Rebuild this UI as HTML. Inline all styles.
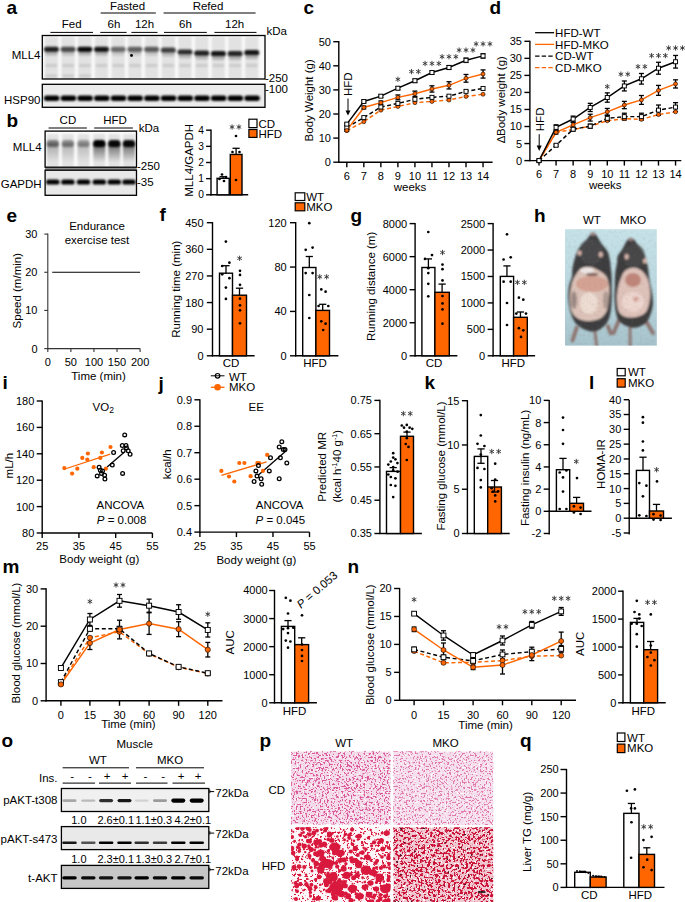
<!DOCTYPE html>
<html><head><meta charset="utf-8"><style>
html,body{margin:0;padding:0;background:#fff;}
svg{display:block;}
text{font-family:"Liberation Sans",sans-serif;}
</style></head><body>
<svg width="685" height="902" viewBox="0 0 685 902" font-family="Liberation Sans, sans-serif" font-size="11.5" stroke-linecap="butt">
<defs>
<filter id="tx1" x="0" y="0" width="100%" height="100%" color-interpolation-filters="sRGB"><feTurbulence type="fractalNoise" baseFrequency="0.55" numOctaves="2" seed="3"/><feColorMatrix type="matrix" values="0 0 0 0 0.86  0 0 0 0 0.35  0 0 0 0 0.6  14 0 0 0 -7.63"/></filter>
<filter id="tx1b" x="0" y="0" width="100%" height="100%" color-interpolation-filters="sRGB"><feTurbulence type="fractalNoise" baseFrequency="0.5" numOctaves="2" seed="9"/><feColorMatrix type="matrix" values="0 0 0 0 1  0 0 0 0 1  0 0 0 0 1  14 0 0 0 -8.96"/></filter>
<filter id="tx2" x="0" y="0" width="100%" height="100%" color-interpolation-filters="sRGB"><feTurbulence type="fractalNoise" baseFrequency="0.55" numOctaves="2" seed="5"/><feColorMatrix type="matrix" values="0 0 0 0 0.88  0 0 0 0 0.48  0 0 0 0 0.68  14 0 0 0 -7.84"/></filter>
<filter id="tx3" x="0" y="0" width="100%" height="100%" color-interpolation-filters="sRGB"><feTurbulence type="fractalNoise" baseFrequency="0.45" numOctaves="2" seed="7"/><feColorMatrix type="matrix" values="0 0 0 0 0.85  0 0 0 0 0.09  0 0 0 0 0.22  20 0 0 0 -12.2"/></filter>
<filter id="tx4" x="0" y="0" width="100%" height="100%" color-interpolation-filters="sRGB"><feTurbulence type="fractalNoise" baseFrequency="0.4" numOctaves="2" seed="11"/><feColorMatrix type="matrix" values="0 0 0 0 0.8  0 0 0 0 0.08  0 0 0 0 0.22  20 0 0 0 -10.3"/></filter>
<filter id="tx4c" x="0" y="0" width="100%" height="100%" color-interpolation-filters="sRGB"><feTurbulence type="fractalNoise" baseFrequency="0.3" numOctaves="2" seed="17"/><feColorMatrix type="matrix" values="0 0 0 0 0.3  0 0 0 0 0.1  0 0 0 0 0.15  20 0 0 0 -14.8"/></filter>
<filter id="tx4b" x="0" y="0" width="100%" height="100%" color-interpolation-filters="sRGB"><feTurbulence type="fractalNoise" baseFrequency="0.5" numOctaves="2" seed="13"/><feColorMatrix type="matrix" values="0 0 0 0 1  0 0 0 0 1  0 0 0 0 1  20 0 0 0 -13.0"/></filter>
<filter id="txm" x="0" y="0" width="100%" height="100%" color-interpolation-filters="sRGB"><feTurbulence type="fractalNoise" baseFrequency="0.35" numOctaves="2" seed="21"/><feColorMatrix type="matrix" values="0 0 0 0 0.55  0 0 0 0 0.5  0 0 0 0 0.5  2 0 0 0 -1.0"/></filter>
<filter id="bl1" x="-50%" y="-100%" width="200%" height="300%"><feGaussianBlur stdDeviation="1.1"/></filter>
<filter id="bl2" x="-50%" y="-20%" width="200%" height="140%"><feGaussianBlur stdDeviation="1.5"/></filter>
<linearGradient id="smg" x1="0" y1="0" x2="0" y2="1"><stop offset="0" stop-color="#000" stop-opacity="1"/><stop offset="1" stop-color="#000" stop-opacity="0"/></linearGradient>
<filter id="blm" x="-10%" y="-10%" width="120%" height="120%"><feGaussianBlur stdDeviation="0.9"/></filter>
<linearGradient id="hbg" x1="0" y1="0" x2="0" y2="1"><stop offset="0" stop-color="#c6e2e8"/><stop offset="0.6" stop-color="#b8d6de"/><stop offset="1" stop-color="#a6c2ca"/></linearGradient>
<filter id="bl06" x="-50%" y="-100%" width="200%" height="300%"><feGaussianBlur stdDeviation="0.65"/></filter>
<filter id="bl07"><feGaussianBlur stdDeviation="0.7"/></filter>
<clipPath id="hclip"><rect x="565" y="229.2" width="91.8" height="116.4"/></clipPath>
</defs>
<text x="6.5" y="14.3" font-size="19" font-weight="bold">a</text>
<text x="127.5" y="10.3" text-anchor="middle">Fasted</text>
<line x1="100.7" y1="13" x2="155.8" y2="13" stroke="#000"/>
<text x="208" y="10.3" text-anchor="middle">Refed</text>
<line x1="163.6" y1="13" x2="255.6" y2="13" stroke="#000"/>
<text x="71.7" y="28.2" text-anchor="middle">Fed</text>
<text x="113.9" y="28.2" text-anchor="middle">6h</text>
<text x="144.5" y="28.2" text-anchor="middle">12h</text>
<text x="185.5" y="28.2" text-anchor="middle">6h</text>
<text x="234.6" y="28.2" text-anchor="middle">12h</text>
<line x1="50.4" y1="32.4" x2="93" y2="32.4" stroke="#000"/>
<line x1="100.3" y1="32.4" x2="126.6" y2="32.4" stroke="#000"/>
<line x1="131.4" y1="32.4" x2="157.5" y2="32.4" stroke="#000"/>
<line x1="164" y1="32.4" x2="206.8" y2="32.4" stroke="#000"/>
<line x1="214.4" y1="32.4" x2="256.5" y2="32.4" stroke="#000"/>
<text x="266.5" y="35.2">kDa</text>
<rect x="42.3" y="35.5" width="222.7" height="43.5" fill="#fafafa"/>
<clipPath id="cb17"><rect x="42.3" y="35.5" width="222.7" height="43.5"/></clipPath><g clip-path="url(#cb17)">
<rect x="44.65" y="36.5" width="13.5" height="44.5" fill="#e2e2e2" filter="url(#bl1)"/>
<rect x="61.35" y="36.5" width="13.5" height="44.5" fill="#e2e2e2" filter="url(#bl1)"/>
<rect x="78.05" y="36.5" width="13.5" height="44.5" fill="#e2e2e2" filter="url(#bl1)"/>
<rect x="94.75" y="36.5" width="13.5" height="44.5" fill="#e2e2e2" filter="url(#bl1)"/>
<rect x="111.45" y="36.5" width="13.5" height="44.5" fill="#e2e2e2" filter="url(#bl1)"/>
<rect x="128.15" y="36.5" width="13.5" height="44.5" fill="#e2e2e2" filter="url(#bl1)"/>
<rect x="144.85" y="36.5" width="13.5" height="44.5" fill="#e2e2e2" filter="url(#bl1)"/>
<rect x="161.55" y="36.5" width="13.5" height="44.5" fill="#e2e2e2" filter="url(#bl1)"/>
<rect x="178.25" y="36.5" width="13.5" height="44.5" fill="#e2e2e2" filter="url(#bl1)"/>
<rect x="194.95" y="36.5" width="13.5" height="44.5" fill="#e2e2e2" filter="url(#bl1)"/>
<rect x="211.65" y="36.5" width="13.5" height="44.5" fill="#e2e2e2" filter="url(#bl1)"/>
<rect x="228.35" y="36.5" width="13.5" height="44.5" fill="#e2e2e2" filter="url(#bl1)"/>
<rect x="245.05" y="36.5" width="13.5" height="44.5" fill="#e2e2e2" filter="url(#bl1)"/>
<rect x="43.9" y="46.7" width="15" height="5.2" rx="2.6" fill="#000" opacity="0.855" filter="url(#bl1)"/>
<rect x="60.6" y="46.7" width="15" height="5.2" rx="2.6" fill="#000" opacity="0.6649999999999999" filter="url(#bl1)"/>
<rect x="77.3" y="46.7" width="15" height="5.2" rx="2.6" fill="#000" opacity="0.95" filter="url(#bl1)"/>
<rect x="94" y="46.7" width="15" height="5.2" rx="2.6" fill="#000" opacity="0.9025" filter="url(#bl1)"/>
<rect x="110.7" y="46.7" width="15" height="5.2" rx="2.6" fill="#000" opacity="0.5225" filter="url(#bl1)"/>
<rect x="127.4" y="46.7" width="15" height="5.2" rx="2.6" fill="#000" opacity="0.57" filter="url(#bl1)"/>
<rect x="144.1" y="46.7" width="15" height="5.2" rx="2.6" fill="#000" opacity="0.589" filter="url(#bl1)"/>
<rect x="160.8" y="47.6" width="15" height="5.2" rx="2.6" fill="#000" opacity="0.7124999999999999" filter="url(#bl1)"/>
<rect x="177.5" y="49.4" width="15" height="5.2" rx="2.6" fill="#000" opacity="0.8075" filter="url(#bl1)"/>
<rect x="194.2" y="50.6" width="15" height="5.2" rx="2.6" fill="#000" opacity="0.855" filter="url(#bl1)"/>
<rect x="210.9" y="51.1" width="15" height="5.2" rx="2.6" fill="#000" opacity="0.9025" filter="url(#bl1)"/>
<rect x="227.6" y="51.1" width="15" height="5.2" rx="2.6" fill="#000" opacity="0.836" filter="url(#bl1)"/>
<rect x="244.3" y="50.1" width="15" height="5.2" rx="2.6" fill="#000" opacity="0.9025" filter="url(#bl1)"/>
<rect x="44.9" y="51.6" width="13" height="4" rx="2" fill="#000" opacity="0.198" filter="url(#bl1)"/>
<rect x="61.6" y="51.6" width="13" height="4" rx="2" fill="#000" opacity="0.154" filter="url(#bl1)"/>
<rect x="78.3" y="51.6" width="13" height="4" rx="2" fill="#000" opacity="0.22" filter="url(#bl1)"/>
<rect x="95" y="51.6" width="13" height="4" rx="2" fill="#000" opacity="0.209" filter="url(#bl1)"/>
<rect x="111.7" y="51.6" width="13" height="4" rx="2" fill="#000" opacity="0.12100000000000001" filter="url(#bl1)"/>
<rect x="128.4" y="51.6" width="13" height="4" rx="2" fill="#000" opacity="0.132" filter="url(#bl1)"/>
<rect x="145.1" y="51.6" width="13" height="4" rx="2" fill="#000" opacity="0.1364" filter="url(#bl1)"/>
<rect x="161.8" y="52.5" width="13" height="4" rx="2" fill="#000" opacity="0.165" filter="url(#bl1)"/>
<rect x="178.5" y="54.3" width="13" height="4" rx="2" fill="#000" opacity="0.187" filter="url(#bl1)"/>
<rect x="195.2" y="55.5" width="13" height="4" rx="2" fill="#000" opacity="0.198" filter="url(#bl1)"/>
<rect x="211.9" y="56" width="13" height="4" rx="2" fill="#000" opacity="0.209" filter="url(#bl1)"/>
<rect x="228.6" y="56" width="13" height="4" rx="2" fill="#000" opacity="0.1936" filter="url(#bl1)"/>
<rect x="245.3" y="55" width="13" height="4" rx="2" fill="#000" opacity="0.209" filter="url(#bl1)"/>
<rect x="45.4" y="64" width="12" height="3" rx="1.5" fill="#000" opacity="0.1" filter="url(#bl1)"/>
<rect x="62.1" y="64" width="12" height="3" rx="1.5" fill="#000" opacity="0.1" filter="url(#bl1)"/>
<rect x="78.8" y="64" width="12" height="3" rx="1.5" fill="#000" opacity="0.1" filter="url(#bl1)"/>
<rect x="95.5" y="64" width="12" height="3" rx="1.5" fill="#000" opacity="0.1" filter="url(#bl1)"/>
<rect x="112.2" y="64" width="12" height="3" rx="1.5" fill="#000" opacity="0.1" filter="url(#bl1)"/>
<rect x="128.9" y="64" width="12" height="3" rx="1.5" fill="#000" opacity="0.1" filter="url(#bl1)"/>
<rect x="145.6" y="64" width="12" height="3" rx="1.5" fill="#000" opacity="0.1" filter="url(#bl1)"/>
<rect x="162.3" y="64" width="12" height="3" rx="1.5" fill="#000" opacity="0.1" filter="url(#bl1)"/>
<rect x="179" y="64" width="12" height="3" rx="1.5" fill="#000" opacity="0.1" filter="url(#bl1)"/>
<rect x="195.7" y="64" width="12" height="3" rx="1.5" fill="#000" opacity="0.1" filter="url(#bl1)"/>
<rect x="212.4" y="64" width="12" height="3" rx="1.5" fill="#000" opacity="0.1" filter="url(#bl1)"/>
<rect x="229.1" y="64" width="12" height="3" rx="1.5" fill="#000" opacity="0.1" filter="url(#bl1)"/>
<rect x="245.8" y="64" width="12" height="3" rx="1.5" fill="#000" opacity="0.1" filter="url(#bl1)"/>
<rect x="45.4" y="74.5" width="12" height="3" rx="1.5" fill="#000" opacity="0.1" filter="url(#bl1)"/>
<rect x="62.1" y="74.5" width="12" height="3" rx="1.5" fill="#000" opacity="0.1" filter="url(#bl1)"/>
<rect x="78.8" y="74.5" width="12" height="3" rx="1.5" fill="#000" opacity="0.1" filter="url(#bl1)"/>
</g>
<rect x="42.3" y="35.5" width="222.7" height="43.5" fill="none" stroke="#000" stroke-width="1.3"/>
<circle cx="131.5" cy="55.5" r="1.4" fill="#000"/>
<rect x="42.3" y="84.3" width="222.7" height="23" fill="#ececec"/>
<clipPath id="cb77"><rect x="42.3" y="84.3" width="222.7" height="23"/></clipPath><g clip-path="url(#cb77)">
<rect x="43.95" y="95.5" width="15.5" height="5.4" rx="2.7" fill="#000" opacity="1.0" filter="url(#bl1)"/>
<rect x="60.65" y="95.5" width="15.5" height="5.4" rx="2.7" fill="#000" opacity="1.0" filter="url(#bl1)"/>
<rect x="77.35" y="95.5" width="15.5" height="5.4" rx="2.7" fill="#000" opacity="1.0" filter="url(#bl1)"/>
<rect x="94.05" y="95.5" width="15.5" height="5.4" rx="2.7" fill="#000" opacity="1.0" filter="url(#bl1)"/>
<rect x="110.75" y="95.5" width="15.5" height="5.4" rx="2.7" fill="#000" opacity="1.0" filter="url(#bl1)"/>
<rect x="127.45" y="95.5" width="15.5" height="5.4" rx="2.7" fill="#000" opacity="1.0" filter="url(#bl1)"/>
<rect x="144.15" y="95.5" width="15.5" height="5.4" rx="2.7" fill="#000" opacity="1.0" filter="url(#bl1)"/>
<rect x="160.85" y="95.5" width="15.5" height="5.4" rx="2.7" fill="#000" opacity="1.0" filter="url(#bl1)"/>
<rect x="177.55" y="95.5" width="15.5" height="5.4" rx="2.7" fill="#000" opacity="1.0" filter="url(#bl1)"/>
<rect x="194.25" y="95.5" width="15.5" height="5.4" rx="2.7" fill="#000" opacity="1.0" filter="url(#bl1)"/>
<rect x="210.95" y="95.5" width="15.5" height="5.4" rx="2.7" fill="#000" opacity="1.0" filter="url(#bl1)"/>
<rect x="227.65" y="95.5" width="15.5" height="5.4" rx="2.7" fill="#000" opacity="1.0" filter="url(#bl1)"/>
<rect x="244.35" y="95.5" width="15.5" height="5.4" rx="2.7" fill="#000" opacity="1.0" filter="url(#bl1)"/>
</g>
<rect x="42.3" y="84.3" width="222.7" height="23" fill="none" stroke="#000" stroke-width="1.3"/>
<text x="40.5" y="58.84" text-anchor="end">MLL4</text>
<text x="40.5" y="103.74" text-anchor="end">HSP90</text>
<text x="265" y="81.84">-250</text>
<text x="265" y="93.44">-100</text>
<text x="6.5" y="127" font-size="19" font-weight="bold">b</text>
<text x="67.9" y="123.6" text-anchor="middle">CD</text>
<line x1="48.6" y1="128" x2="86.9" y2="128" stroke="#000"/>
<text x="115" y="123.6" text-anchor="middle">HFD</text>
<line x1="94.2" y1="128" x2="132.9" y2="128" stroke="#000"/>
<text x="138.8" y="131.74">kDa</text>
<rect x="45.1" y="166.5" width="91.6" height="4.5" fill="#888"/>
<rect x="45.1" y="131.1" width="91.4" height="36.1" fill="#fbfbfb"/>
<clipPath id="cb105"><rect x="45.1" y="131.1" width="91.4" height="36.1"/></clipPath><g clip-path="url(#cb105)">
<rect x="46.8" y="134" width="12" height="35.2" fill="#e2e2e2" filter="url(#bl1)"/>
<rect x="61.9" y="134" width="12" height="35.2" fill="#e2e2e2" filter="url(#bl1)"/>
<rect x="77.5" y="134" width="12" height="35.2" fill="#e2e2e2" filter="url(#bl1)"/>
<rect x="93.3" y="134" width="12" height="35.2" fill="#e2e2e2" filter="url(#bl1)"/>
<rect x="108.3" y="134" width="12" height="35.2" fill="#e2e2e2" filter="url(#bl1)"/>
<rect x="123" y="134" width="12" height="35.2" fill="#e2e2e2" filter="url(#bl1)"/>
<rect x="46.8" y="143" width="12" height="19" fill="url(#smg)" opacity="0.27" filter="url(#bl1)"/>
<rect x="61.9" y="143" width="12" height="19" fill="url(#smg)" opacity="0.22799999999999998" filter="url(#bl1)"/>
<rect x="77.5" y="143" width="12" height="19" fill="url(#smg)" opacity="0.198" filter="url(#bl1)"/>
<rect x="93.3" y="143" width="12" height="19" fill="url(#smg)" opacity="0.6" filter="url(#bl1)"/>
<rect x="108.3" y="143" width="12" height="19" fill="url(#smg)" opacity="0.57" filter="url(#bl1)"/>
<rect x="123" y="143" width="12" height="19" fill="url(#smg)" opacity="0.57" filter="url(#bl1)"/>
<rect x="46.8" y="140" width="12" height="7" rx="3" fill="#000" opacity="0.45" filter="url(#bl1)"/>
<rect x="61.9" y="140" width="12" height="7" rx="3" fill="#000" opacity="0.38" filter="url(#bl1)"/>
<rect x="77.5" y="140" width="12" height="7" rx="3" fill="#000" opacity="0.33" filter="url(#bl1)"/>
<rect x="93.3" y="140" width="12" height="7" rx="3" fill="#000" opacity="1.0" filter="url(#bl1)"/>
<rect x="108.3" y="140" width="12" height="7" rx="3" fill="#000" opacity="0.95" filter="url(#bl1)"/>
<rect x="123" y="140" width="12" height="7" rx="3" fill="#000" opacity="0.95" filter="url(#bl1)"/>
</g>
<rect x="45.1" y="131.1" width="91.4" height="36.1" fill="none" stroke="#000" stroke-width="1.3"/>
<rect x="45.1" y="170.2" width="91.4" height="25.1" fill="#e8e8e8"/>
<clipPath id="cb127"><rect x="45.1" y="170.2" width="91.4" height="25.1"/></clipPath><g clip-path="url(#cb127)">
<rect x="46.05" y="179.4" width="13.5" height="5.2" rx="2.6" fill="#000" opacity="1.0" filter="url(#bl1)"/>
<rect x="61.15" y="179.4" width="13.5" height="5.2" rx="2.6" fill="#000" opacity="1.0" filter="url(#bl1)"/>
<rect x="76.75" y="179.4" width="13.5" height="5.2" rx="2.6" fill="#000" opacity="1.0" filter="url(#bl1)"/>
<rect x="92.55" y="179.4" width="13.5" height="5.2" rx="2.6" fill="#000" opacity="1.0" filter="url(#bl1)"/>
<rect x="107.55" y="179.4" width="13.5" height="5.2" rx="2.6" fill="#000" opacity="1.0" filter="url(#bl1)"/>
<rect x="122.25" y="179.4" width="13.5" height="5.2" rx="2.6" fill="#000" opacity="1.0" filter="url(#bl1)"/>
</g>
<rect x="45.1" y="170.2" width="91.4" height="25.1" fill="none" stroke="#000" stroke-width="1.3"/>
<text x="41.6" y="150.74" text-anchor="end">MLL4</text>
<text x="41.6" y="188.44" text-anchor="end">GAPDH</text>
<text x="137" y="170.04">-250</text>
<text x="137" y="185.74">-35</text>
<line x1="211" y1="129.5" x2="211" y2="195.4" stroke-width="1.4" stroke="#000"/>
<line x1="206.1" y1="194.8" x2="211" y2="194.8" stroke-width="1.4" stroke="#000"/>
<text x="204" y="198.47" font-size="10.2" text-anchor="end">0</text>
<line x1="206.1" y1="178.65" x2="211" y2="178.65" stroke-width="1.4" stroke="#000"/>
<text x="204" y="182.32" font-size="10.2" text-anchor="end">1</text>
<line x1="206.1" y1="162.5" x2="211" y2="162.5" stroke-width="1.4" stroke="#000"/>
<text x="204" y="166.17" font-size="10.2" text-anchor="end">2</text>
<line x1="206.1" y1="146.35" x2="211" y2="146.35" stroke-width="1.4" stroke="#000"/>
<text x="204" y="150.02" font-size="10.2" text-anchor="end">3</text>
<line x1="206.1" y1="130.2" x2="211" y2="130.2" stroke-width="1.4" stroke="#000"/>
<text x="204" y="133.87" font-size="10.2" text-anchor="end">4</text>
<line x1="210.4" y1="194.8" x2="248.2" y2="194.8" stroke-width="1.4" stroke="#000"/>
<rect x="217.1" y="178.33" width="12.1" height="16.47" fill="#fff" stroke="#000" stroke-width="1.4"/>
<line x1="223.1" y1="178.33" x2="223.1" y2="176.71" stroke-width="1.3" stroke="#000"/>
<line x1="219.5" y1="176.71" x2="226.7" y2="176.71" stroke-width="1.3" stroke="#000"/>
<rect x="230.3" y="154.43" width="11.7" height="40.38" fill="#ff6600" stroke="#000" stroke-width="1.4"/>
<line x1="236.1" y1="154.43" x2="236.1" y2="148.29" stroke-width="1.3" stroke="#000"/>
<line x1="232.5" y1="148.29" x2="239.7" y2="148.29" stroke-width="1.3" stroke="#000"/>
<circle cx="222" cy="174.5" r="1.35" fill="#000"/>
<circle cx="226" cy="177" r="1.35" fill="#000"/>
<circle cx="219.5" cy="179" r="1.35" fill="#000"/>
<circle cx="224" cy="181" r="1.35" fill="#000"/>
<circle cx="236" cy="136" r="1.35" fill="#000"/>
<circle cx="232.5" cy="152" r="1.35" fill="#000"/>
<circle cx="239.5" cy="152" r="1.35" fill="#000"/>
<circle cx="236" cy="180" r="1.35" fill="#000"/>
<path d="M232.05,124.75L232.05,129.25M230.10,125.88L234.00,128.12M230.10,128.12L234.00,125.88M238.95,124.75L238.95,129.25M237.00,125.88L240.90,128.12M237.00,128.12L240.90,125.88" stroke="#333" stroke-width="0.9" stroke-linecap="round" fill="none"/>
<rect x="248.9" y="119.2" width="8.1" height="8.4" fill="#fff" stroke="#000" stroke-width="1.2"/>
<rect x="248.9" y="129.5" width="8.1" height="7.9" fill="#ff6600" stroke="#000" stroke-width="1.2"/>
<text x="258.5" y="127.54">CD</text>
<text x="258.5" y="137.64">HFD</text>
<text x="0" y="0" font-size="11.5" text-anchor="middle" fill="#000" transform="translate(193.24 160.3) rotate(-90)">MLL4/GAPDH</text>
<text x="303.5" y="14.3" font-size="19" font-weight="bold">c</text>
<line x1="338.8" y1="41.1" x2="338.8" y2="162.8" stroke-width="1.4" stroke="#000"/>
<line x1="333.3" y1="162.2" x2="338.8" y2="162.2" stroke-width="1.4" stroke="#000"/>
<text x="330.9" y="166.16" font-size="11" text-anchor="end">0</text>
<line x1="333.3" y1="138.1" x2="338.8" y2="138.1" stroke-width="1.4" stroke="#000"/>
<text x="330.9" y="142.06" font-size="11" text-anchor="end">10</text>
<line x1="333.3" y1="114" x2="338.8" y2="114" stroke-width="1.4" stroke="#000"/>
<text x="330.9" y="117.96" font-size="11" text-anchor="end">20</text>
<line x1="333.3" y1="89.9" x2="338.8" y2="89.9" stroke-width="1.4" stroke="#000"/>
<text x="330.9" y="93.86" font-size="11" text-anchor="end">30</text>
<line x1="333.3" y1="65.8" x2="338.8" y2="65.8" stroke-width="1.4" stroke="#000"/>
<text x="330.9" y="69.76" font-size="11" text-anchor="end">40</text>
<line x1="333.3" y1="41.7" x2="338.8" y2="41.7" stroke-width="1.4" stroke="#000"/>
<text x="330.9" y="45.66" font-size="11" text-anchor="end">50</text>
<line x1="338.2" y1="162.2" x2="492.6" y2="162.2" stroke-width="1.4" stroke="#000"/>
<line x1="346.8" y1="162.2" x2="346.8" y2="167.2" stroke-width="1.4" stroke="#000"/>
<text x="346.8" y="180.16" font-size="11" text-anchor="middle">6</text>
<line x1="363.83" y1="162.2" x2="363.83" y2="167.2" stroke-width="1.4" stroke="#000"/>
<text x="363.83" y="180.16" font-size="11" text-anchor="middle">7</text>
<line x1="380.86" y1="162.2" x2="380.86" y2="167.2" stroke-width="1.4" stroke="#000"/>
<text x="380.86" y="180.16" font-size="11" text-anchor="middle">8</text>
<line x1="397.89" y1="162.2" x2="397.89" y2="167.2" stroke-width="1.4" stroke="#000"/>
<text x="397.89" y="180.16" font-size="11" text-anchor="middle">9</text>
<line x1="414.92" y1="162.2" x2="414.92" y2="167.2" stroke-width="1.4" stroke="#000"/>
<text x="414.92" y="180.16" font-size="11" text-anchor="middle">10</text>
<line x1="431.95" y1="162.2" x2="431.95" y2="167.2" stroke-width="1.4" stroke="#000"/>
<text x="431.95" y="180.16" font-size="11" text-anchor="middle">11</text>
<line x1="448.98" y1="162.2" x2="448.98" y2="167.2" stroke-width="1.4" stroke="#000"/>
<text x="448.98" y="180.16" font-size="11" text-anchor="middle">12</text>
<line x1="466.01" y1="162.2" x2="466.01" y2="167.2" stroke-width="1.4" stroke="#000"/>
<text x="466.01" y="180.16" font-size="11" text-anchor="middle">13</text>
<line x1="483.04" y1="162.2" x2="483.04" y2="167.2" stroke-width="1.4" stroke="#000"/>
<text x="483.04" y="180.16" font-size="11" text-anchor="middle">14</text>
<text x="410" y="191" text-anchor="middle">weeks</text>
<text x="0" y="0" font-size="11.5" text-anchor="middle" fill="#000" transform="translate(312.64 100.3) rotate(-90)">Body Weight (g)</text>
<text font-size="11.5" transform="translate(352.1 96.1) rotate(-90)">HFD</text>
<line x1="348" y1="98.5" x2="348" y2="111" stroke="#000"/>
<path d="M345.5,110.6 L350.5,110.6 L348,115.6 Z" fill="#000"/>
<polyline points="346.8,130.63 363.83,121.71 380.86,110.14 397.89,106.53 414.92,102.67 431.95,101.47 448.98,100.02 466.01,96.41 483.04,94.24" fill="none" stroke="#ff6600" stroke-width="1.45" stroke-dasharray="4,2.6"/>
<polyline points="346.8,127.5 363.83,117.61 380.86,107.01 397.89,103.4 414.92,99.3 431.95,97.37 448.98,96.17 466.01,91.35 483.04,88.45" fill="none" stroke="#000" stroke-width="1.45" stroke-dasharray="4,2.6"/>
<polyline points="346.8,130.39 363.83,107.49 380.86,102.67 397.89,97.37 414.92,93.76 431.95,88.94 448.98,85.32 466.01,78.33 483.04,73.99" fill="none" stroke="#ff6600" stroke-width="1.45"/>
<polyline points="346.8,124.12 363.83,101.47 380.86,96.17 397.89,88.21 414.92,80.74 431.95,72.55 448.98,67.49 466.01,60.26 483.04,55.92" fill="none" stroke="#000" stroke-width="1.45"/>
<line x1="346.8" y1="130.39" x2="346.8" y2="129.42" stroke-width="1.3" stroke="#000"/>
<line x1="344.3" y1="129.42" x2="349.3" y2="129.42" stroke-width="1.3" stroke="#000"/>
<line x1="346.8" y1="130.39" x2="346.8" y2="131.35" stroke-width="1.3" stroke="#000"/>
<line x1="344.3" y1="131.35" x2="349.3" y2="131.35" stroke-width="1.3" stroke="#000"/>
<line x1="363.83" y1="107.49" x2="363.83" y2="106.05" stroke-width="1.3" stroke="#000"/>
<line x1="361.33" y1="106.05" x2="366.33" y2="106.05" stroke-width="1.3" stroke="#000"/>
<line x1="363.83" y1="107.49" x2="363.83" y2="108.94" stroke-width="1.3" stroke="#000"/>
<line x1="361.33" y1="108.94" x2="366.33" y2="108.94" stroke-width="1.3" stroke="#000"/>
<line x1="380.86" y1="102.67" x2="380.86" y2="100.99" stroke-width="1.3" stroke="#000"/>
<line x1="378.36" y1="100.99" x2="383.36" y2="100.99" stroke-width="1.3" stroke="#000"/>
<line x1="380.86" y1="102.67" x2="380.86" y2="104.36" stroke-width="1.3" stroke="#000"/>
<line x1="378.36" y1="104.36" x2="383.36" y2="104.36" stroke-width="1.3" stroke="#000"/>
<line x1="397.89" y1="97.37" x2="397.89" y2="94.96" stroke-width="1.3" stroke="#000"/>
<line x1="395.39" y1="94.96" x2="400.39" y2="94.96" stroke-width="1.3" stroke="#000"/>
<line x1="397.89" y1="97.37" x2="397.89" y2="99.78" stroke-width="1.3" stroke="#000"/>
<line x1="395.39" y1="99.78" x2="400.39" y2="99.78" stroke-width="1.3" stroke="#000"/>
<line x1="414.92" y1="93.76" x2="414.92" y2="91.11" stroke-width="1.3" stroke="#000"/>
<line x1="412.42" y1="91.11" x2="417.42" y2="91.11" stroke-width="1.3" stroke="#000"/>
<line x1="414.92" y1="93.76" x2="414.92" y2="96.41" stroke-width="1.3" stroke="#000"/>
<line x1="412.42" y1="96.41" x2="417.42" y2="96.41" stroke-width="1.3" stroke="#000"/>
<line x1="431.95" y1="88.94" x2="431.95" y2="85.8" stroke-width="1.3" stroke="#000"/>
<line x1="429.45" y1="85.8" x2="434.45" y2="85.8" stroke-width="1.3" stroke="#000"/>
<line x1="431.95" y1="88.94" x2="431.95" y2="92.07" stroke-width="1.3" stroke="#000"/>
<line x1="429.45" y1="92.07" x2="434.45" y2="92.07" stroke-width="1.3" stroke="#000"/>
<line x1="448.98" y1="85.32" x2="448.98" y2="81.71" stroke-width="1.3" stroke="#000"/>
<line x1="446.48" y1="81.71" x2="451.48" y2="81.71" stroke-width="1.3" stroke="#000"/>
<line x1="448.98" y1="85.32" x2="448.98" y2="88.94" stroke-width="1.3" stroke="#000"/>
<line x1="446.48" y1="88.94" x2="451.48" y2="88.94" stroke-width="1.3" stroke="#000"/>
<line x1="466.01" y1="78.33" x2="466.01" y2="74.48" stroke-width="1.3" stroke="#000"/>
<line x1="463.51" y1="74.48" x2="468.51" y2="74.48" stroke-width="1.3" stroke="#000"/>
<line x1="466.01" y1="78.33" x2="466.01" y2="82.19" stroke-width="1.3" stroke="#000"/>
<line x1="463.51" y1="82.19" x2="468.51" y2="82.19" stroke-width="1.3" stroke="#000"/>
<line x1="483.04" y1="73.99" x2="483.04" y2="69.9" stroke-width="1.3" stroke="#000"/>
<line x1="480.54" y1="69.9" x2="485.54" y2="69.9" stroke-width="1.3" stroke="#000"/>
<line x1="483.04" y1="73.99" x2="483.04" y2="78.09" stroke-width="1.3" stroke="#000"/>
<line x1="480.54" y1="78.09" x2="485.54" y2="78.09" stroke-width="1.3" stroke="#000"/>
<line x1="346.8" y1="124.12" x2="346.8" y2="123.16" stroke-width="1.3" stroke="#000"/>
<line x1="344.3" y1="123.16" x2="349.3" y2="123.16" stroke-width="1.3" stroke="#000"/>
<line x1="346.8" y1="124.12" x2="346.8" y2="125.09" stroke-width="1.3" stroke="#000"/>
<line x1="344.3" y1="125.09" x2="349.3" y2="125.09" stroke-width="1.3" stroke="#000"/>
<line x1="363.83" y1="101.47" x2="363.83" y2="100.26" stroke-width="1.3" stroke="#000"/>
<line x1="361.33" y1="100.26" x2="366.33" y2="100.26" stroke-width="1.3" stroke="#000"/>
<line x1="363.83" y1="101.47" x2="363.83" y2="102.67" stroke-width="1.3" stroke="#000"/>
<line x1="361.33" y1="102.67" x2="366.33" y2="102.67" stroke-width="1.3" stroke="#000"/>
<line x1="380.86" y1="96.17" x2="380.86" y2="94.96" stroke-width="1.3" stroke="#000"/>
<line x1="378.36" y1="94.96" x2="383.36" y2="94.96" stroke-width="1.3" stroke="#000"/>
<line x1="380.86" y1="96.17" x2="380.86" y2="97.37" stroke-width="1.3" stroke="#000"/>
<line x1="378.36" y1="97.37" x2="383.36" y2="97.37" stroke-width="1.3" stroke="#000"/>
<line x1="397.89" y1="88.21" x2="397.89" y2="86.77" stroke-width="1.3" stroke="#000"/>
<line x1="395.39" y1="86.77" x2="400.39" y2="86.77" stroke-width="1.3" stroke="#000"/>
<line x1="397.89" y1="88.21" x2="397.89" y2="89.66" stroke-width="1.3" stroke="#000"/>
<line x1="395.39" y1="89.66" x2="400.39" y2="89.66" stroke-width="1.3" stroke="#000"/>
<line x1="414.92" y1="80.74" x2="414.92" y2="79.06" stroke-width="1.3" stroke="#000"/>
<line x1="412.42" y1="79.06" x2="417.42" y2="79.06" stroke-width="1.3" stroke="#000"/>
<line x1="414.92" y1="80.74" x2="414.92" y2="82.43" stroke-width="1.3" stroke="#000"/>
<line x1="412.42" y1="82.43" x2="417.42" y2="82.43" stroke-width="1.3" stroke="#000"/>
<line x1="431.95" y1="72.55" x2="431.95" y2="70.86" stroke-width="1.3" stroke="#000"/>
<line x1="429.45" y1="70.86" x2="434.45" y2="70.86" stroke-width="1.3" stroke="#000"/>
<line x1="431.95" y1="72.55" x2="431.95" y2="74.23" stroke-width="1.3" stroke="#000"/>
<line x1="429.45" y1="74.23" x2="434.45" y2="74.23" stroke-width="1.3" stroke="#000"/>
<line x1="448.98" y1="67.49" x2="448.98" y2="65.56" stroke-width="1.3" stroke="#000"/>
<line x1="446.48" y1="65.56" x2="451.48" y2="65.56" stroke-width="1.3" stroke="#000"/>
<line x1="448.98" y1="67.49" x2="448.98" y2="69.42" stroke-width="1.3" stroke="#000"/>
<line x1="446.48" y1="69.42" x2="451.48" y2="69.42" stroke-width="1.3" stroke="#000"/>
<line x1="466.01" y1="60.26" x2="466.01" y2="58.09" stroke-width="1.3" stroke="#000"/>
<line x1="463.51" y1="58.09" x2="468.51" y2="58.09" stroke-width="1.3" stroke="#000"/>
<line x1="466.01" y1="60.26" x2="466.01" y2="62.43" stroke-width="1.3" stroke="#000"/>
<line x1="463.51" y1="62.43" x2="468.51" y2="62.43" stroke-width="1.3" stroke="#000"/>
<line x1="483.04" y1="55.92" x2="483.04" y2="53.75" stroke-width="1.3" stroke="#000"/>
<line x1="480.54" y1="53.75" x2="485.54" y2="53.75" stroke-width="1.3" stroke="#000"/>
<line x1="483.04" y1="55.92" x2="483.04" y2="58.09" stroke-width="1.3" stroke="#000"/>
<line x1="480.54" y1="58.09" x2="485.54" y2="58.09" stroke-width="1.3" stroke="#000"/>
<circle cx="346.8" cy="130.63" r="2" fill="#ff6600" stroke="#000" stroke-width="0.6"/>
<circle cx="363.83" cy="121.71" r="2" fill="#ff6600" stroke="#000" stroke-width="0.6"/>
<circle cx="380.86" cy="110.14" r="2" fill="#ff6600" stroke="#000" stroke-width="0.6"/>
<circle cx="397.89" cy="106.53" r="2" fill="#ff6600" stroke="#000" stroke-width="0.6"/>
<circle cx="414.92" cy="102.67" r="2" fill="#ff6600" stroke="#000" stroke-width="0.6"/>
<circle cx="431.95" cy="101.47" r="2" fill="#ff6600" stroke="#000" stroke-width="0.6"/>
<circle cx="448.98" cy="100.02" r="2" fill="#ff6600" stroke="#000" stroke-width="0.6"/>
<circle cx="466.01" cy="96.41" r="2" fill="#ff6600" stroke="#000" stroke-width="0.6"/>
<circle cx="483.04" cy="94.24" r="2" fill="#ff6600" stroke="#000" stroke-width="0.6"/>
<rect x="344.8" y="125.5" width="4" height="4" fill="#fff" stroke="#000" stroke-width="0.95"/>
<rect x="361.83" y="115.61" width="4" height="4" fill="#fff" stroke="#000" stroke-width="0.95"/>
<rect x="378.86" y="105.01" width="4" height="4" fill="#fff" stroke="#000" stroke-width="0.95"/>
<rect x="395.89" y="101.4" width="4" height="4" fill="#fff" stroke="#000" stroke-width="0.95"/>
<rect x="412.92" y="97.3" width="4" height="4" fill="#fff" stroke="#000" stroke-width="0.95"/>
<rect x="429.95" y="95.37" width="4" height="4" fill="#fff" stroke="#000" stroke-width="0.95"/>
<rect x="446.98" y="94.17" width="4" height="4" fill="#fff" stroke="#000" stroke-width="0.95"/>
<rect x="464.01" y="89.35" width="4" height="4" fill="#fff" stroke="#000" stroke-width="0.95"/>
<rect x="481.04" y="86.45" width="4" height="4" fill="#fff" stroke="#000" stroke-width="0.95"/>
<circle cx="346.8" cy="130.39" r="2" fill="#ff6600" stroke="#000" stroke-width="0.6"/>
<circle cx="363.83" cy="107.49" r="2" fill="#ff6600" stroke="#000" stroke-width="0.6"/>
<circle cx="380.86" cy="102.67" r="2" fill="#ff6600" stroke="#000" stroke-width="0.6"/>
<circle cx="397.89" cy="97.37" r="2" fill="#ff6600" stroke="#000" stroke-width="0.6"/>
<circle cx="414.92" cy="93.76" r="2" fill="#ff6600" stroke="#000" stroke-width="0.6"/>
<circle cx="431.95" cy="88.94" r="2" fill="#ff6600" stroke="#000" stroke-width="0.6"/>
<circle cx="448.98" cy="85.32" r="2" fill="#ff6600" stroke="#000" stroke-width="0.6"/>
<circle cx="466.01" cy="78.33" r="2" fill="#ff6600" stroke="#000" stroke-width="0.6"/>
<circle cx="483.04" cy="73.99" r="2" fill="#ff6600" stroke="#000" stroke-width="0.6"/>
<rect x="344.8" y="122.12" width="4" height="4" fill="#fff" stroke="#000" stroke-width="0.95"/>
<rect x="361.83" y="99.47" width="4" height="4" fill="#fff" stroke="#000" stroke-width="0.95"/>
<rect x="378.86" y="94.17" width="4" height="4" fill="#fff" stroke="#000" stroke-width="0.95"/>
<rect x="395.89" y="86.21" width="4" height="4" fill="#fff" stroke="#000" stroke-width="0.95"/>
<rect x="412.92" y="78.74" width="4" height="4" fill="#fff" stroke="#000" stroke-width="0.95"/>
<rect x="429.95" y="70.55" width="4" height="4" fill="#fff" stroke="#000" stroke-width="0.95"/>
<rect x="446.98" y="65.49" width="4" height="4" fill="#fff" stroke="#000" stroke-width="0.95"/>
<rect x="464.01" y="58.26" width="4" height="4" fill="#fff" stroke="#000" stroke-width="0.95"/>
<rect x="481.04" y="53.92" width="4" height="4" fill="#fff" stroke="#000" stroke-width="0.95"/>
<path d="M397.89,77.05L397.89,81.55M395.94,78.17L399.84,80.42M395.94,80.42L399.84,78.17" stroke="#333" stroke-width="0.9" stroke-linecap="round" fill="none"/>
<path d="M411.47,69.35L411.47,73.85M409.52,70.47L413.42,72.72M409.52,72.72L413.42,70.47M418.37,69.35L418.37,73.85M416.42,70.47L420.32,72.72M416.42,72.72L420.32,70.47" stroke="#333" stroke-width="0.9" stroke-linecap="round" fill="none"/>
<path d="M425.05,61.25L425.05,65.75M423.10,62.38L427.00,64.62M423.10,64.62L427.00,62.38M431.95,61.25L431.95,65.75M430.00,62.38L433.90,64.62M430.00,64.62L433.90,62.38M438.85,61.25L438.85,65.75M436.90,62.38L440.80,64.62M436.90,64.62L440.80,62.38" stroke="#333" stroke-width="0.9" stroke-linecap="round" fill="none"/>
<path d="M442.08,54.45L442.08,58.95M440.13,55.58L444.03,57.83M440.13,57.83L444.03,55.58M448.98,54.45L448.98,58.95M447.03,55.58L450.93,57.83M447.03,57.83L450.93,55.58M455.88,54.45L455.88,58.95M453.93,55.58L457.83,57.83M453.93,57.83L457.83,55.58" stroke="#333" stroke-width="0.9" stroke-linecap="round" fill="none"/>
<path d="M459.11,47.85L459.11,52.35M457.16,48.98L461.06,51.23M457.16,51.23L461.06,48.98M466.01,47.85L466.01,52.35M464.06,48.98L467.96,51.23M464.06,51.23L467.96,48.98M472.91,47.85L472.91,52.35M470.96,48.98L474.86,51.23M470.96,51.23L474.86,48.98" stroke="#333" stroke-width="0.9" stroke-linecap="round" fill="none"/>
<path d="M476.14,41.65L476.14,46.15M474.19,42.77L478.09,45.02M474.19,45.02L478.09,42.77M483.04,41.65L483.04,46.15M481.09,42.77L484.99,45.02M481.09,45.02L484.99,42.77M489.94,41.65L489.94,46.15M487.99,42.77L491.89,45.02M487.99,45.02L491.89,42.77" stroke="#333" stroke-width="0.9" stroke-linecap="round" fill="none"/>
<text x="489.5" y="14.3" font-size="19" font-weight="bold">d</text>
<line x1="529.9" y1="40.7" x2="529.9" y2="161.2" stroke-width="1.4" stroke="#000"/>
<line x1="524.4" y1="160.6" x2="529.9" y2="160.6" stroke-width="1.4" stroke="#000"/>
<text x="522" y="164.56" font-size="11" text-anchor="end">0</text>
<line x1="524.4" y1="143.56" x2="529.9" y2="143.56" stroke-width="1.4" stroke="#000"/>
<text x="522" y="147.52" font-size="11" text-anchor="end">5</text>
<line x1="524.4" y1="126.51" x2="529.9" y2="126.51" stroke-width="1.4" stroke="#000"/>
<text x="522" y="130.47" font-size="11" text-anchor="end">10</text>
<line x1="524.4" y1="109.47" x2="529.9" y2="109.47" stroke-width="1.4" stroke="#000"/>
<text x="522" y="113.43" font-size="11" text-anchor="end">15</text>
<line x1="524.4" y1="92.43" x2="529.9" y2="92.43" stroke-width="1.4" stroke="#000"/>
<text x="522" y="96.39" font-size="11" text-anchor="end">20</text>
<line x1="524.4" y1="75.39" x2="529.9" y2="75.39" stroke-width="1.4" stroke="#000"/>
<text x="522" y="79.35" font-size="11" text-anchor="end">25</text>
<line x1="524.4" y1="58.34" x2="529.9" y2="58.34" stroke-width="1.4" stroke="#000"/>
<text x="522" y="62.3" font-size="11" text-anchor="end">30</text>
<line x1="524.4" y1="41.3" x2="529.9" y2="41.3" stroke-width="1.4" stroke="#000"/>
<text x="522" y="45.26" font-size="11" text-anchor="end">35</text>
<line x1="529.3" y1="160.6" x2="681.3" y2="160.6" stroke-width="1.4" stroke="#000"/>
<line x1="539" y1="160.6" x2="539" y2="165.6" stroke-width="1.4" stroke="#000"/>
<text x="539" y="177.96" font-size="11" text-anchor="middle">6</text>
<line x1="556.07" y1="160.6" x2="556.07" y2="165.6" stroke-width="1.4" stroke="#000"/>
<text x="556.07" y="177.96" font-size="11" text-anchor="middle">7</text>
<line x1="573.14" y1="160.6" x2="573.14" y2="165.6" stroke-width="1.4" stroke="#000"/>
<text x="573.14" y="177.96" font-size="11" text-anchor="middle">8</text>
<line x1="590.21" y1="160.6" x2="590.21" y2="165.6" stroke-width="1.4" stroke="#000"/>
<text x="590.21" y="177.96" font-size="11" text-anchor="middle">9</text>
<line x1="607.28" y1="160.6" x2="607.28" y2="165.6" stroke-width="1.4" stroke="#000"/>
<text x="607.28" y="177.96" font-size="11" text-anchor="middle">10</text>
<line x1="624.35" y1="160.6" x2="624.35" y2="165.6" stroke-width="1.4" stroke="#000"/>
<text x="624.35" y="177.96" font-size="11" text-anchor="middle">11</text>
<line x1="641.42" y1="160.6" x2="641.42" y2="165.6" stroke-width="1.4" stroke="#000"/>
<text x="641.42" y="177.96" font-size="11" text-anchor="middle">12</text>
<line x1="658.49" y1="160.6" x2="658.49" y2="165.6" stroke-width="1.4" stroke="#000"/>
<text x="658.49" y="177.96" font-size="11" text-anchor="middle">13</text>
<line x1="675.56" y1="160.6" x2="675.56" y2="165.6" stroke-width="1.4" stroke="#000"/>
<text x="675.56" y="177.96" font-size="11" text-anchor="middle">14</text>
<text x="605.3" y="189.3" text-anchor="middle">weeks</text>
<text x="0" y="0" font-size="11.5" text-anchor="middle" fill="#000" transform="translate(504.64 99.6) rotate(-90)">∆Body weight (g)</text>
<text font-size="11.5" transform="translate(543.6 131.2) rotate(-90)">HFD</text>
<line x1="539.2" y1="134.2" x2="539.2" y2="146" stroke="#000"/>
<path d="M536.7,145.5 L541.7,145.5 L539.2,151 Z" fill="#000"/>
<polyline points="539,160.6 556.07,132.31 573.14,129.58 590.21,126.17 607.28,120.72 624.35,118.67 641.42,119.36 658.49,114.58 675.56,111.86" fill="none" stroke="#ff6600" stroke-width="1.45" stroke-dasharray="4,2.6"/>
<polyline points="539,160.6 556.07,145.26 573.14,129.24 590.21,126.17 607.28,118.33 624.35,116.63 641.42,116.63 658.49,110.15 675.56,107.09" fill="none" stroke="#000" stroke-width="1.45" stroke-dasharray="4,2.6"/>
<polyline points="539,160.6 556.07,132.31 573.14,124.81 590.21,117.65 607.28,111.86 624.35,105.04 641.42,99.93 658.49,90.38 675.56,83.91" fill="none" stroke="#ff6600" stroke-width="1.45"/>
<polyline points="539,160.6 556.07,127.37 573.14,119.02 590.21,107.43 607.28,97.54 624.35,85.95 641.42,78.79 658.49,68.23 675.56,61.75" fill="none" stroke="#000" stroke-width="1.45"/>
<line x1="539" y1="160.6" x2="539" y2="160.6" stroke-width="1.3" stroke="#000"/>
<line x1="536.5" y1="160.6" x2="541.5" y2="160.6" stroke-width="1.3" stroke="#000"/>
<line x1="539" y1="160.6" x2="539" y2="160.6" stroke-width="1.3" stroke="#000"/>
<line x1="536.5" y1="160.6" x2="541.5" y2="160.6" stroke-width="1.3" stroke="#000"/>
<line x1="556.07" y1="145.26" x2="556.07" y2="144.24" stroke-width="1.3" stroke="#000"/>
<line x1="553.57" y1="144.24" x2="558.57" y2="144.24" stroke-width="1.3" stroke="#000"/>
<line x1="556.07" y1="145.26" x2="556.07" y2="146.28" stroke-width="1.3" stroke="#000"/>
<line x1="553.57" y1="146.28" x2="558.57" y2="146.28" stroke-width="1.3" stroke="#000"/>
<line x1="573.14" y1="129.24" x2="573.14" y2="127.54" stroke-width="1.3" stroke="#000"/>
<line x1="570.64" y1="127.54" x2="575.64" y2="127.54" stroke-width="1.3" stroke="#000"/>
<line x1="573.14" y1="129.24" x2="573.14" y2="130.95" stroke-width="1.3" stroke="#000"/>
<line x1="570.64" y1="130.95" x2="575.64" y2="130.95" stroke-width="1.3" stroke="#000"/>
<line x1="590.21" y1="126.17" x2="590.21" y2="124.13" stroke-width="1.3" stroke="#000"/>
<line x1="587.71" y1="124.13" x2="592.71" y2="124.13" stroke-width="1.3" stroke="#000"/>
<line x1="590.21" y1="126.17" x2="590.21" y2="128.22" stroke-width="1.3" stroke="#000"/>
<line x1="587.71" y1="128.22" x2="592.71" y2="128.22" stroke-width="1.3" stroke="#000"/>
<line x1="607.28" y1="118.33" x2="607.28" y2="115.27" stroke-width="1.3" stroke="#000"/>
<line x1="604.78" y1="115.27" x2="609.78" y2="115.27" stroke-width="1.3" stroke="#000"/>
<line x1="607.28" y1="118.33" x2="607.28" y2="121.4" stroke-width="1.3" stroke="#000"/>
<line x1="604.78" y1="121.4" x2="609.78" y2="121.4" stroke-width="1.3" stroke="#000"/>
<line x1="624.35" y1="116.63" x2="624.35" y2="113.22" stroke-width="1.3" stroke="#000"/>
<line x1="621.85" y1="113.22" x2="626.85" y2="113.22" stroke-width="1.3" stroke="#000"/>
<line x1="624.35" y1="116.63" x2="624.35" y2="120.04" stroke-width="1.3" stroke="#000"/>
<line x1="621.85" y1="120.04" x2="626.85" y2="120.04" stroke-width="1.3" stroke="#000"/>
<line x1="641.42" y1="116.63" x2="641.42" y2="113.22" stroke-width="1.3" stroke="#000"/>
<line x1="638.92" y1="113.22" x2="643.92" y2="113.22" stroke-width="1.3" stroke="#000"/>
<line x1="641.42" y1="116.63" x2="641.42" y2="120.04" stroke-width="1.3" stroke="#000"/>
<line x1="638.92" y1="120.04" x2="643.92" y2="120.04" stroke-width="1.3" stroke="#000"/>
<line x1="658.49" y1="110.15" x2="658.49" y2="105.04" stroke-width="1.3" stroke="#000"/>
<line x1="655.99" y1="105.04" x2="660.99" y2="105.04" stroke-width="1.3" stroke="#000"/>
<line x1="658.49" y1="110.15" x2="658.49" y2="115.27" stroke-width="1.3" stroke="#000"/>
<line x1="655.99" y1="115.27" x2="660.99" y2="115.27" stroke-width="1.3" stroke="#000"/>
<line x1="675.56" y1="107.09" x2="675.56" y2="102.65" stroke-width="1.3" stroke="#000"/>
<line x1="673.06" y1="102.65" x2="678.06" y2="102.65" stroke-width="1.3" stroke="#000"/>
<line x1="675.56" y1="107.09" x2="675.56" y2="111.52" stroke-width="1.3" stroke="#000"/>
<line x1="673.06" y1="111.52" x2="678.06" y2="111.52" stroke-width="1.3" stroke="#000"/>
<line x1="539" y1="160.6" x2="539" y2="160.6" stroke-width="1.3" stroke="#000"/>
<line x1="536.5" y1="160.6" x2="541.5" y2="160.6" stroke-width="1.3" stroke="#000"/>
<line x1="539" y1="160.6" x2="539" y2="160.6" stroke-width="1.3" stroke="#000"/>
<line x1="536.5" y1="160.6" x2="541.5" y2="160.6" stroke-width="1.3" stroke="#000"/>
<line x1="556.07" y1="132.31" x2="556.07" y2="130.6" stroke-width="1.3" stroke="#000"/>
<line x1="553.57" y1="130.6" x2="558.57" y2="130.6" stroke-width="1.3" stroke="#000"/>
<line x1="556.07" y1="132.31" x2="556.07" y2="134.01" stroke-width="1.3" stroke="#000"/>
<line x1="553.57" y1="134.01" x2="558.57" y2="134.01" stroke-width="1.3" stroke="#000"/>
<line x1="573.14" y1="124.81" x2="573.14" y2="122.42" stroke-width="1.3" stroke="#000"/>
<line x1="570.64" y1="122.42" x2="575.64" y2="122.42" stroke-width="1.3" stroke="#000"/>
<line x1="573.14" y1="124.81" x2="573.14" y2="127.2" stroke-width="1.3" stroke="#000"/>
<line x1="570.64" y1="127.2" x2="575.64" y2="127.2" stroke-width="1.3" stroke="#000"/>
<line x1="590.21" y1="117.65" x2="590.21" y2="114.24" stroke-width="1.3" stroke="#000"/>
<line x1="587.71" y1="114.24" x2="592.71" y2="114.24" stroke-width="1.3" stroke="#000"/>
<line x1="590.21" y1="117.65" x2="590.21" y2="121.06" stroke-width="1.3" stroke="#000"/>
<line x1="587.71" y1="121.06" x2="592.71" y2="121.06" stroke-width="1.3" stroke="#000"/>
<line x1="607.28" y1="111.86" x2="607.28" y2="108.45" stroke-width="1.3" stroke="#000"/>
<line x1="604.78" y1="108.45" x2="609.78" y2="108.45" stroke-width="1.3" stroke="#000"/>
<line x1="607.28" y1="111.86" x2="607.28" y2="115.27" stroke-width="1.3" stroke="#000"/>
<line x1="604.78" y1="115.27" x2="609.78" y2="115.27" stroke-width="1.3" stroke="#000"/>
<line x1="624.35" y1="105.04" x2="624.35" y2="101.39" stroke-width="1.3" stroke="#000"/>
<line x1="621.85" y1="101.39" x2="626.85" y2="101.39" stroke-width="1.3" stroke="#000"/>
<line x1="624.35" y1="105.04" x2="624.35" y2="108.69" stroke-width="1.3" stroke="#000"/>
<line x1="621.85" y1="108.69" x2="626.85" y2="108.69" stroke-width="1.3" stroke="#000"/>
<line x1="641.42" y1="99.93" x2="641.42" y2="95.5" stroke-width="1.3" stroke="#000"/>
<line x1="638.92" y1="95.5" x2="643.92" y2="95.5" stroke-width="1.3" stroke="#000"/>
<line x1="641.42" y1="99.93" x2="641.42" y2="104.36" stroke-width="1.3" stroke="#000"/>
<line x1="638.92" y1="104.36" x2="643.92" y2="104.36" stroke-width="1.3" stroke="#000"/>
<line x1="658.49" y1="90.38" x2="658.49" y2="85.41" stroke-width="1.3" stroke="#000"/>
<line x1="655.99" y1="85.41" x2="660.99" y2="85.41" stroke-width="1.3" stroke="#000"/>
<line x1="658.49" y1="90.38" x2="658.49" y2="95.36" stroke-width="1.3" stroke="#000"/>
<line x1="655.99" y1="95.36" x2="660.99" y2="95.36" stroke-width="1.3" stroke="#000"/>
<line x1="675.56" y1="83.91" x2="675.56" y2="79.82" stroke-width="1.3" stroke="#000"/>
<line x1="673.06" y1="79.82" x2="678.06" y2="79.82" stroke-width="1.3" stroke="#000"/>
<line x1="675.56" y1="83.91" x2="675.56" y2="88" stroke-width="1.3" stroke="#000"/>
<line x1="673.06" y1="88" x2="678.06" y2="88" stroke-width="1.3" stroke="#000"/>
<line x1="539" y1="160.6" x2="539" y2="160.6" stroke-width="1.3" stroke="#000"/>
<line x1="536.5" y1="160.6" x2="541.5" y2="160.6" stroke-width="1.3" stroke="#000"/>
<line x1="539" y1="160.6" x2="539" y2="160.6" stroke-width="1.3" stroke="#000"/>
<line x1="536.5" y1="160.6" x2="541.5" y2="160.6" stroke-width="1.3" stroke="#000"/>
<line x1="556.07" y1="127.37" x2="556.07" y2="124.81" stroke-width="1.3" stroke="#000"/>
<line x1="553.57" y1="124.81" x2="558.57" y2="124.81" stroke-width="1.3" stroke="#000"/>
<line x1="556.07" y1="127.37" x2="556.07" y2="129.92" stroke-width="1.3" stroke="#000"/>
<line x1="553.57" y1="129.92" x2="558.57" y2="129.92" stroke-width="1.3" stroke="#000"/>
<line x1="573.14" y1="119.02" x2="573.14" y2="116.12" stroke-width="1.3" stroke="#000"/>
<line x1="570.64" y1="116.12" x2="575.64" y2="116.12" stroke-width="1.3" stroke="#000"/>
<line x1="573.14" y1="119.02" x2="573.14" y2="121.91" stroke-width="1.3" stroke="#000"/>
<line x1="570.64" y1="121.91" x2="575.64" y2="121.91" stroke-width="1.3" stroke="#000"/>
<line x1="590.21" y1="107.43" x2="590.21" y2="103.34" stroke-width="1.3" stroke="#000"/>
<line x1="587.71" y1="103.34" x2="592.71" y2="103.34" stroke-width="1.3" stroke="#000"/>
<line x1="590.21" y1="107.43" x2="590.21" y2="111.52" stroke-width="1.3" stroke="#000"/>
<line x1="587.71" y1="111.52" x2="592.71" y2="111.52" stroke-width="1.3" stroke="#000"/>
<line x1="607.28" y1="97.54" x2="607.28" y2="92.87" stroke-width="1.3" stroke="#000"/>
<line x1="604.78" y1="92.87" x2="609.78" y2="92.87" stroke-width="1.3" stroke="#000"/>
<line x1="607.28" y1="97.54" x2="607.28" y2="102.21" stroke-width="1.3" stroke="#000"/>
<line x1="604.78" y1="102.21" x2="609.78" y2="102.21" stroke-width="1.3" stroke="#000"/>
<line x1="624.35" y1="85.95" x2="624.35" y2="80.98" stroke-width="1.3" stroke="#000"/>
<line x1="621.85" y1="80.98" x2="626.85" y2="80.98" stroke-width="1.3" stroke="#000"/>
<line x1="624.35" y1="85.95" x2="624.35" y2="90.93" stroke-width="1.3" stroke="#000"/>
<line x1="621.85" y1="90.93" x2="626.85" y2="90.93" stroke-width="1.3" stroke="#000"/>
<line x1="641.42" y1="78.79" x2="641.42" y2="73.48" stroke-width="1.3" stroke="#000"/>
<line x1="638.92" y1="73.48" x2="643.92" y2="73.48" stroke-width="1.3" stroke="#000"/>
<line x1="641.42" y1="78.79" x2="641.42" y2="84.11" stroke-width="1.3" stroke="#000"/>
<line x1="638.92" y1="84.11" x2="643.92" y2="84.11" stroke-width="1.3" stroke="#000"/>
<line x1="658.49" y1="68.23" x2="658.49" y2="62.26" stroke-width="1.3" stroke="#000"/>
<line x1="655.99" y1="62.26" x2="660.99" y2="62.26" stroke-width="1.3" stroke="#000"/>
<line x1="658.49" y1="68.23" x2="658.49" y2="74.19" stroke-width="1.3" stroke="#000"/>
<line x1="655.99" y1="74.19" x2="660.99" y2="74.19" stroke-width="1.3" stroke="#000"/>
<line x1="675.56" y1="61.75" x2="675.56" y2="55.45" stroke-width="1.3" stroke="#000"/>
<line x1="673.06" y1="55.45" x2="678.06" y2="55.45" stroke-width="1.3" stroke="#000"/>
<line x1="675.56" y1="61.75" x2="675.56" y2="68.06" stroke-width="1.3" stroke="#000"/>
<line x1="673.06" y1="68.06" x2="678.06" y2="68.06" stroke-width="1.3" stroke="#000"/>
<circle cx="539" cy="160.6" r="2" fill="#ff6600" stroke="#000" stroke-width="0.6"/>
<circle cx="556.07" cy="132.31" r="2" fill="#ff6600" stroke="#000" stroke-width="0.6"/>
<circle cx="573.14" cy="129.58" r="2" fill="#ff6600" stroke="#000" stroke-width="0.6"/>
<circle cx="590.21" cy="126.17" r="2" fill="#ff6600" stroke="#000" stroke-width="0.6"/>
<circle cx="607.28" cy="120.72" r="2" fill="#ff6600" stroke="#000" stroke-width="0.6"/>
<circle cx="624.35" cy="118.67" r="2" fill="#ff6600" stroke="#000" stroke-width="0.6"/>
<circle cx="641.42" cy="119.36" r="2" fill="#ff6600" stroke="#000" stroke-width="0.6"/>
<circle cx="658.49" cy="114.58" r="2" fill="#ff6600" stroke="#000" stroke-width="0.6"/>
<circle cx="675.56" cy="111.86" r="2" fill="#ff6600" stroke="#000" stroke-width="0.6"/>
<rect x="537" y="158.6" width="4" height="4" fill="#fff" stroke="#000" stroke-width="0.95"/>
<rect x="554.07" y="143.26" width="4" height="4" fill="#fff" stroke="#000" stroke-width="0.95"/>
<rect x="571.14" y="127.24" width="4" height="4" fill="#fff" stroke="#000" stroke-width="0.95"/>
<rect x="588.21" y="124.17" width="4" height="4" fill="#fff" stroke="#000" stroke-width="0.95"/>
<rect x="605.28" y="116.33" width="4" height="4" fill="#fff" stroke="#000" stroke-width="0.95"/>
<rect x="622.35" y="114.63" width="4" height="4" fill="#fff" stroke="#000" stroke-width="0.95"/>
<rect x="639.42" y="114.63" width="4" height="4" fill="#fff" stroke="#000" stroke-width="0.95"/>
<rect x="656.49" y="108.15" width="4" height="4" fill="#fff" stroke="#000" stroke-width="0.95"/>
<rect x="673.56" y="105.09" width="4" height="4" fill="#fff" stroke="#000" stroke-width="0.95"/>
<circle cx="539" cy="160.6" r="2" fill="#ff6600" stroke="#000" stroke-width="0.6"/>
<circle cx="556.07" cy="132.31" r="2" fill="#ff6600" stroke="#000" stroke-width="0.6"/>
<circle cx="573.14" cy="124.81" r="2" fill="#ff6600" stroke="#000" stroke-width="0.6"/>
<circle cx="590.21" cy="117.65" r="2" fill="#ff6600" stroke="#000" stroke-width="0.6"/>
<circle cx="607.28" cy="111.86" r="2" fill="#ff6600" stroke="#000" stroke-width="0.6"/>
<circle cx="624.35" cy="105.04" r="2" fill="#ff6600" stroke="#000" stroke-width="0.6"/>
<circle cx="641.42" cy="99.93" r="2" fill="#ff6600" stroke="#000" stroke-width="0.6"/>
<circle cx="658.49" cy="90.38" r="2" fill="#ff6600" stroke="#000" stroke-width="0.6"/>
<circle cx="675.56" cy="83.91" r="2" fill="#ff6600" stroke="#000" stroke-width="0.6"/>
<rect x="537" y="158.6" width="4" height="4" fill="#fff" stroke="#000" stroke-width="0.95"/>
<rect x="554.07" y="125.37" width="4" height="4" fill="#fff" stroke="#000" stroke-width="0.95"/>
<rect x="571.14" y="117.02" width="4" height="4" fill="#fff" stroke="#000" stroke-width="0.95"/>
<rect x="588.21" y="105.43" width="4" height="4" fill="#fff" stroke="#000" stroke-width="0.95"/>
<rect x="605.28" y="95.54" width="4" height="4" fill="#fff" stroke="#000" stroke-width="0.95"/>
<rect x="622.35" y="83.95" width="4" height="4" fill="#fff" stroke="#000" stroke-width="0.95"/>
<rect x="639.42" y="76.79" width="4" height="4" fill="#fff" stroke="#000" stroke-width="0.95"/>
<rect x="656.49" y="66.23" width="4" height="4" fill="#fff" stroke="#000" stroke-width="0.95"/>
<rect x="673.56" y="59.75" width="4" height="4" fill="#fff" stroke="#000" stroke-width="0.95"/>
<path d="M607.28,84.35L607.28,88.85M605.33,85.47L609.23,87.72M605.33,87.72L609.23,85.47" stroke="#333" stroke-width="0.9" stroke-linecap="round" fill="none"/>
<path d="M620.90,71.95L620.90,76.45M618.95,73.08L622.85,75.33M618.95,75.33L622.85,73.08M627.80,71.95L627.80,76.45M625.85,73.08L629.75,75.33M625.85,75.33L629.75,73.08" stroke="#333" stroke-width="0.9" stroke-linecap="round" fill="none"/>
<path d="M637.97,64.35L637.97,68.85M636.02,65.47L639.92,67.72M636.02,67.72L639.92,65.47M644.87,64.35L644.87,68.85M642.92,65.47L646.82,67.72M642.92,67.72L646.82,65.47" stroke="#333" stroke-width="0.9" stroke-linecap="round" fill="none"/>
<path d="M651.59,53.35L651.59,57.85M649.64,54.48L653.54,56.73M649.64,56.73L653.54,54.48M658.49,53.35L658.49,57.85M656.54,54.48L660.44,56.73M656.54,56.73L660.44,54.48M665.39,53.35L665.39,57.85M663.44,54.48L667.34,56.73M663.44,56.73L667.34,54.48" stroke="#333" stroke-width="0.9" stroke-linecap="round" fill="none"/>
<path d="M668.66,45.75L668.66,50.25M666.71,46.88L670.61,49.12M666.71,49.12L670.61,46.88M675.56,45.75L675.56,50.25M673.61,46.88L677.51,49.12M673.61,49.12L677.51,46.88M682.46,45.75L682.46,50.25M680.51,46.88L684.41,49.12M680.51,49.12L684.41,46.88" stroke="#333" stroke-width="0.9" stroke-linecap="round" fill="none"/>
<line x1="535.1" y1="32.7" x2="554.1" y2="32.7" stroke-width="1.3" stroke="#000"/>
<text x="555.1" y="36.84">HFD-WT</text>
<line x1="535.1" y1="44.4" x2="554.1" y2="44.4" stroke-width="1.3" stroke="#ff6600"/>
<text x="555.1" y="48.54">HFD-MKO</text>
<line x1="535.1" y1="56.1" x2="554.1" y2="56.1" stroke-width="1.3" stroke="#000" stroke-dasharray="4.4,2.2"/>
<text x="555.1" y="60.24">CD-WT</text>
<line x1="535.1" y1="67.7" x2="554.1" y2="67.7" stroke-width="1.3" stroke="#ff6600" stroke-dasharray="4.4,2.2"/>
<text x="555.1" y="71.84">CD-MKO</text>
<text x="6.5" y="222.2" font-size="19" font-weight="bold">e</text>
<line x1="47.8" y1="233.5" x2="47.8" y2="349.2" stroke-width="1.1" stroke="#333"/>
<line x1="44.3" y1="348.6" x2="47.8" y2="348.6" stroke-width="1.1" stroke="#333"/>
<text x="37.5" y="352.56" font-size="11" text-anchor="end">0</text>
<line x1="44.3" y1="310.43" x2="47.8" y2="310.43" stroke-width="1.1" stroke="#333"/>
<text x="37.5" y="314.39" font-size="11" text-anchor="end">10</text>
<line x1="44.3" y1="272.27" x2="47.8" y2="272.27" stroke-width="1.1" stroke="#333"/>
<text x="37.5" y="276.23" font-size="11" text-anchor="end">20</text>
<line x1="44.3" y1="234.1" x2="47.8" y2="234.1" stroke-width="1.1" stroke="#333"/>
<text x="37.5" y="238.06" font-size="11" text-anchor="end">30</text>
<line x1="47.2" y1="348.6" x2="140.1" y2="348.6" stroke-width="1.1" stroke="#333"/>
<line x1="47.8" y1="348.6" x2="47.8" y2="352.1" stroke-width="1.1" stroke="#333"/>
<text x="47.8" y="366.16" font-size="11" text-anchor="middle">0</text>
<line x1="70.88" y1="348.6" x2="70.88" y2="352.1" stroke-width="1.1" stroke="#333"/>
<text x="70.88" y="366.16" font-size="11" text-anchor="middle">50</text>
<line x1="93.95" y1="348.6" x2="93.95" y2="352.1" stroke-width="1.1" stroke="#333"/>
<text x="93.95" y="366.16" font-size="11" text-anchor="middle">100</text>
<line x1="117.02" y1="348.6" x2="117.02" y2="352.1" stroke-width="1.1" stroke="#333"/>
<text x="117.02" y="366.16" font-size="11" text-anchor="middle">150</text>
<line x1="140.1" y1="348.6" x2="140.1" y2="352.1" stroke-width="1.1" stroke="#333"/>
<text x="140.1" y="366.16" font-size="11" text-anchor="middle">200</text>
<text x="98.5" y="380.04" text-anchor="middle">Time (min)</text>
<line x1="52.2" y1="272.27" x2="140.1" y2="272.27" stroke-width="1.1" stroke="#000"/>
<text x="97" y="229.74" text-anchor="middle">Endurance</text>
<text x="97" y="243.74" text-anchor="middle">exercise test</text>
<text x="0" y="0" font-size="11.5" text-anchor="middle" fill="#000" transform="translate(20.64 290.7) rotate(-90)">Speed (m/min)</text>
<text x="159.5" y="221" font-size="19" font-weight="bold">f</text>
<line x1="212.5" y1="222.1" x2="212.5" y2="356.4" stroke-width="1.4" stroke="#000"/>
<line x1="206.8" y1="355.8" x2="212.5" y2="355.8" stroke-width="1.4" stroke="#000"/>
<text x="203.5" y="359.76" font-size="11" text-anchor="end">0</text>
<line x1="206.8" y1="329.18" x2="212.5" y2="329.18" stroke-width="1.4" stroke="#000"/>
<text x="203.5" y="333.14" font-size="11" text-anchor="end">90</text>
<line x1="206.8" y1="302.56" x2="212.5" y2="302.56" stroke-width="1.4" stroke="#000"/>
<text x="203.5" y="306.52" font-size="11" text-anchor="end">180</text>
<line x1="206.8" y1="275.94" x2="212.5" y2="275.94" stroke-width="1.4" stroke="#000"/>
<text x="203.5" y="279.9" font-size="11" text-anchor="end">270</text>
<line x1="206.8" y1="249.32" x2="212.5" y2="249.32" stroke-width="1.4" stroke="#000"/>
<text x="203.5" y="253.28" font-size="11" text-anchor="end">360</text>
<line x1="206.8" y1="222.7" x2="212.5" y2="222.7" stroke-width="1.4" stroke="#000"/>
<text x="203.5" y="226.66" font-size="11" text-anchor="end">450</text>
<line x1="211.9" y1="355.8" x2="254.6" y2="355.8" stroke-width="1.4" stroke="#000"/>
<rect x="219.5" y="273.2" width="13" height="82.6" fill="#fff" stroke="#000" stroke-width="1.4"/>
<line x1="226" y1="273.2" x2="226" y2="265.7" stroke-width="1.3" stroke="#000"/>
<line x1="222.4" y1="265.7" x2="229.6" y2="265.7" stroke-width="1.3" stroke="#000"/>
<rect x="232.5" y="295.2" width="14" height="60.6" fill="#ff6600" stroke="#000" stroke-width="1.4"/>
<line x1="239.5" y1="295.2" x2="239.5" y2="288.2" stroke-width="1.3" stroke="#000"/>
<line x1="235.9" y1="288.2" x2="243.1" y2="288.2" stroke-width="1.3" stroke="#000"/>
<circle cx="225.9" cy="241.6" r="1.35" fill="#000"/>
<circle cx="229.4" cy="262.7" r="1.35" fill="#000"/>
<circle cx="222.2" cy="266" r="1.35" fill="#000"/>
<circle cx="222.2" cy="274.3" r="1.35" fill="#000"/>
<circle cx="229.4" cy="278.2" r="1.35" fill="#000"/>
<circle cx="225.9" cy="287.6" r="1.35" fill="#000"/>
<circle cx="225.9" cy="298.9" r="1.35" fill="#000"/>
<circle cx="240" cy="270.8" r="1.35" fill="#000"/>
<circle cx="240" cy="274.9" r="1.35" fill="#000"/>
<circle cx="240" cy="284.8" r="1.35" fill="#000"/>
<circle cx="240" cy="298.7" r="1.35" fill="#000"/>
<circle cx="240" cy="305.3" r="1.35" fill="#000"/>
<circle cx="240" cy="310.3" r="1.35" fill="#000"/>
<circle cx="240" cy="323.3" r="1.35" fill="#000"/>
<path d="M239.60,256.05L239.60,260.55M237.65,257.18L241.55,259.43M237.65,259.43L241.55,257.18" stroke="#333" stroke-width="0.9" stroke-linecap="round" fill="none"/>
<text x="231.1" y="366.94" text-anchor="middle">CD</text>
<line x1="295.7" y1="222.1" x2="295.7" y2="356.4" stroke-width="1.4" stroke="#000"/>
<line x1="290" y1="355.8" x2="295.7" y2="355.8" stroke-width="1.4" stroke="#000"/>
<text x="286.7" y="359.76" font-size="11" text-anchor="end">0</text>
<line x1="290" y1="311.43" x2="295.7" y2="311.43" stroke-width="1.4" stroke="#000"/>
<text x="286.7" y="315.39" font-size="11" text-anchor="end">40</text>
<line x1="290" y1="267.07" x2="295.7" y2="267.07" stroke-width="1.4" stroke="#000"/>
<text x="286.7" y="271.03" font-size="11" text-anchor="end">80</text>
<line x1="290" y1="222.7" x2="295.7" y2="222.7" stroke-width="1.4" stroke="#000"/>
<text x="286.7" y="226.66" font-size="11" text-anchor="end">120</text>
<line x1="295.1" y1="355.8" x2="338.4" y2="355.8" stroke-width="1.4" stroke="#000"/>
<rect x="302.7" y="267.5" width="13.2" height="88.3" fill="#fff" stroke="#000" stroke-width="1.4"/>
<line x1="309.3" y1="267.5" x2="309.3" y2="256.5" stroke-width="1.3" stroke="#000"/>
<line x1="305.7" y1="256.5" x2="312.9" y2="256.5" stroke-width="1.3" stroke="#000"/>
<rect x="315.9" y="310.4" width="13.6" height="45.4" fill="#ff6600" stroke="#000" stroke-width="1.4"/>
<line x1="322.7" y1="310.4" x2="322.7" y2="304.3" stroke-width="1.3" stroke="#000"/>
<line x1="319.1" y1="304.3" x2="326.3" y2="304.3" stroke-width="1.3" stroke="#000"/>
<circle cx="309.3" cy="223.2" r="1.35" fill="#000"/>
<circle cx="305.7" cy="249.8" r="1.35" fill="#000"/>
<circle cx="312.6" cy="247.6" r="1.35" fill="#000"/>
<circle cx="305.7" cy="273.1" r="1.35" fill="#000"/>
<circle cx="312.6" cy="273.1" r="1.35" fill="#000"/>
<circle cx="309.3" cy="295" r="1.35" fill="#000"/>
<circle cx="309.3" cy="318" r="1.35" fill="#000"/>
<circle cx="321.3" cy="289.4" r="1.35" fill="#000"/>
<circle cx="325.6" cy="291.7" r="1.35" fill="#000"/>
<circle cx="318.6" cy="306" r="1.35" fill="#000"/>
<circle cx="328.3" cy="306" r="1.35" fill="#000"/>
<circle cx="321.3" cy="321.3" r="1.35" fill="#000"/>
<circle cx="325.6" cy="323.7" r="1.35" fill="#000"/>
<circle cx="323.2" cy="330" r="1.35" fill="#000"/>
<path d="M319.75,274.55L319.75,279.05M317.80,275.68L321.70,277.93M317.80,277.93L321.70,275.68M326.65,274.55L326.65,279.05M324.70,275.68L328.60,277.93M324.70,277.93L328.60,275.68" stroke="#333" stroke-width="0.9" stroke-linecap="round" fill="none"/>
<text x="315" y="366.94" text-anchor="middle">HFD</text>
<text x="0" y="0" font-size="11.5" text-anchor="middle" fill="#000" transform="translate(179.64 289.2) rotate(-90)">Running time (min)</text>
<rect x="295.2" y="192.8" width="9.6" height="7.7" fill="#fff" stroke="#000" stroke-width="1.2"/>
<rect x="295.2" y="202.8" width="9.6" height="8" fill="#ff6600" stroke="#000" stroke-width="1.2"/>
<text x="306.2" y="200.74">WT</text>
<text x="306.2" y="210.94">MKO</text>
<text x="350.5" y="222.2" font-size="19" font-weight="bold">g</text>
<line x1="415.1" y1="223" x2="415.1" y2="356.4" stroke-width="1.4" stroke="#000"/>
<line x1="409.6" y1="355.8" x2="415.1" y2="355.8" stroke-width="1.4" stroke="#000"/>
<text x="407.2" y="359.76" font-size="11" text-anchor="end">0</text>
<line x1="409.6" y1="322.75" x2="415.1" y2="322.75" stroke-width="1.4" stroke="#000"/>
<text x="407.2" y="326.71" font-size="11" text-anchor="end">2000</text>
<line x1="409.6" y1="289.7" x2="415.1" y2="289.7" stroke-width="1.4" stroke="#000"/>
<text x="407.2" y="293.66" font-size="11" text-anchor="end">4000</text>
<line x1="409.6" y1="256.65" x2="415.1" y2="256.65" stroke-width="1.4" stroke="#000"/>
<text x="407.2" y="260.61" font-size="11" text-anchor="end">6000</text>
<line x1="409.6" y1="223.6" x2="415.1" y2="223.6" stroke-width="1.4" stroke="#000"/>
<text x="407.2" y="227.56" font-size="11" text-anchor="end">8000</text>
<line x1="414.5" y1="355.8" x2="457.4" y2="355.8" stroke-width="1.4" stroke="#000"/>
<rect x="421.9" y="267.5" width="13" height="88.3" fill="#fff" stroke="#000" stroke-width="1.4"/>
<line x1="428.4" y1="267.5" x2="428.4" y2="258.9" stroke-width="1.3" stroke="#000"/>
<line x1="424.8" y1="258.9" x2="432" y2="258.9" stroke-width="1.3" stroke="#000"/>
<rect x="434.9" y="292.3" width="14.4" height="63.5" fill="#ff6600" stroke="#000" stroke-width="1.4"/>
<line x1="442.1" y1="292.3" x2="442.1" y2="284.1" stroke-width="1.3" stroke="#000"/>
<line x1="438.5" y1="284.1" x2="445.7" y2="284.1" stroke-width="1.3" stroke="#000"/>
<circle cx="428.3" cy="232" r="1.35" fill="#000"/>
<circle cx="432" cy="255.1" r="1.35" fill="#000"/>
<circle cx="425" cy="258.9" r="1.35" fill="#000"/>
<circle cx="428.3" cy="268.2" r="1.35" fill="#000"/>
<circle cx="428.3" cy="273.1" r="1.35" fill="#000"/>
<circle cx="428.3" cy="283.8" r="1.35" fill="#000"/>
<circle cx="428.3" cy="296.3" r="1.35" fill="#000"/>
<circle cx="442.5" cy="264.6" r="1.35" fill="#000"/>
<circle cx="442.5" cy="269.2" r="1.35" fill="#000"/>
<circle cx="442.5" cy="280.4" r="1.35" fill="#000"/>
<circle cx="442.5" cy="296.1" r="1.35" fill="#000"/>
<circle cx="442.5" cy="303.4" r="1.35" fill="#000"/>
<circle cx="442.5" cy="309.4" r="1.35" fill="#000"/>
<circle cx="442.5" cy="323.7" r="1.35" fill="#000"/>
<path d="M442.50,250.25L442.50,254.75M440.55,251.38L444.45,253.62M440.55,253.62L444.45,251.38" stroke="#333" stroke-width="0.9" stroke-linecap="round" fill="none"/>
<text x="434" y="366.94" text-anchor="middle">CD</text>
<line x1="493.1" y1="223" x2="493.1" y2="356.4" stroke-width="1.4" stroke="#000"/>
<line x1="487.6" y1="355.8" x2="493.1" y2="355.8" stroke-width="1.4" stroke="#000"/>
<text x="485.2" y="359.76" font-size="11" text-anchor="end">0</text>
<line x1="487.6" y1="329.36" x2="493.1" y2="329.36" stroke-width="1.4" stroke="#000"/>
<text x="485.2" y="333.32" font-size="11" text-anchor="end">500</text>
<line x1="487.6" y1="302.92" x2="493.1" y2="302.92" stroke-width="1.4" stroke="#000"/>
<text x="485.2" y="306.88" font-size="11" text-anchor="end">1000</text>
<line x1="487.6" y1="276.48" x2="493.1" y2="276.48" stroke-width="1.4" stroke="#000"/>
<text x="485.2" y="280.44" font-size="11" text-anchor="end">1500</text>
<line x1="487.6" y1="250.04" x2="493.1" y2="250.04" stroke-width="1.4" stroke="#000"/>
<text x="485.2" y="254" font-size="11" text-anchor="end">2000</text>
<line x1="487.6" y1="223.6" x2="493.1" y2="223.6" stroke-width="1.4" stroke="#000"/>
<text x="485.2" y="227.56" font-size="11" text-anchor="end">2500</text>
<line x1="492.5" y1="355.8" x2="535.1" y2="355.8" stroke-width="1.4" stroke="#000"/>
<rect x="500.3" y="276.4" width="13.3" height="79.4" fill="#fff" stroke="#000" stroke-width="1.4"/>
<line x1="506.95" y1="276.4" x2="506.95" y2="265.9" stroke-width="1.3" stroke="#000"/>
<line x1="503.35" y1="265.9" x2="510.55" y2="265.9" stroke-width="1.3" stroke="#000"/>
<rect x="513.6" y="317.3" width="13.7" height="38.5" fill="#ff6600" stroke="#000" stroke-width="1.4"/>
<line x1="520.45" y1="317.3" x2="520.45" y2="312" stroke-width="1.3" stroke="#000"/>
<line x1="516.85" y1="312" x2="524.05" y2="312" stroke-width="1.3" stroke="#000"/>
<circle cx="507" cy="234.3" r="1.35" fill="#000"/>
<circle cx="503.6" cy="259.5" r="1.35" fill="#000"/>
<circle cx="510.7" cy="257.3" r="1.35" fill="#000"/>
<circle cx="503.6" cy="281.7" r="1.35" fill="#000"/>
<circle cx="510.7" cy="281.7" r="1.35" fill="#000"/>
<circle cx="507" cy="303" r="1.35" fill="#000"/>
<circle cx="507" cy="325" r="1.35" fill="#000"/>
<circle cx="518.9" cy="297.7" r="1.35" fill="#000"/>
<circle cx="523.3" cy="299.7" r="1.35" fill="#000"/>
<circle cx="516.3" cy="313.6" r="1.35" fill="#000"/>
<circle cx="526" cy="313.6" r="1.35" fill="#000"/>
<circle cx="518.9" cy="328.2" r="1.35" fill="#000"/>
<circle cx="523.3" cy="330.3" r="1.35" fill="#000"/>
<circle cx="521" cy="336.9" r="1.35" fill="#000"/>
<path d="M517.45,280.15L517.45,284.65M515.50,281.27L519.40,283.52M515.50,283.52L519.40,281.27M524.35,280.15L524.35,284.65M522.40,281.27L526.30,283.52M522.40,283.52L526.30,281.27" stroke="#333" stroke-width="0.9" stroke-linecap="round" fill="none"/>
<text x="513.2" y="366.94" text-anchor="middle">HFD</text>
<text x="0" y="0" font-size="11.5" text-anchor="middle" fill="#000" transform="translate(374.64 286.4) rotate(-90)">Running distance (m)</text>
<text x="534" y="222.2" font-size="19" font-weight="bold">h</text>
<text x="591.9" y="224.44" text-anchor="middle">WT</text>
<text x="633.1" y="224.44" text-anchor="middle">MKO</text>
<rect x="565" y="229.2" width="91.8" height="116.4" fill="url(#hbg)"/>
<g clip-path="url(#hclip)">
<g filter="url(#blm)">
<line x1="576.7" y1="327.6" x2="572.5" y2="340.5" stroke="#8e7470" stroke-width="3.8000000000000003" stroke-linecap="round"/>
<line x1="607.9" y1="326.3" x2="610.8" y2="333.5" stroke="#8e7470" stroke-width="3.8000000000000003" stroke-linecap="round"/>
<line x1="594.9" y1="331.5" x2="596.8" y2="347" stroke="#8e7470" stroke-width="2.8000000000000003" stroke-linecap="round"/>
<line x1="619.1" y1="319.8" x2="613.6" y2="333" stroke="#8e7470" stroke-width="3.8000000000000003" stroke-linecap="round"/>
<line x1="645.1" y1="319.8" x2="653" y2="333" stroke="#8e7470" stroke-width="3.8000000000000003" stroke-linecap="round"/>
<line x1="630.1" y1="327.6" x2="630.1" y2="347" stroke="#8e7470" stroke-width="2.8000000000000003" stroke-linecap="round"/>
<path d="M593.1,232.3 C594.4,232.3 596.1,235.0 597.1,236.3 C598.1,237.6 598.6,238.8 599.3,240.0 C600.0,241.2 600.6,242.4 601.5,243.6 C602.4,244.8 603.4,246.0 604.4,247.2 C605.4,248.4 606.6,249.7 607.3,250.9 C608.0,252.1 608.4,253.3 608.8,254.5 C609.2,255.7 609.2,257.0 609.5,258.2 C609.8,259.4 610.1,260.6 610.3,261.8 C610.5,263.0 610.5,264.3 610.6,265.5 C610.7,266.7 610.8,267.3 611.0,269.1 C611.2,270.9 611.6,273.6 611.7,276.4 C611.8,279.2 611.7,282.7 611.7,286.0 C611.7,289.3 611.9,292.5 611.8,296.4 C611.7,300.3 611.5,305.5 611.0,309.4 C610.5,313.3 609.7,317.0 608.5,319.8 C607.3,322.6 606.3,324.4 604.0,326.3 C601.7,328.2 598.1,331.0 594.9,331.5 C591.6,332.0 587.8,330.9 584.5,329.5 C581.2,328.1 577.7,325.9 575.4,323.0 C573.1,320.1 571.7,316.0 570.5,312.0 C569.3,308.0 568.5,303.3 568.2,299.0 C568.0,294.7 568.4,289.9 569.0,286.1 C569.6,282.3 571.4,279.2 571.9,276.4 C572.4,273.6 572.1,270.9 572.3,269.1 C572.5,267.3 572.8,266.7 573.0,265.5 C573.2,264.3 573.5,263.0 573.8,261.8 C574.1,260.6 574.5,259.4 574.9,258.2 C575.3,257.0 575.6,255.7 576.0,254.5 C576.4,253.3 576.8,252.1 577.4,250.9 C578.0,249.7 578.6,248.4 579.6,247.2 C580.6,246.0 582.1,244.8 583.2,243.6 C584.3,242.4 585.2,241.2 586.2,240.0 C587.2,238.8 588.0,237.6 589.1,236.3 C590.2,235.0 591.8,232.3 593.1,232.3 Z" fill="#3e3e40"/>
<path d="M630.7,237.8 C631.9,237.8 633.4,239.0 634.4,240.0 C635.4,241.0 636.0,242.4 636.9,243.6 C637.8,244.8 638.9,246.0 639.8,247.2 C640.6,248.4 641.3,249.7 642.0,250.9 C642.7,252.1 643.6,253.3 644.2,254.5 C644.8,255.7 645.3,257.0 645.7,258.2 C646.1,259.4 646.5,260.6 646.8,261.8 C647.1,263.0 647.3,264.3 647.5,265.5 C647.7,266.7 648.0,267.3 648.2,269.1 C648.5,270.9 648.6,273.8 649.0,276.4 C649.4,279.0 650.0,282.1 650.5,285.0 C651.0,287.9 651.8,290.7 652.2,293.9 C652.6,297.1 653.1,301.0 652.9,304.2 C652.7,307.4 652.0,310.3 650.9,313.3 C649.8,316.3 648.9,320.0 646.4,322.4 C643.9,324.8 639.2,327.0 636.0,327.6 C632.8,328.2 629.7,327.4 626.9,326.3 C624.1,325.2 621.0,323.5 619.1,321.1 C617.2,318.7 616.6,315.7 615.8,312.0 C615.0,308.3 614.7,303.3 614.5,299.0 C614.3,294.7 614.7,289.9 614.8,286.1 C614.9,282.3 614.8,279.2 615.0,276.4 C615.2,273.6 615.5,270.9 615.8,269.1 C616.0,267.3 616.3,266.7 616.5,265.5 C616.7,264.3 617.1,263.0 617.2,261.8 C617.3,260.6 617.0,259.4 617.2,258.2 C617.4,257.0 617.8,255.7 618.5,254.5 C619.2,253.3 620.4,252.1 621.2,250.9 C622.0,249.7 622.7,248.4 623.4,247.2 C624.1,246.0 624.5,244.8 625.2,243.6 C625.9,242.4 626.5,241.0 627.4,240.0 C628.3,239.0 629.5,237.8 630.7,237.8 Z" fill="#3c3c3e"/>
<ellipse cx="591" cy="252" rx="12" ry="13" fill="#4a4a4c" opacity="0.7"/>
<ellipse cx="634" cy="256" rx="11" ry="12" fill="#4a4a4c" opacity="0.7"/>
<path d="M581.0,268.5 C583.7,266.7 587.2,266.8 590.0,267.0 C592.8,267.2 595.3,268.5 598.0,270.0 C600.7,271.5 604.2,273.3 606.0,276.0 C607.8,278.7 608.5,282.3 609.0,286.0 C609.5,289.7 609.3,294.0 609.0,298.0 C608.7,302.0 608.3,306.7 607.0,310.0 C605.7,313.3 603.8,316.2 601.0,318.0 C598.2,319.8 593.7,320.8 590.0,321.0 C586.3,321.2 582.0,320.5 579.0,319.0 C576.0,317.5 573.5,315.2 572.0,312.0 C570.5,308.8 570.2,304.0 570.0,300.0 C569.8,296.0 570.3,291.7 571.0,288.0 C571.7,284.3 572.3,281.2 574.0,278.0 C575.7,274.8 578.3,270.3 581.0,268.5 Z" fill="#dcc2b8"/>
<ellipse cx="592" cy="284" rx="16" ry="8" fill="#d29c8c" opacity="0.85"/>
<ellipse cx="589" cy="303" rx="9" ry="11" fill="#ecdcd2"/>
<ellipse cx="574" cy="300" rx="3" ry="9" fill="#5a5050" opacity="0.5"/>
<ellipse cx="606" cy="300" rx="3" ry="9" fill="#6a5c5a" opacity="0.4"/>
<ellipse cx="587" cy="270.5" rx="7" ry="3" fill="#eee8e6"/>
<ellipse cx="592" cy="274.5" rx="6" ry="1.6" fill="#4a3030" opacity="0.7"/>
<path d="M628.0,269.0 C630.0,268.3 633.5,267.5 636.0,268.0 C638.5,268.5 641.0,270.0 643.0,272.0 C645.0,274.0 646.8,276.7 648.0,280.0 C649.2,283.3 649.8,288.0 650.0,292.0 C650.2,296.0 649.8,300.5 649.0,304.0 C648.2,307.5 647.2,310.8 645.0,313.0 C642.8,315.2 639.2,316.3 636.0,317.0 C632.8,317.7 628.8,317.8 626.0,317.0 C623.2,316.2 620.5,314.8 619.0,312.0 C617.5,309.2 617.2,304.0 617.0,300.0 C616.8,296.0 617.3,291.7 618.0,288.0 C618.7,284.3 620.0,280.7 621.0,278.0 C622.0,275.3 622.8,273.5 624.0,272.0 C625.2,270.5 626.0,269.7 628.0,269.0 Z" fill="#dec2ba"/>
<ellipse cx="633" cy="280" rx="8" ry="7" fill="#bc7e72" opacity="0.9"/>
<ellipse cx="633" cy="302" rx="11" ry="10" fill="#ecd6ce"/>
<ellipse cx="636" cy="299" rx="3" ry="2.5" fill="#d09088" opacity="0.7"/>
<ellipse cx="579.6" cy="253.1" rx="2.1" ry="2.7" fill="#d6b4aa"/>
<ellipse cx="600.8" cy="254.5" rx="2.1" ry="2.7" fill="#d6b4aa"/>
<ellipse cx="626.7" cy="256.7" rx="2.1" ry="2.7" fill="#d6b4aa"/>
<ellipse cx="645" cy="261.1" rx="2.1" ry="2.7" fill="#d6b4aa"/>
<ellipse cx="592.9" cy="234" rx="2.6" ry="1.8" fill="#a08484"/>
<ellipse cx="630.8" cy="239.6" rx="2.4" ry="1.6" fill="#9c8080"/>
</g>
<rect x="565" y="229.2" width="91.8" height="116.4" filter="url(#txm)" opacity="0.18"/>
</g>
<text x="2.5" y="388.6" font-size="19" font-weight="bold">i</text>
<line x1="42.2" y1="400.4" x2="42.2" y2="533.6" stroke-width="1.4" stroke="#000"/>
<line x1="36.7" y1="533" x2="42.2" y2="533" stroke-width="1.4" stroke="#000"/>
<text x="34.3" y="536.96" font-size="11" text-anchor="end">80</text>
<line x1="36.7" y1="506.6" x2="42.2" y2="506.6" stroke-width="1.4" stroke="#000"/>
<text x="34.3" y="510.56" font-size="11" text-anchor="end">100</text>
<line x1="36.7" y1="480.2" x2="42.2" y2="480.2" stroke-width="1.4" stroke="#000"/>
<text x="34.3" y="484.16" font-size="11" text-anchor="end">120</text>
<line x1="36.7" y1="453.8" x2="42.2" y2="453.8" stroke-width="1.4" stroke="#000"/>
<text x="34.3" y="457.76" font-size="11" text-anchor="end">140</text>
<line x1="36.7" y1="427.4" x2="42.2" y2="427.4" stroke-width="1.4" stroke="#000"/>
<text x="34.3" y="431.36" font-size="11" text-anchor="end">160</text>
<line x1="36.7" y1="401" x2="42.2" y2="401" stroke-width="1.4" stroke="#000"/>
<text x="34.3" y="404.96" font-size="11" text-anchor="end">180</text>
<line x1="41.6" y1="533" x2="152.4" y2="533" stroke-width="1.4" stroke="#000"/>
<line x1="42.2" y1="533" x2="42.2" y2="538" stroke-width="1.4" stroke="#000"/>
<text x="42.2" y="549.56" font-size="11" text-anchor="middle">25</text>
<line x1="78.93" y1="533" x2="78.93" y2="538" stroke-width="1.4" stroke="#000"/>
<text x="78.93" y="549.56" font-size="11" text-anchor="middle">35</text>
<line x1="115.67" y1="533" x2="115.67" y2="538" stroke-width="1.4" stroke="#000"/>
<text x="115.67" y="549.56" font-size="11" text-anchor="middle">45</text>
<line x1="152.4" y1="533" x2="152.4" y2="538" stroke-width="1.4" stroke="#000"/>
<text x="152.4" y="549.56" font-size="11" text-anchor="middle">55</text>
<text x="99.3" y="563.34" text-anchor="middle">Body weight (g)</text>
<text x="0" y="0" font-size="11.5" text-anchor="middle" fill="#000" transform="translate(12.64 465.6) rotate(-90)">mL/h</text>
<text x="103.2" y="410.9" text-anchor="middle">VO<tspan font-size="8.5" dy="1.8">2</tspan></text>
<text x="120.4" y="509.44" text-anchor="middle">ANCOVA</text>
<text x="121.6" y="523.8" text-anchor="middle"><tspan font-style="italic">P</tspan> = 0.008</text>
<line x1="64.9" y1="469" x2="110.2" y2="454.2" stroke-width="1.3" stroke="#ff6600"/>
<line x1="107.1" y1="467" x2="124.5" y2="452" stroke-width="1.3" stroke="#000"/>
<circle cx="64.3" cy="468.1" r="2.1" fill="#ff6600"/>
<circle cx="72.1" cy="473.6" r="2.1" fill="#ff6600"/>
<circle cx="77.3" cy="468.7" r="2.1" fill="#ff6600"/>
<circle cx="82.3" cy="457.9" r="2.1" fill="#ff6600"/>
<circle cx="87.9" cy="453.5" r="2.1" fill="#ff6600"/>
<circle cx="87.3" cy="459.5" r="2.1" fill="#ff6600"/>
<circle cx="93.7" cy="467.2" r="2.1" fill="#ff6600"/>
<circle cx="100.3" cy="457.9" r="2.1" fill="#ff6600"/>
<circle cx="101.9" cy="452.5" r="2.1" fill="#ff6600"/>
<circle cx="105.9" cy="468.7" r="2.1" fill="#ff6600"/>
<circle cx="110.5" cy="447" r="2.1" fill="#ff6600"/>
<circle cx="113.6" cy="452.5" r="1.85" fill="none" stroke="#000" stroke-width="1.3"/>
<circle cx="112.3" cy="465.1" r="1.85" fill="none" stroke="#000" stroke-width="1.3"/>
<circle cx="122.6" cy="473.4" r="1.85" fill="none" stroke="#000" stroke-width="1.3"/>
<circle cx="124.7" cy="434.9" r="1.85" fill="none" stroke="#000" stroke-width="1.3"/>
<circle cx="122.3" cy="445.5" r="1.85" fill="none" stroke="#000" stroke-width="1.3"/>
<circle cx="126" cy="445.5" r="1.85" fill="none" stroke="#000" stroke-width="1.3"/>
<circle cx="123.2" cy="450.8" r="1.85" fill="none" stroke="#000" stroke-width="1.3"/>
<circle cx="128.2" cy="450.8" r="1.85" fill="none" stroke="#000" stroke-width="1.3"/>
<circle cx="130.1" cy="454.2" r="1.85" fill="none" stroke="#000" stroke-width="1.3"/>
<circle cx="126.5" cy="448" r="1.85" fill="none" stroke="#000" stroke-width="1.3"/>
<circle cx="99.1" cy="467.2" r="1.85" fill="none" stroke="#000" stroke-width="1.3"/>
<circle cx="100.3" cy="470.3" r="1.85" fill="none" stroke="#000" stroke-width="1.3"/>
<circle cx="101.5" cy="473.4" r="1.85" fill="none" stroke="#000" stroke-width="1.3"/>
<circle cx="97.2" cy="475.9" r="1.85" fill="none" stroke="#000" stroke-width="1.3"/>
<circle cx="104.6" cy="475.3" r="1.85" fill="none" stroke="#000" stroke-width="1.3"/>
<circle cx="104.9" cy="479" r="1.85" fill="none" stroke="#000" stroke-width="1.3"/>
<circle cx="102.5" cy="471" r="1.85" fill="none" stroke="#000" stroke-width="1.3"/>
<text x="158.5" y="390" font-size="19" font-weight="bold">j</text>
<line x1="199.9" y1="399.2" x2="199.9" y2="532.7" stroke-width="1.4" stroke="#000"/>
<line x1="194.4" y1="532.1" x2="199.9" y2="532.1" stroke-width="1.4" stroke="#000"/>
<text x="192" y="536.06" font-size="11" text-anchor="end">0.4</text>
<line x1="194.4" y1="505.64" x2="199.9" y2="505.64" stroke-width="1.4" stroke="#000"/>
<text x="192" y="509.6" font-size="11" text-anchor="end">0.5</text>
<line x1="194.4" y1="479.18" x2="199.9" y2="479.18" stroke-width="1.4" stroke="#000"/>
<text x="192" y="483.14" font-size="11" text-anchor="end">0.6</text>
<line x1="194.4" y1="452.72" x2="199.9" y2="452.72" stroke-width="1.4" stroke="#000"/>
<text x="192" y="456.68" font-size="11" text-anchor="end">0.7</text>
<line x1="194.4" y1="426.26" x2="199.9" y2="426.26" stroke-width="1.4" stroke="#000"/>
<text x="192" y="430.22" font-size="11" text-anchor="end">0.8</text>
<line x1="194.4" y1="399.8" x2="199.9" y2="399.8" stroke-width="1.4" stroke="#000"/>
<text x="192" y="403.76" font-size="11" text-anchor="end">0.9</text>
<line x1="199.3" y1="532.1" x2="309.5" y2="532.1" stroke-width="1.4" stroke="#000"/>
<line x1="199.9" y1="532.1" x2="199.9" y2="537.1" stroke-width="1.4" stroke="#000"/>
<text x="199.9" y="549.96" font-size="11" text-anchor="middle">25</text>
<line x1="236.43" y1="532.1" x2="236.43" y2="537.1" stroke-width="1.4" stroke="#000"/>
<text x="236.43" y="549.96" font-size="11" text-anchor="middle">35</text>
<line x1="272.97" y1="532.1" x2="272.97" y2="537.1" stroke-width="1.4" stroke="#000"/>
<text x="272.97" y="549.96" font-size="11" text-anchor="middle">45</text>
<line x1="309.5" y1="532.1" x2="309.5" y2="537.1" stroke-width="1.4" stroke="#000"/>
<text x="309.5" y="549.96" font-size="11" text-anchor="middle">55</text>
<text x="256.4" y="564.04" text-anchor="middle">Body weight (g)</text>
<text x="0" y="0" font-size="11.5" text-anchor="middle" fill="#000" transform="translate(170.54 464.3) rotate(-90)">kcal/h</text>
<text x="256.2" y="411.34" text-anchor="middle">EE</text>
<text x="279.6" y="509.44" text-anchor="middle">ANCOVA</text>
<text x="280.3" y="523.8" text-anchor="middle"><tspan font-style="italic">P</tspan> = 0.045</text>
<line x1="221.4" y1="475.3" x2="266.6" y2="461.9" stroke-width="1.3" stroke="#ff6600"/>
<line x1="258.2" y1="475.3" x2="286.2" y2="450.8" stroke-width="1.3" stroke="#000"/>
<circle cx="221.4" cy="470.9" r="2.1" fill="#ff6600"/>
<circle cx="229" cy="476.5" r="2.1" fill="#ff6600"/>
<circle cx="234.3" cy="481.5" r="2.1" fill="#ff6600"/>
<circle cx="239.3" cy="463" r="2.1" fill="#ff6600"/>
<circle cx="244.4" cy="463" r="2.1" fill="#ff6600"/>
<circle cx="250.6" cy="476.2" r="2.1" fill="#ff6600"/>
<circle cx="257.3" cy="463" r="2.1" fill="#ff6600"/>
<circle cx="259.1" cy="463" r="2.1" fill="#ff6600"/>
<circle cx="262.9" cy="470.9" r="2.1" fill="#ff6600"/>
<circle cx="267.2" cy="454.9" r="2.1" fill="#ff6600"/>
<circle cx="281.8" cy="441.7" r="1.85" fill="none" stroke="#000" stroke-width="1.3"/>
<circle cx="279.2" cy="447" r="1.85" fill="none" stroke="#000" stroke-width="1.3"/>
<circle cx="283.3" cy="449.6" r="1.85" fill="none" stroke="#000" stroke-width="1.3"/>
<circle cx="285" cy="449.6" r="1.85" fill="none" stroke="#000" stroke-width="1.3"/>
<circle cx="270.5" cy="457.8" r="1.85" fill="none" stroke="#000" stroke-width="1.3"/>
<circle cx="280.4" cy="457.8" r="1.85" fill="none" stroke="#000" stroke-width="1.3"/>
<circle cx="286.8" cy="463" r="1.85" fill="none" stroke="#000" stroke-width="1.3"/>
<circle cx="258.4" cy="465.6" r="1.85" fill="none" stroke="#000" stroke-width="1.3"/>
<circle cx="255.9" cy="470.9" r="1.85" fill="none" stroke="#000" stroke-width="1.3"/>
<circle cx="269.3" cy="470.9" r="1.85" fill="none" stroke="#000" stroke-width="1.3"/>
<circle cx="257" cy="476.1" r="1.85" fill="none" stroke="#000" stroke-width="1.3"/>
<circle cx="261.1" cy="478.8" r="1.85" fill="none" stroke="#000" stroke-width="1.3"/>
<circle cx="254.1" cy="481.5" r="1.85" fill="none" stroke="#000" stroke-width="1.3"/>
<circle cx="261.7" cy="484.3" r="1.85" fill="none" stroke="#000" stroke-width="1.3"/>
<circle cx="279.2" cy="478.8" r="1.85" fill="none" stroke="#000" stroke-width="1.3"/>
<line x1="210.8" y1="375.8" x2="224.5" y2="375.8" stroke="#000"/>
<circle cx="217.6" cy="375.8" r="2.3" fill="none" stroke="#000" stroke-width="1.2"/>
<text x="228.9" y="380.64">WT</text>
<line x1="210.8" y1="387.3" x2="224.5" y2="387.3" stroke-width="1.3" stroke="#ff6600"/>
<circle cx="217.6" cy="387.3" r="3.3" fill="#ff6600"/>
<text x="228.9" y="391.44">MKO</text>
<line x1="379.9" y1="399.8" x2="379.9" y2="534.1" stroke-width="1.4" stroke="#000"/>
<line x1="374.4" y1="533.5" x2="379.9" y2="533.5" stroke-width="1.4" stroke="#000"/>
<text x="372" y="537.46" font-size="11" text-anchor="end">0.35</text>
<line x1="374.4" y1="500.22" x2="379.9" y2="500.22" stroke-width="1.4" stroke="#000"/>
<text x="372" y="504.18" font-size="11" text-anchor="end">0.45</text>
<line x1="374.4" y1="466.95" x2="379.9" y2="466.95" stroke-width="1.4" stroke="#000"/>
<text x="372" y="470.91" font-size="11" text-anchor="end">0.55</text>
<line x1="374.4" y1="433.67" x2="379.9" y2="433.67" stroke-width="1.4" stroke="#000"/>
<text x="372" y="437.63" font-size="11" text-anchor="end">0.65</text>
<line x1="374.4" y1="400.4" x2="379.9" y2="400.4" stroke-width="1.4" stroke="#000"/>
<text x="372" y="404.36" font-size="11" text-anchor="end">0.75</text>
<line x1="379.3" y1="533.5" x2="421.9" y2="533.5" stroke-width="1.4" stroke="#000"/>
<rect x="386.5" y="471.4" width="14" height="62.1" fill="#fff" stroke="#000" stroke-width="1.4"/>
<line x1="393.2" y1="471.4" x2="393.2" y2="467.6" stroke-width="1.3" stroke="#000"/>
<line x1="389.6" y1="467.6" x2="396.8" y2="467.6" stroke-width="1.3" stroke="#000"/>
<rect x="400.5" y="436.3" width="13" height="97.2" fill="#ff6600" stroke="#000" stroke-width="1.4"/>
<line x1="407" y1="436.3" x2="407" y2="432.1" stroke-width="1.3" stroke="#000"/>
<line x1="403.4" y1="432.1" x2="410.6" y2="432.1" stroke-width="1.3" stroke="#000"/>
<circle cx="393.2" cy="453.2" r="1.35" fill="#000"/>
<circle cx="393.2" cy="457.6" r="1.35" fill="#000"/>
<circle cx="395.4" cy="459.3" r="1.35" fill="#000"/>
<circle cx="390.8" cy="461.5" r="1.35" fill="#000"/>
<circle cx="388.3" cy="464.6" r="1.35" fill="#000"/>
<circle cx="397.4" cy="463.1" r="1.35" fill="#000"/>
<circle cx="393.2" cy="467" r="1.35" fill="#000"/>
<circle cx="393.2" cy="470.3" r="1.35" fill="#000"/>
<circle cx="397.6" cy="471.7" r="1.35" fill="#000"/>
<circle cx="388.3" cy="474.5" r="1.35" fill="#000"/>
<circle cx="390.8" cy="477" r="1.35" fill="#000"/>
<circle cx="395.4" cy="478.3" r="1.35" fill="#000"/>
<circle cx="390.8" cy="485" r="1.35" fill="#000"/>
<circle cx="395.4" cy="485.8" r="1.35" fill="#000"/>
<circle cx="393.2" cy="497.1" r="1.35" fill="#000"/>
<circle cx="401.8" cy="425.5" r="1.35" fill="#000"/>
<circle cx="404" cy="427.7" r="1.35" fill="#000"/>
<circle cx="406.8" cy="424.9" r="1.35" fill="#000"/>
<circle cx="409.6" cy="427.7" r="1.35" fill="#000"/>
<circle cx="412.3" cy="428.8" r="1.35" fill="#000"/>
<circle cx="406.8" cy="431.6" r="1.35" fill="#000"/>
<circle cx="406.8" cy="438.2" r="1.35" fill="#000"/>
<circle cx="405.7" cy="444" r="1.35" fill="#000"/>
<circle cx="408.5" cy="446.9" r="1.35" fill="#000"/>
<circle cx="406.8" cy="460" r="1.35" fill="#000"/>
<path d="M403.35,411.35L403.35,415.85M401.40,412.48L405.30,414.73M401.40,414.73L405.30,412.48M410.25,411.35L410.25,415.85M408.30,412.48L412.20,414.73M408.30,414.73L412.20,412.48" stroke="#333" stroke-width="0.9" stroke-linecap="round" fill="none"/>
<text x="0" y="0" font-size="11.5" text-anchor="middle" fill="#000" transform="translate(325.94 466.8) rotate(-90)">Predicted MR</text>
<text font-size="11.5" text-anchor="middle" transform="translate(340.7 466.3) rotate(-90)">(kcal h<tspan font-size="7" dy="-4">-1</tspan><tspan dy="4">40 g</tspan><tspan font-size="7" dy="-4">-1</tspan><tspan dy="4">)</tspan></text>
<text x="424.5" y="389" font-size="19" font-weight="bold">k</text>
<line x1="467.4" y1="400.1" x2="467.4" y2="534.1" stroke-width="1.4" stroke="#000"/>
<line x1="461.9" y1="533.5" x2="467.4" y2="533.5" stroke-width="1.4" stroke="#000"/>
<text x="459.5" y="537.46" font-size="11" text-anchor="end">0</text>
<line x1="461.9" y1="489.23" x2="467.4" y2="489.23" stroke-width="1.4" stroke="#000"/>
<text x="459.5" y="493.19" font-size="11" text-anchor="end">5</text>
<line x1="461.9" y1="444.97" x2="467.4" y2="444.97" stroke-width="1.4" stroke="#000"/>
<text x="459.5" y="448.93" font-size="11" text-anchor="end">10</text>
<line x1="461.9" y1="400.7" x2="467.4" y2="400.7" stroke-width="1.4" stroke="#000"/>
<text x="459.5" y="404.66" font-size="11" text-anchor="end">15</text>
<line x1="466.8" y1="533.5" x2="509.7" y2="533.5" stroke-width="1.4" stroke="#000"/>
<rect x="474.3" y="456.4" width="13.4" height="77.1" fill="#fff" stroke="#000" stroke-width="1.4"/>
<line x1="481" y1="456.4" x2="481" y2="448.9" stroke-width="1.3" stroke="#000"/>
<line x1="477.4" y1="448.9" x2="484.6" y2="448.9" stroke-width="1.3" stroke="#000"/>
<line x1="481" y1="456.4" x2="481" y2="463.3" stroke-width="1.3" stroke="#000"/>
<line x1="477.4" y1="463.3" x2="484.6" y2="463.3" stroke-width="1.3" stroke="#000"/>
<rect x="487.7" y="487" width="13.7" height="46.5" fill="#ff6600" stroke="#000" stroke-width="1.4"/>
<line x1="494.5" y1="487" x2="494.5" y2="480.5" stroke-width="1.3" stroke="#000"/>
<line x1="490.9" y1="480.5" x2="498.1" y2="480.5" stroke-width="1.3" stroke="#000"/>
<line x1="494.5" y1="487" x2="494.5" y2="492" stroke-width="1.3" stroke="#000"/>
<line x1="490.9" y1="492" x2="498.1" y2="492" stroke-width="1.3" stroke="#000"/>
<circle cx="480.8" cy="415.1" r="1.35" fill="#000"/>
<circle cx="480.8" cy="435.5" r="1.35" fill="#000"/>
<circle cx="477.5" cy="443.8" r="1.35" fill="#000"/>
<circle cx="484.4" cy="446" r="1.35" fill="#000"/>
<circle cx="480.8" cy="454.6" r="1.35" fill="#000"/>
<circle cx="477.5" cy="467.9" r="1.35" fill="#000"/>
<circle cx="484.4" cy="469" r="1.35" fill="#000"/>
<circle cx="480.8" cy="480.1" r="1.35" fill="#000"/>
<circle cx="480.8" cy="487.4" r="1.35" fill="#000"/>
<circle cx="495.2" cy="463.7" r="1.35" fill="#000"/>
<circle cx="495.2" cy="479.5" r="1.35" fill="#000"/>
<circle cx="491.6" cy="488.2" r="1.35" fill="#000"/>
<circle cx="498.1" cy="491.3" r="1.35" fill="#000"/>
<circle cx="493" cy="491.6" r="1.35" fill="#000"/>
<circle cx="495.2" cy="495.4" r="1.35" fill="#000"/>
<circle cx="495.2" cy="501.4" r="1.35" fill="#000"/>
<path d="M491.75,449.25L491.75,453.75M489.80,450.38L493.70,452.62M489.80,452.62L493.70,450.38M498.65,449.25L498.65,453.75M496.70,450.38L500.60,452.62M496.70,452.62L500.60,450.38" stroke="#333" stroke-width="0.9" stroke-linecap="round" fill="none"/>
<text x="0" y="0" font-size="11.5" text-anchor="middle" fill="#000" transform="translate(444.64 466) rotate(-90)">Fasting glucose (mmol/L)</text>
<line x1="549.2" y1="400.1" x2="549.2" y2="534.4" stroke-width="1.4" stroke="#000"/>
<line x1="543.7" y1="533.48" x2="549.2" y2="533.48" stroke-width="1.4" stroke="#000"/>
<text x="541.3" y="537.44" font-size="11" text-anchor="end">-2</text>
<line x1="543.7" y1="511.3" x2="549.2" y2="511.3" stroke-width="1.4" stroke="#000"/>
<text x="541.3" y="515.26" font-size="11" text-anchor="end">0</text>
<line x1="543.7" y1="489.12" x2="549.2" y2="489.12" stroke-width="1.4" stroke="#000"/>
<text x="541.3" y="493.08" font-size="11" text-anchor="end">2</text>
<line x1="543.7" y1="466.93" x2="549.2" y2="466.93" stroke-width="1.4" stroke="#000"/>
<text x="541.3" y="470.89" font-size="11" text-anchor="end">4</text>
<line x1="543.7" y1="444.75" x2="549.2" y2="444.75" stroke-width="1.4" stroke="#000"/>
<text x="541.3" y="448.71" font-size="11" text-anchor="end">6</text>
<line x1="543.7" y1="422.57" x2="549.2" y2="422.57" stroke-width="1.4" stroke="#000"/>
<text x="541.3" y="426.53" font-size="11" text-anchor="end">8</text>
<line x1="543.7" y1="400.38" x2="549.2" y2="400.38" stroke-width="1.4" stroke="#000"/>
<text x="541.3" y="404.34" font-size="11" text-anchor="end">10</text>
<line x1="548.6" y1="511.3" x2="591.5" y2="511.3" stroke-width="1.4" stroke="#000"/>
<rect x="556.4" y="469.7" width="13.3" height="41.6" fill="#fff" stroke="#000" stroke-width="1.4"/>
<line x1="563" y1="469.7" x2="563" y2="458.4" stroke-width="1.3" stroke="#000"/>
<line x1="559.4" y1="458.4" x2="566.6" y2="458.4" stroke-width="1.3" stroke="#000"/>
<rect x="569.7" y="503.3" width="13.8" height="8" fill="#ff6600" stroke="#000" stroke-width="1.4"/>
<line x1="576.6" y1="503.3" x2="576.6" y2="497.4" stroke-width="1.3" stroke="#000"/>
<line x1="573" y1="497.4" x2="580.2" y2="497.4" stroke-width="1.3" stroke="#000"/>
<circle cx="563" cy="417.6" r="1.35" fill="#000"/>
<circle cx="563" cy="430" r="1.35" fill="#000"/>
<circle cx="563" cy="443.8" r="1.35" fill="#000"/>
<circle cx="559.7" cy="472.5" r="1.35" fill="#000"/>
<circle cx="566.4" cy="470.4" r="1.35" fill="#000"/>
<circle cx="563" cy="477.4" r="1.35" fill="#000"/>
<circle cx="563" cy="491.6" r="1.35" fill="#000"/>
<circle cx="559.7" cy="509" r="1.35" fill="#000"/>
<circle cx="566.4" cy="509" r="1.35" fill="#000"/>
<circle cx="577" cy="478.1" r="1.35" fill="#000"/>
<circle cx="573.9" cy="506.3" r="1.35" fill="#000"/>
<circle cx="580.6" cy="507.6" r="1.35" fill="#000"/>
<circle cx="573.9" cy="512.4" r="1.35" fill="#000"/>
<circle cx="580.6" cy="514" r="1.35" fill="#000"/>
<path d="M576.30,459.25L576.30,463.75M574.35,460.38L578.25,462.62M574.35,462.62L578.25,460.38" stroke="#333" stroke-width="0.9" stroke-linecap="round" fill="none"/>
<text x="0" y="0" font-size="11.5" text-anchor="middle" fill="#000" transform="translate(528.74 467.9) rotate(-90)">Fasting insulin (ng/mL)</text>
<text x="589" y="389" font-size="19" font-weight="bold">l</text>
<line x1="629.2" y1="399.9" x2="629.2" y2="534.4" stroke-width="1.4" stroke="#000"/>
<line x1="623.7" y1="533.01" x2="629.2" y2="533.01" stroke-width="1.4" stroke="#000"/>
<text x="621.3" y="536.97" font-size="11" text-anchor="end">-5</text>
<line x1="623.7" y1="518.2" x2="629.2" y2="518.2" stroke-width="1.4" stroke="#000"/>
<text x="621.3" y="522.16" font-size="11" text-anchor="end">0</text>
<line x1="623.7" y1="503.39" x2="629.2" y2="503.39" stroke-width="1.4" stroke="#000"/>
<text x="621.3" y="507.35" font-size="11" text-anchor="end">5</text>
<line x1="623.7" y1="488.58" x2="629.2" y2="488.58" stroke-width="1.4" stroke="#000"/>
<text x="621.3" y="492.54" font-size="11" text-anchor="end">10</text>
<line x1="623.7" y1="473.77" x2="629.2" y2="473.77" stroke-width="1.4" stroke="#000"/>
<text x="621.3" y="477.73" font-size="11" text-anchor="end">15</text>
<line x1="623.7" y1="458.96" x2="629.2" y2="458.96" stroke-width="1.4" stroke="#000"/>
<text x="621.3" y="462.92" font-size="11" text-anchor="end">20</text>
<line x1="623.7" y1="444.14" x2="629.2" y2="444.14" stroke-width="1.4" stroke="#000"/>
<text x="621.3" y="448.1" font-size="11" text-anchor="end">25</text>
<line x1="623.7" y1="429.33" x2="629.2" y2="429.33" stroke-width="1.4" stroke="#000"/>
<text x="621.3" y="433.29" font-size="11" text-anchor="end">30</text>
<line x1="623.7" y1="414.52" x2="629.2" y2="414.52" stroke-width="1.4" stroke="#000"/>
<text x="621.3" y="418.48" font-size="11" text-anchor="end">35</text>
<line x1="623.7" y1="399.71" x2="629.2" y2="399.71" stroke-width="1.4" stroke="#000"/>
<text x="621.3" y="403.67" font-size="11" text-anchor="end">40</text>
<line x1="628.6" y1="518.2" x2="671.9" y2="518.2" stroke-width="1.4" stroke="#000"/>
<rect x="636.4" y="470.4" width="13.1" height="47.8" fill="#fff" stroke="#000" stroke-width="1.4"/>
<line x1="643" y1="470.4" x2="643" y2="457.2" stroke-width="1.3" stroke="#000"/>
<line x1="639.4" y1="457.2" x2="646.6" y2="457.2" stroke-width="1.3" stroke="#000"/>
<rect x="649.5" y="511" width="14" height="7.2" fill="#ff6600" stroke="#000" stroke-width="1.4"/>
<line x1="656.5" y1="511" x2="656.5" y2="504.4" stroke-width="1.3" stroke="#000"/>
<line x1="652.9" y1="504.4" x2="660.1" y2="504.4" stroke-width="1.3" stroke="#000"/>
<circle cx="642.9" cy="417.2" r="1.35" fill="#000"/>
<circle cx="642.9" cy="422.7" r="1.35" fill="#000"/>
<circle cx="642.9" cy="441.5" r="1.35" fill="#000"/>
<circle cx="642.9" cy="450.4" r="1.35" fill="#000"/>
<circle cx="639.3" cy="483.1" r="1.35" fill="#000"/>
<circle cx="646.4" cy="485.7" r="1.35" fill="#000"/>
<circle cx="642.9" cy="496.3" r="1.35" fill="#000"/>
<circle cx="639.3" cy="515.3" r="1.35" fill="#000"/>
<circle cx="646.4" cy="516" r="1.35" fill="#000"/>
<circle cx="657" cy="481.4" r="1.35" fill="#000"/>
<circle cx="653.5" cy="514.2" r="1.35" fill="#000"/>
<circle cx="660.6" cy="515.6" r="1.35" fill="#000"/>
<circle cx="653.5" cy="519.6" r="1.35" fill="#000"/>
<circle cx="660.6" cy="520" r="1.35" fill="#000"/>
<path d="M656.60,467.45L656.60,471.95M654.65,468.57L658.55,470.82M654.65,470.82L658.55,468.57" stroke="#333" stroke-width="0.9" stroke-linecap="round" fill="none"/>
<text x="0" y="0" font-size="11.5" text-anchor="middle" fill="#000" transform="translate(605.14 464) rotate(-90)">HOMA-IR</text>
<rect x="617.2" y="368.5" width="8" height="7.3" fill="#fff" stroke="#000" stroke-width="1.2"/>
<rect x="617.2" y="378.7" width="8" height="8.4" fill="#ff6600" stroke="#000" stroke-width="1.2"/>
<text x="628" y="376.14">WT</text>
<text x="628" y="387.04">MKO</text>
<text x="2.5" y="573.2" font-size="19" font-weight="bold">m</text>
<line x1="46.1" y1="588.3" x2="46.1" y2="701.4" stroke-width="1.4" stroke="#000"/>
<line x1="40.6" y1="700.8" x2="46.1" y2="700.8" stroke-width="1.4" stroke="#000"/>
<text x="38.2" y="704.76" font-size="11" text-anchor="end">0</text>
<line x1="40.6" y1="663.5" x2="46.1" y2="663.5" stroke-width="1.4" stroke="#000"/>
<text x="38.2" y="667.46" font-size="11" text-anchor="end">10</text>
<line x1="40.6" y1="626.2" x2="46.1" y2="626.2" stroke-width="1.4" stroke="#000"/>
<text x="38.2" y="630.16" font-size="11" text-anchor="end">20</text>
<line x1="40.6" y1="588.9" x2="46.1" y2="588.9" stroke-width="1.4" stroke="#000"/>
<text x="38.2" y="592.86" font-size="11" text-anchor="end">30</text>
<line x1="45.5" y1="700.8" x2="222.5" y2="700.8" stroke-width="1.4" stroke="#000"/>
<line x1="60.9" y1="700.8" x2="60.9" y2="705.8" stroke-width="1.4" stroke="#000"/>
<text x="60.9" y="719.16" font-size="11" text-anchor="middle">0</text>
<line x1="89.9" y1="700.8" x2="89.9" y2="705.8" stroke-width="1.4" stroke="#000"/>
<text x="89.9" y="719.16" font-size="11" text-anchor="middle">15</text>
<line x1="119.5" y1="700.8" x2="119.5" y2="705.8" stroke-width="1.4" stroke="#000"/>
<text x="119.5" y="719.16" font-size="11" text-anchor="middle">30</text>
<line x1="149.1" y1="700.8" x2="149.1" y2="705.8" stroke-width="1.4" stroke="#000"/>
<text x="149.1" y="719.16" font-size="11" text-anchor="middle">60</text>
<line x1="178.6" y1="700.8" x2="178.6" y2="705.8" stroke-width="1.4" stroke="#000"/>
<text x="178.6" y="719.16" font-size="11" text-anchor="middle">90</text>
<line x1="207.8" y1="700.8" x2="207.8" y2="705.8" stroke-width="1.4" stroke="#000"/>
<text x="207.8" y="719.16" font-size="11" text-anchor="middle">120</text>
<polyline points="60.9,683.64 89.9,637.76 119.5,631.79 149.1,653.8 178.6,667.23 207.8,673.57" fill="none" stroke="#ff6600" stroke-width="1.45" stroke-dasharray="4,2.6"/>
<polyline points="60.9,682.15 89.9,628.81 119.5,628.81 149.1,653.43 178.6,666.86 207.8,673.2" fill="none" stroke="#000" stroke-width="1.45" stroke-dasharray="4,2.6"/>
<polyline points="60.9,684.39 89.9,642.99 119.5,629.56 149.1,623.59 178.6,629.18 207.8,649.7" fill="none" stroke="#ff6600" stroke-width="1.45"/>
<polyline points="60.9,667.98 89.9,619.49 119.5,600.84 149.1,605.68 178.6,612.03 207.8,629.93" fill="none" stroke="#000" stroke-width="1.45"/>
<line x1="60.9" y1="682.15" x2="60.9" y2="681.03" stroke-width="1.3" stroke="#000"/>
<line x1="58.4" y1="681.03" x2="63.4" y2="681.03" stroke-width="1.3" stroke="#000"/>
<line x1="60.9" y1="682.15" x2="60.9" y2="683.27" stroke-width="1.3" stroke="#000"/>
<line x1="58.4" y1="683.27" x2="63.4" y2="683.27" stroke-width="1.3" stroke="#000"/>
<line x1="89.9" y1="628.81" x2="89.9" y2="626.57" stroke-width="1.3" stroke="#000"/>
<line x1="87.4" y1="626.57" x2="92.4" y2="626.57" stroke-width="1.3" stroke="#000"/>
<line x1="89.9" y1="628.81" x2="89.9" y2="631.05" stroke-width="1.3" stroke="#000"/>
<line x1="87.4" y1="631.05" x2="92.4" y2="631.05" stroke-width="1.3" stroke="#000"/>
<line x1="119.5" y1="628.81" x2="119.5" y2="626.57" stroke-width="1.3" stroke="#000"/>
<line x1="117" y1="626.57" x2="122" y2="626.57" stroke-width="1.3" stroke="#000"/>
<line x1="119.5" y1="628.81" x2="119.5" y2="631.05" stroke-width="1.3" stroke="#000"/>
<line x1="117" y1="631.05" x2="122" y2="631.05" stroke-width="1.3" stroke="#000"/>
<line x1="149.1" y1="653.43" x2="149.1" y2="651.94" stroke-width="1.3" stroke="#000"/>
<line x1="146.6" y1="651.94" x2="151.6" y2="651.94" stroke-width="1.3" stroke="#000"/>
<line x1="149.1" y1="653.43" x2="149.1" y2="654.92" stroke-width="1.3" stroke="#000"/>
<line x1="146.6" y1="654.92" x2="151.6" y2="654.92" stroke-width="1.3" stroke="#000"/>
<line x1="178.6" y1="666.86" x2="178.6" y2="665.74" stroke-width="1.3" stroke="#000"/>
<line x1="176.1" y1="665.74" x2="181.1" y2="665.74" stroke-width="1.3" stroke="#000"/>
<line x1="178.6" y1="666.86" x2="178.6" y2="667.98" stroke-width="1.3" stroke="#000"/>
<line x1="176.1" y1="667.98" x2="181.1" y2="667.98" stroke-width="1.3" stroke="#000"/>
<line x1="207.8" y1="673.2" x2="207.8" y2="672.08" stroke-width="1.3" stroke="#000"/>
<line x1="205.3" y1="672.08" x2="210.3" y2="672.08" stroke-width="1.3" stroke="#000"/>
<line x1="207.8" y1="673.2" x2="207.8" y2="674.32" stroke-width="1.3" stroke="#000"/>
<line x1="205.3" y1="674.32" x2="210.3" y2="674.32" stroke-width="1.3" stroke="#000"/>
<line x1="60.9" y1="684.39" x2="60.9" y2="683.27" stroke-width="1.3" stroke="#000"/>
<line x1="58.4" y1="683.27" x2="63.4" y2="683.27" stroke-width="1.3" stroke="#000"/>
<line x1="60.9" y1="684.39" x2="60.9" y2="685.51" stroke-width="1.3" stroke="#000"/>
<line x1="58.4" y1="685.51" x2="63.4" y2="685.51" stroke-width="1.3" stroke="#000"/>
<line x1="89.9" y1="642.99" x2="89.9" y2="636.46" stroke-width="1.3" stroke="#000"/>
<line x1="87.4" y1="636.46" x2="92.4" y2="636.46" stroke-width="1.3" stroke="#000"/>
<line x1="89.9" y1="642.99" x2="89.9" y2="649.51" stroke-width="1.3" stroke="#000"/>
<line x1="87.4" y1="649.51" x2="92.4" y2="649.51" stroke-width="1.3" stroke="#000"/>
<line x1="119.5" y1="629.56" x2="119.5" y2="620.23" stroke-width="1.3" stroke="#000"/>
<line x1="117" y1="620.23" x2="122" y2="620.23" stroke-width="1.3" stroke="#000"/>
<line x1="119.5" y1="629.56" x2="119.5" y2="638.88" stroke-width="1.3" stroke="#000"/>
<line x1="117" y1="638.88" x2="122" y2="638.88" stroke-width="1.3" stroke="#000"/>
<line x1="149.1" y1="623.59" x2="149.1" y2="612.77" stroke-width="1.3" stroke="#000"/>
<line x1="146.6" y1="612.77" x2="151.6" y2="612.77" stroke-width="1.3" stroke="#000"/>
<line x1="149.1" y1="623.59" x2="149.1" y2="634.41" stroke-width="1.3" stroke="#000"/>
<line x1="146.6" y1="634.41" x2="151.6" y2="634.41" stroke-width="1.3" stroke="#000"/>
<line x1="178.6" y1="629.18" x2="178.6" y2="621.72" stroke-width="1.3" stroke="#000"/>
<line x1="176.1" y1="621.72" x2="181.1" y2="621.72" stroke-width="1.3" stroke="#000"/>
<line x1="178.6" y1="629.18" x2="178.6" y2="636.64" stroke-width="1.3" stroke="#000"/>
<line x1="176.1" y1="636.64" x2="181.1" y2="636.64" stroke-width="1.3" stroke="#000"/>
<line x1="207.8" y1="649.7" x2="207.8" y2="642.43" stroke-width="1.3" stroke="#000"/>
<line x1="205.3" y1="642.43" x2="210.3" y2="642.43" stroke-width="1.3" stroke="#000"/>
<line x1="207.8" y1="649.7" x2="207.8" y2="656.97" stroke-width="1.3" stroke="#000"/>
<line x1="205.3" y1="656.97" x2="210.3" y2="656.97" stroke-width="1.3" stroke="#000"/>
<line x1="60.9" y1="667.98" x2="60.9" y2="666.48" stroke-width="1.3" stroke="#000"/>
<line x1="58.4" y1="666.48" x2="63.4" y2="666.48" stroke-width="1.3" stroke="#000"/>
<line x1="60.9" y1="667.98" x2="60.9" y2="669.47" stroke-width="1.3" stroke="#000"/>
<line x1="58.4" y1="669.47" x2="63.4" y2="669.47" stroke-width="1.3" stroke="#000"/>
<line x1="89.9" y1="619.49" x2="89.9" y2="613.52" stroke-width="1.3" stroke="#000"/>
<line x1="87.4" y1="613.52" x2="92.4" y2="613.52" stroke-width="1.3" stroke="#000"/>
<line x1="89.9" y1="619.49" x2="89.9" y2="625.45" stroke-width="1.3" stroke="#000"/>
<line x1="87.4" y1="625.45" x2="92.4" y2="625.45" stroke-width="1.3" stroke="#000"/>
<line x1="119.5" y1="600.84" x2="119.5" y2="594.5" stroke-width="1.3" stroke="#000"/>
<line x1="117" y1="594.5" x2="122" y2="594.5" stroke-width="1.3" stroke="#000"/>
<line x1="119.5" y1="600.84" x2="119.5" y2="607.18" stroke-width="1.3" stroke="#000"/>
<line x1="117" y1="607.18" x2="122" y2="607.18" stroke-width="1.3" stroke="#000"/>
<line x1="149.1" y1="605.68" x2="149.1" y2="599.16" stroke-width="1.3" stroke="#000"/>
<line x1="146.6" y1="599.16" x2="151.6" y2="599.16" stroke-width="1.3" stroke="#000"/>
<line x1="149.1" y1="605.68" x2="149.1" y2="612.21" stroke-width="1.3" stroke="#000"/>
<line x1="146.6" y1="612.21" x2="151.6" y2="612.21" stroke-width="1.3" stroke="#000"/>
<line x1="178.6" y1="612.03" x2="178.6" y2="604.75" stroke-width="1.3" stroke="#000"/>
<line x1="176.1" y1="604.75" x2="181.1" y2="604.75" stroke-width="1.3" stroke="#000"/>
<line x1="178.6" y1="612.03" x2="178.6" y2="619.3" stroke-width="1.3" stroke="#000"/>
<line x1="176.1" y1="619.3" x2="181.1" y2="619.3" stroke-width="1.3" stroke="#000"/>
<line x1="207.8" y1="629.93" x2="207.8" y2="622.84" stroke-width="1.3" stroke="#000"/>
<line x1="205.3" y1="622.84" x2="210.3" y2="622.84" stroke-width="1.3" stroke="#000"/>
<line x1="207.8" y1="629.93" x2="207.8" y2="637.02" stroke-width="1.3" stroke="#000"/>
<line x1="205.3" y1="637.02" x2="210.3" y2="637.02" stroke-width="1.3" stroke="#000"/>
<circle cx="60.9" cy="683.64" r="2.6" fill="#ff6600" stroke="#000" stroke-width="0.6"/>
<circle cx="89.9" cy="637.76" r="2.6" fill="#ff6600" stroke="#000" stroke-width="0.6"/>
<circle cx="119.5" cy="631.79" r="2.6" fill="#ff6600" stroke="#000" stroke-width="0.6"/>
<circle cx="149.1" cy="653.8" r="2.6" fill="#ff6600" stroke="#000" stroke-width="0.6"/>
<circle cx="178.6" cy="667.23" r="2.6" fill="#ff6600" stroke="#000" stroke-width="0.6"/>
<circle cx="207.8" cy="673.57" r="2.6" fill="#ff6600" stroke="#000" stroke-width="0.6"/>
<rect x="58.4" y="679.65" width="5" height="5" fill="#fff" stroke="#000" stroke-width="0.95"/>
<rect x="87.4" y="626.31" width="5" height="5" fill="#fff" stroke="#000" stroke-width="0.95"/>
<rect x="117" y="626.31" width="5" height="5" fill="#fff" stroke="#000" stroke-width="0.95"/>
<rect x="146.6" y="650.93" width="5" height="5" fill="#fff" stroke="#000" stroke-width="0.95"/>
<rect x="176.1" y="664.36" width="5" height="5" fill="#fff" stroke="#000" stroke-width="0.95"/>
<rect x="205.3" y="670.7" width="5" height="5" fill="#fff" stroke="#000" stroke-width="0.95"/>
<circle cx="60.9" cy="684.39" r="2.6" fill="#ff6600" stroke="#000" stroke-width="0.6"/>
<circle cx="89.9" cy="642.99" r="2.6" fill="#ff6600" stroke="#000" stroke-width="0.6"/>
<circle cx="119.5" cy="629.56" r="2.6" fill="#ff6600" stroke="#000" stroke-width="0.6"/>
<circle cx="149.1" cy="623.59" r="2.6" fill="#ff6600" stroke="#000" stroke-width="0.6"/>
<circle cx="178.6" cy="629.18" r="2.6" fill="#ff6600" stroke="#000" stroke-width="0.6"/>
<circle cx="207.8" cy="649.7" r="2.6" fill="#ff6600" stroke="#000" stroke-width="0.6"/>
<rect x="58.4" y="665.48" width="5" height="5" fill="#fff" stroke="#000" stroke-width="0.95"/>
<rect x="87.4" y="616.99" width="5" height="5" fill="#fff" stroke="#000" stroke-width="0.95"/>
<rect x="117" y="598.34" width="5" height="5" fill="#fff" stroke="#000" stroke-width="0.95"/>
<rect x="146.6" y="603.18" width="5" height="5" fill="#fff" stroke="#000" stroke-width="0.95"/>
<rect x="176.1" y="609.53" width="5" height="5" fill="#fff" stroke="#000" stroke-width="0.95"/>
<rect x="205.3" y="627.43" width="5" height="5" fill="#fff" stroke="#000" stroke-width="0.95"/>
<path d="M89.90,599.25L89.90,603.75M87.95,600.38L91.85,602.62M87.95,602.62L91.85,600.38" stroke="#333" stroke-width="0.9" stroke-linecap="round" fill="none"/>
<path d="M116.05,582.75L116.05,587.25M114.10,583.88L118.00,586.12M114.10,586.12L118.00,583.88M122.95,582.75L122.95,587.25M121.00,583.88L124.90,586.12M121.00,586.12L124.90,583.88" stroke="#333" stroke-width="0.9" stroke-linecap="round" fill="none"/>
<path d="M207.80,611.95L207.80,616.45M205.85,613.08L209.75,615.33M205.85,615.33L209.75,613.08" stroke="#333" stroke-width="0.9" stroke-linecap="round" fill="none"/>
<text x="128.4" y="727.84" text-anchor="middle">Time (min)</text>
<text x="0" y="0" font-size="11.5" text-anchor="middle" fill="#000" transform="translate(19.64 643) rotate(-90)">Blood glucose (mmol/L)</text>
<line x1="274.5" y1="589.9" x2="274.5" y2="703.4" stroke-width="1.4" stroke="#000"/>
<line x1="269.2" y1="702.8" x2="274.5" y2="702.8" stroke-width="1.4" stroke="#000"/>
<text x="267.7" y="706.76" font-size="11" text-anchor="end">0</text>
<line x1="269.2" y1="674.72" x2="274.5" y2="674.72" stroke-width="1.4" stroke="#000"/>
<text x="267.7" y="678.68" font-size="11" text-anchor="end">1000</text>
<line x1="269.2" y1="646.65" x2="274.5" y2="646.65" stroke-width="1.4" stroke="#000"/>
<text x="267.7" y="650.61" font-size="11" text-anchor="end">2000</text>
<line x1="269.2" y1="618.58" x2="274.5" y2="618.58" stroke-width="1.4" stroke="#000"/>
<text x="267.7" y="622.54" font-size="11" text-anchor="end">3000</text>
<line x1="269.2" y1="590.5" x2="274.5" y2="590.5" stroke-width="1.4" stroke="#000"/>
<text x="267.7" y="594.46" font-size="11" text-anchor="end">4000</text>
<line x1="273.9" y1="702.8" x2="316.9" y2="702.8" stroke-width="1.4" stroke="#000"/>
<rect x="281.4" y="626.4" width="13.3" height="76.4" fill="#fff" stroke="#000" stroke-width="1.4"/>
<line x1="288" y1="626.4" x2="288" y2="620.6" stroke-width="1.3" stroke="#000"/>
<line x1="284.4" y1="620.6" x2="291.6" y2="620.6" stroke-width="1.3" stroke="#000"/>
<rect x="294.7" y="644.6" width="13.9" height="58.2" fill="#ff6600" stroke="#000" stroke-width="1.4"/>
<line x1="301.7" y1="644.6" x2="301.7" y2="637.8" stroke-width="1.3" stroke="#000"/>
<line x1="298.1" y1="637.8" x2="305.3" y2="637.8" stroke-width="1.3" stroke="#000"/>
<circle cx="285.8" cy="597.8" r="1.35" fill="#000"/>
<circle cx="290.4" cy="600.7" r="1.35" fill="#000"/>
<circle cx="288" cy="613.5" r="1.35" fill="#000"/>
<circle cx="283.2" cy="629.1" r="1.35" fill="#000"/>
<circle cx="288" cy="628.2" r="1.35" fill="#000"/>
<circle cx="293.3" cy="627.7" r="1.35" fill="#000"/>
<circle cx="288" cy="633.1" r="1.35" fill="#000"/>
<circle cx="285.8" cy="640.6" r="1.35" fill="#000"/>
<circle cx="290.4" cy="641.5" r="1.35" fill="#000"/>
<circle cx="288" cy="647.7" r="1.35" fill="#000"/>
<circle cx="302" cy="615.3" r="1.35" fill="#000"/>
<circle cx="302" cy="644.5" r="1.35" fill="#000"/>
<circle cx="302" cy="650" r="1.35" fill="#000"/>
<circle cx="302" cy="655.9" r="1.35" fill="#000"/>
<circle cx="302" cy="661" r="1.35" fill="#000"/>
<text x="294.6" y="714.84" text-anchor="middle">HFD</text>
<text x="0" y="0" font-size="11.5" text-anchor="middle" fill="#000" transform="translate(233.94 642.3) rotate(-90)">AUC</text>
<text transform="translate(301 609) rotate(-41)"><tspan font-style="italic">P</tspan> = 0.053</text>
<text x="347.5" y="572.7" font-size="19" font-weight="bold">n</text>
<line x1="399.6" y1="587.9" x2="399.6" y2="700.9" stroke-width="1.4" stroke="#000"/>
<line x1="394.1" y1="700.3" x2="399.6" y2="700.3" stroke-width="1.4" stroke="#000"/>
<text x="391.7" y="704.26" font-size="11" text-anchor="end">0</text>
<line x1="394.1" y1="672.35" x2="399.6" y2="672.35" stroke-width="1.4" stroke="#000"/>
<text x="391.7" y="676.31" font-size="11" text-anchor="end">5</text>
<line x1="394.1" y1="644.4" x2="399.6" y2="644.4" stroke-width="1.4" stroke="#000"/>
<text x="391.7" y="648.36" font-size="11" text-anchor="end">10</text>
<line x1="394.1" y1="616.45" x2="399.6" y2="616.45" stroke-width="1.4" stroke="#000"/>
<text x="391.7" y="620.41" font-size="11" text-anchor="end">15</text>
<line x1="394.1" y1="588.5" x2="399.6" y2="588.5" stroke-width="1.4" stroke="#000"/>
<text x="391.7" y="592.46" font-size="11" text-anchor="end">20</text>
<line x1="399" y1="700.3" x2="576" y2="700.3" stroke-width="1.4" stroke="#000"/>
<line x1="414.1" y1="700.3" x2="414.1" y2="705.3" stroke-width="1.4" stroke="#000"/>
<text x="414.1" y="718.66" font-size="11" text-anchor="middle">0</text>
<line x1="443.5" y1="700.3" x2="443.5" y2="705.3" stroke-width="1.4" stroke="#000"/>
<text x="443.5" y="718.66" font-size="11" text-anchor="middle">15</text>
<line x1="473.1" y1="700.3" x2="473.1" y2="705.3" stroke-width="1.4" stroke="#000"/>
<text x="473.1" y="718.66" font-size="11" text-anchor="middle">30</text>
<line x1="502.5" y1="700.3" x2="502.5" y2="705.3" stroke-width="1.4" stroke="#000"/>
<text x="502.5" y="718.66" font-size="11" text-anchor="middle">60</text>
<line x1="531.8" y1="700.3" x2="531.8" y2="705.3" stroke-width="1.4" stroke="#000"/>
<text x="531.8" y="718.66" font-size="11" text-anchor="middle">90</text>
<line x1="561.2" y1="700.3" x2="561.2" y2="705.3" stroke-width="1.4" stroke="#000"/>
<text x="561.2" y="718.66" font-size="11" text-anchor="middle">120</text>
<polyline points="414.1,651.11 443.5,662.85 473.1,662.29 502.5,660.61 531.8,656.14 561.2,655.58" fill="none" stroke="#ff6600" stroke-width="1.45" stroke-dasharray="4,2.6"/>
<polyline points="414.1,649.43 443.5,657.26 473.1,660.89 502.5,654.46 531.8,651.67 561.2,648.87" fill="none" stroke="#000" stroke-width="1.45" stroke-dasharray="4,2.6"/>
<polyline points="414.1,629.31 443.5,649.99 473.1,667.32 502.5,665.08 531.8,655.02 561.2,641.05" fill="none" stroke="#ff6600" stroke-width="1.45"/>
<polyline points="414.1,613.65 443.5,635.46 473.1,655.02 502.5,640.49 531.8,624.84 561.2,611.42" fill="none" stroke="#000" stroke-width="1.45"/>
<line x1="414.1" y1="649.43" x2="414.1" y2="647.19" stroke-width="1.3" stroke="#000"/>
<line x1="411.6" y1="647.19" x2="416.6" y2="647.19" stroke-width="1.3" stroke="#000"/>
<line x1="414.1" y1="649.43" x2="414.1" y2="651.67" stroke-width="1.3" stroke="#000"/>
<line x1="411.6" y1="651.67" x2="416.6" y2="651.67" stroke-width="1.3" stroke="#000"/>
<line x1="443.5" y1="657.26" x2="443.5" y2="655.02" stroke-width="1.3" stroke="#000"/>
<line x1="441" y1="655.02" x2="446" y2="655.02" stroke-width="1.3" stroke="#000"/>
<line x1="443.5" y1="657.26" x2="443.5" y2="659.49" stroke-width="1.3" stroke="#000"/>
<line x1="441" y1="659.49" x2="446" y2="659.49" stroke-width="1.3" stroke="#000"/>
<line x1="473.1" y1="660.89" x2="473.1" y2="658.65" stroke-width="1.3" stroke="#000"/>
<line x1="470.6" y1="658.65" x2="475.6" y2="658.65" stroke-width="1.3" stroke="#000"/>
<line x1="473.1" y1="660.89" x2="473.1" y2="663.13" stroke-width="1.3" stroke="#000"/>
<line x1="470.6" y1="663.13" x2="475.6" y2="663.13" stroke-width="1.3" stroke="#000"/>
<line x1="502.5" y1="654.46" x2="502.5" y2="649.99" stroke-width="1.3" stroke="#000"/>
<line x1="500" y1="649.99" x2="505" y2="649.99" stroke-width="1.3" stroke="#000"/>
<line x1="502.5" y1="654.46" x2="502.5" y2="658.93" stroke-width="1.3" stroke="#000"/>
<line x1="500" y1="658.93" x2="505" y2="658.93" stroke-width="1.3" stroke="#000"/>
<line x1="531.8" y1="651.67" x2="531.8" y2="647.19" stroke-width="1.3" stroke="#000"/>
<line x1="529.3" y1="647.19" x2="534.3" y2="647.19" stroke-width="1.3" stroke="#000"/>
<line x1="531.8" y1="651.67" x2="531.8" y2="656.14" stroke-width="1.3" stroke="#000"/>
<line x1="529.3" y1="656.14" x2="534.3" y2="656.14" stroke-width="1.3" stroke="#000"/>
<line x1="561.2" y1="648.87" x2="561.2" y2="645.52" stroke-width="1.3" stroke="#000"/>
<line x1="558.7" y1="645.52" x2="563.7" y2="645.52" stroke-width="1.3" stroke="#000"/>
<line x1="561.2" y1="648.87" x2="561.2" y2="652.23" stroke-width="1.3" stroke="#000"/>
<line x1="558.7" y1="652.23" x2="563.7" y2="652.23" stroke-width="1.3" stroke="#000"/>
<line x1="414.1" y1="629.31" x2="414.1" y2="627.07" stroke-width="1.3" stroke="#000"/>
<line x1="411.6" y1="627.07" x2="416.6" y2="627.07" stroke-width="1.3" stroke="#000"/>
<line x1="414.1" y1="629.31" x2="414.1" y2="631.54" stroke-width="1.3" stroke="#000"/>
<line x1="411.6" y1="631.54" x2="416.6" y2="631.54" stroke-width="1.3" stroke="#000"/>
<line x1="443.5" y1="649.99" x2="443.5" y2="643" stroke-width="1.3" stroke="#000"/>
<line x1="441" y1="643" x2="446" y2="643" stroke-width="1.3" stroke="#000"/>
<line x1="443.5" y1="649.99" x2="443.5" y2="656.98" stroke-width="1.3" stroke="#000"/>
<line x1="441" y1="656.98" x2="446" y2="656.98" stroke-width="1.3" stroke="#000"/>
<line x1="473.1" y1="667.32" x2="473.1" y2="665.08" stroke-width="1.3" stroke="#000"/>
<line x1="470.6" y1="665.08" x2="475.6" y2="665.08" stroke-width="1.3" stroke="#000"/>
<line x1="473.1" y1="667.32" x2="473.1" y2="669.55" stroke-width="1.3" stroke="#000"/>
<line x1="470.6" y1="669.55" x2="475.6" y2="669.55" stroke-width="1.3" stroke="#000"/>
<line x1="502.5" y1="665.08" x2="502.5" y2="656.14" stroke-width="1.3" stroke="#000"/>
<line x1="500" y1="656.14" x2="505" y2="656.14" stroke-width="1.3" stroke="#000"/>
<line x1="502.5" y1="665.08" x2="502.5" y2="674.03" stroke-width="1.3" stroke="#000"/>
<line x1="500" y1="674.03" x2="505" y2="674.03" stroke-width="1.3" stroke="#000"/>
<line x1="531.8" y1="655.02" x2="531.8" y2="649.43" stroke-width="1.3" stroke="#000"/>
<line x1="529.3" y1="649.43" x2="534.3" y2="649.43" stroke-width="1.3" stroke="#000"/>
<line x1="531.8" y1="655.02" x2="531.8" y2="660.61" stroke-width="1.3" stroke="#000"/>
<line x1="529.3" y1="660.61" x2="534.3" y2="660.61" stroke-width="1.3" stroke="#000"/>
<line x1="561.2" y1="641.05" x2="561.2" y2="632.1" stroke-width="1.3" stroke="#000"/>
<line x1="558.7" y1="632.1" x2="563.7" y2="632.1" stroke-width="1.3" stroke="#000"/>
<line x1="561.2" y1="641.05" x2="561.2" y2="649.99" stroke-width="1.3" stroke="#000"/>
<line x1="558.7" y1="649.99" x2="563.7" y2="649.99" stroke-width="1.3" stroke="#000"/>
<line x1="414.1" y1="613.65" x2="414.1" y2="611.98" stroke-width="1.3" stroke="#000"/>
<line x1="411.6" y1="611.98" x2="416.6" y2="611.98" stroke-width="1.3" stroke="#000"/>
<line x1="414.1" y1="613.65" x2="414.1" y2="615.33" stroke-width="1.3" stroke="#000"/>
<line x1="411.6" y1="615.33" x2="416.6" y2="615.33" stroke-width="1.3" stroke="#000"/>
<line x1="443.5" y1="635.46" x2="443.5" y2="630.76" stroke-width="1.3" stroke="#000"/>
<line x1="441" y1="630.76" x2="446" y2="630.76" stroke-width="1.3" stroke="#000"/>
<line x1="443.5" y1="635.46" x2="443.5" y2="640.15" stroke-width="1.3" stroke="#000"/>
<line x1="441" y1="640.15" x2="446" y2="640.15" stroke-width="1.3" stroke="#000"/>
<line x1="473.1" y1="655.02" x2="473.1" y2="652.78" stroke-width="1.3" stroke="#000"/>
<line x1="470.6" y1="652.78" x2="475.6" y2="652.78" stroke-width="1.3" stroke="#000"/>
<line x1="473.1" y1="655.02" x2="473.1" y2="657.26" stroke-width="1.3" stroke="#000"/>
<line x1="470.6" y1="657.26" x2="475.6" y2="657.26" stroke-width="1.3" stroke="#000"/>
<line x1="502.5" y1="640.49" x2="502.5" y2="636.01" stroke-width="1.3" stroke="#000"/>
<line x1="500" y1="636.01" x2="505" y2="636.01" stroke-width="1.3" stroke="#000"/>
<line x1="502.5" y1="640.49" x2="502.5" y2="644.96" stroke-width="1.3" stroke="#000"/>
<line x1="500" y1="644.96" x2="505" y2="644.96" stroke-width="1.3" stroke="#000"/>
<line x1="531.8" y1="624.84" x2="531.8" y2="621.48" stroke-width="1.3" stroke="#000"/>
<line x1="529.3" y1="621.48" x2="534.3" y2="621.48" stroke-width="1.3" stroke="#000"/>
<line x1="531.8" y1="624.84" x2="531.8" y2="628.19" stroke-width="1.3" stroke="#000"/>
<line x1="529.3" y1="628.19" x2="534.3" y2="628.19" stroke-width="1.3" stroke="#000"/>
<line x1="561.2" y1="611.42" x2="561.2" y2="607.51" stroke-width="1.3" stroke="#000"/>
<line x1="558.7" y1="607.51" x2="563.7" y2="607.51" stroke-width="1.3" stroke="#000"/>
<line x1="561.2" y1="611.42" x2="561.2" y2="615.33" stroke-width="1.3" stroke="#000"/>
<line x1="558.7" y1="615.33" x2="563.7" y2="615.33" stroke-width="1.3" stroke="#000"/>
<circle cx="414.1" cy="651.11" r="2.5" fill="#ff6600" stroke="#000" stroke-width="0.6"/>
<circle cx="443.5" cy="662.85" r="2.5" fill="#ff6600" stroke="#000" stroke-width="0.6"/>
<circle cx="473.1" cy="662.29" r="2.5" fill="#ff6600" stroke="#000" stroke-width="0.6"/>
<circle cx="502.5" cy="660.61" r="2.5" fill="#ff6600" stroke="#000" stroke-width="0.6"/>
<circle cx="531.8" cy="656.14" r="2.5" fill="#ff6600" stroke="#000" stroke-width="0.6"/>
<circle cx="561.2" cy="655.58" r="2.5" fill="#ff6600" stroke="#000" stroke-width="0.6"/>
<rect x="411.7" y="647.03" width="4.8" height="4.8" fill="#fff" stroke="#000" stroke-width="0.95"/>
<rect x="441.1" y="654.86" width="4.8" height="4.8" fill="#fff" stroke="#000" stroke-width="0.95"/>
<rect x="470.7" y="658.49" width="4.8" height="4.8" fill="#fff" stroke="#000" stroke-width="0.95"/>
<rect x="500.1" y="652.06" width="4.8" height="4.8" fill="#fff" stroke="#000" stroke-width="0.95"/>
<rect x="529.4" y="649.27" width="4.8" height="4.8" fill="#fff" stroke="#000" stroke-width="0.95"/>
<rect x="558.8" y="646.47" width="4.8" height="4.8" fill="#fff" stroke="#000" stroke-width="0.95"/>
<circle cx="414.1" cy="629.31" r="2.5" fill="#ff6600" stroke="#000" stroke-width="0.6"/>
<circle cx="443.5" cy="649.99" r="2.5" fill="#ff6600" stroke="#000" stroke-width="0.6"/>
<circle cx="473.1" cy="667.32" r="2.5" fill="#ff6600" stroke="#000" stroke-width="0.6"/>
<circle cx="502.5" cy="665.08" r="2.5" fill="#ff6600" stroke="#000" stroke-width="0.6"/>
<circle cx="531.8" cy="655.02" r="2.5" fill="#ff6600" stroke="#000" stroke-width="0.6"/>
<circle cx="561.2" cy="641.05" r="2.5" fill="#ff6600" stroke="#000" stroke-width="0.6"/>
<rect x="411.7" y="611.25" width="4.8" height="4.8" fill="#fff" stroke="#000" stroke-width="0.95"/>
<rect x="441.1" y="633.06" width="4.8" height="4.8" fill="#fff" stroke="#000" stroke-width="0.95"/>
<rect x="470.7" y="652.62" width="4.8" height="4.8" fill="#fff" stroke="#000" stroke-width="0.95"/>
<rect x="500.1" y="638.09" width="4.8" height="4.8" fill="#fff" stroke="#000" stroke-width="0.95"/>
<rect x="529.4" y="622.44" width="4.8" height="4.8" fill="#fff" stroke="#000" stroke-width="0.95"/>
<rect x="558.8" y="609.02" width="4.8" height="4.8" fill="#fff" stroke="#000" stroke-width="0.95"/>
<path d="M414.10,597.35L414.10,601.85M412.15,598.48L416.05,600.73M412.15,600.73L416.05,598.48" stroke="#333" stroke-width="0.9" stroke-linecap="round" fill="none"/>
<path d="M499.05,624.55L499.05,629.05M497.10,625.67L501.00,627.92M497.10,627.92L501.00,625.67M505.95,624.55L505.95,629.05M504.00,625.67L507.90,627.92M504.00,627.92L507.90,625.67" stroke="#333" stroke-width="0.9" stroke-linecap="round" fill="none"/>
<path d="M524.90,609.45L524.90,613.95M522.95,610.58L526.85,612.83M522.95,612.83L526.85,610.58M531.80,609.45L531.80,613.95M529.85,610.58L533.75,612.83M529.85,612.83L533.75,610.58M538.70,609.45L538.70,613.95M536.75,610.58L540.65,612.83M536.75,612.83L540.65,610.58" stroke="#333" stroke-width="0.9" stroke-linecap="round" fill="none"/>
<path d="M554.30,596.15L554.30,600.65M552.35,597.27L556.25,599.52M552.35,599.52L556.25,597.27M561.20,596.15L561.20,600.65M559.25,597.27L563.15,599.52M559.25,599.52L563.15,597.27M568.10,596.15L568.10,600.65M566.15,597.27L570.05,599.52M566.15,599.52L570.05,597.27" stroke="#333" stroke-width="0.9" stroke-linecap="round" fill="none"/>
<text x="485.6" y="728.64" text-anchor="middle">Time (min)</text>
<text x="0" y="0" font-size="11.5" text-anchor="middle" fill="#000" transform="translate(374.14 644.7) rotate(-90)">Blood glucose (mmol/L)</text>
<line x1="623" y1="590.6" x2="623" y2="703.4" stroke-width="1.4" stroke="#000"/>
<line x1="618.1" y1="702.8" x2="623" y2="702.8" stroke-width="1.4" stroke="#000"/>
<text x="616.3" y="706.76" font-size="11" text-anchor="end">0</text>
<line x1="618.1" y1="674.9" x2="623" y2="674.9" stroke-width="1.4" stroke="#000"/>
<text x="616.3" y="678.86" font-size="11" text-anchor="end">500</text>
<line x1="618.1" y1="647" x2="623" y2="647" stroke-width="1.4" stroke="#000"/>
<text x="616.3" y="650.96" font-size="11" text-anchor="end">1000</text>
<line x1="618.1" y1="619.1" x2="623" y2="619.1" stroke-width="1.4" stroke="#000"/>
<text x="616.3" y="623.06" font-size="11" text-anchor="end">1500</text>
<line x1="618.1" y1="591.2" x2="623" y2="591.2" stroke-width="1.4" stroke="#000"/>
<text x="616.3" y="595.16" font-size="11" text-anchor="end">2000</text>
<line x1="622.4" y1="702.8" x2="665.7" y2="702.8" stroke-width="1.4" stroke="#000"/>
<rect x="630.4" y="622.4" width="13.3" height="80.4" fill="#fff" stroke="#000" stroke-width="1.4"/>
<line x1="637" y1="622.4" x2="637" y2="618.4" stroke-width="1.3" stroke="#000"/>
<line x1="633.4" y1="618.4" x2="640.6" y2="618.4" stroke-width="1.3" stroke="#000"/>
<rect x="643.7" y="649.7" width="13.9" height="53.1" fill="#ff6600" stroke="#000" stroke-width="1.4"/>
<line x1="650.6" y1="649.7" x2="650.6" y2="641.5" stroke-width="1.3" stroke="#000"/>
<line x1="647" y1="641.5" x2="654.2" y2="641.5" stroke-width="1.3" stroke="#000"/>
<circle cx="636.8" cy="600.8" r="1.35" fill="#000"/>
<circle cx="634.5" cy="612" r="1.35" fill="#000"/>
<circle cx="639.3" cy="614.4" r="1.35" fill="#000"/>
<circle cx="639.3" cy="618.6" r="1.35" fill="#000"/>
<circle cx="636.8" cy="623.7" r="1.35" fill="#000"/>
<circle cx="631.6" cy="623.7" r="1.35" fill="#000"/>
<circle cx="641.7" cy="626" r="1.35" fill="#000"/>
<circle cx="636.8" cy="634.2" r="1.35" fill="#000"/>
<circle cx="636.8" cy="646.7" r="1.35" fill="#000"/>
<circle cx="650.8" cy="614.4" r="1.35" fill="#000"/>
<circle cx="650.8" cy="645.5" r="1.35" fill="#000"/>
<circle cx="650.8" cy="652.6" r="1.35" fill="#000"/>
<circle cx="647.4" cy="657" r="1.35" fill="#000"/>
<circle cx="654.4" cy="660.2" r="1.35" fill="#000"/>
<circle cx="650.8" cy="665.5" r="1.35" fill="#000"/>
<path d="M647.55,600.15L647.55,604.65M645.60,601.27L649.50,603.52M645.60,603.52L649.50,601.27M654.45,600.15L654.45,604.65M652.50,601.27L656.40,603.52M652.50,603.52L656.40,601.27" stroke="#333" stroke-width="0.9" stroke-linecap="round" fill="none"/>
<text x="643.2" y="714.84" text-anchor="middle">HFD</text>
<text x="0" y="0" font-size="11.5" text-anchor="middle" fill="#000" transform="translate(584.14 643.9) rotate(-90)">AUC</text>
<text x="1.5" y="747" font-size="19" font-weight="bold">o</text>
<text x="134.7" y="748.14" text-anchor="middle">Muscle</text>
<text x="97.9" y="764.44" text-anchor="middle">WT</text>
<text x="170" y="764.44" text-anchor="middle">MKO</text>
<line x1="62.6" y1="767.8" x2="129" y2="767.8" stroke="#000"/>
<line x1="136" y1="767.8" x2="204" y2="767.8" stroke="#000"/>
<text x="57.5" y="781.64" text-anchor="end">Ins.</text>
<text x="72.1" y="780.34" text-anchor="middle">-</text>
<text x="90" y="780.34" text-anchor="middle">-</text>
<text x="107" y="780.34" text-anchor="middle">+</text>
<text x="125.2" y="780.34" text-anchor="middle">+</text>
<text x="145.4" y="780.34" text-anchor="middle">-</text>
<text x="163.2" y="780.34" text-anchor="middle">-</text>
<text x="181" y="780.34" text-anchor="middle">+</text>
<text x="198.1" y="780.34" text-anchor="middle">+</text>
<line x1="62.6" y1="783.1" x2="95" y2="783.1" stroke="#000"/>
<line x1="99" y1="783.1" x2="131" y2="783.1" stroke="#000"/>
<line x1="136" y1="783.1" x2="167.5" y2="783.1" stroke="#000"/>
<line x1="172.5" y1="783.1" x2="205" y2="783.1" stroke="#000"/>
<rect x="61.4" y="788.5" width="147.4" height="23" fill="#f0f0f0"/>
<clipPath id="cb1381"><rect x="61.4" y="788.5" width="147.4" height="23"/></clipPath><g clip-path="url(#cb1381)">
<rect x="62.5" y="799.3" width="14" height="2.6" rx="1.3" fill="#000" opacity="0.3" filter="url(#bl06)"/>
<rect x="81.3" y="799.4" width="14" height="2.4" rx="1.2" fill="#000" opacity="0.22" filter="url(#bl06)"/>
<rect x="99.1" y="799" width="14" height="3.2" rx="1.6" fill="#000" opacity="0.8" filter="url(#bl06)"/>
<rect x="117.5" y="798.9" width="14" height="3.4" rx="1.7" fill="#000" opacity="0.9" filter="url(#bl06)"/>
<rect x="134.7" y="799.5" width="14" height="2.2" rx="1.1" fill="#000" opacity="0.12" filter="url(#bl06)"/>
<rect x="153" y="799.3" width="14" height="2.6" rx="1.3" fill="#000" opacity="0.35" filter="url(#bl06)"/>
<rect x="171.3" y="798.5" width="14" height="4.2" rx="2.1" fill="#000" opacity="1.0" filter="url(#bl06)"/>
<rect x="189.7" y="798.5" width="14" height="4.2" rx="2.1" fill="#000" opacity="1.0" filter="url(#bl06)"/>
</g>
<rect x="61.4" y="788.5" width="147.4" height="23" fill="none" stroke="#000" stroke-width="1.3"/>
<rect x="61.4" y="826.6" width="147.4" height="23" fill="#e9e9e9"/>
<clipPath id="cb1393"><rect x="61.4" y="826.6" width="147.4" height="23"/></clipPath><g clip-path="url(#cb1393)">
<rect x="62.25" y="841.6" width="14.5" height="2.4" rx="1.2" fill="#000" opacity="0.9" filter="url(#bl06)"/>
<rect x="81.05" y="841.6" width="14.5" height="2.4" rx="1.2" fill="#000" opacity="0.65" filter="url(#bl06)"/>
<rect x="98.85" y="841.6" width="14.5" height="2.4" rx="1.2" fill="#000" opacity="1.0" filter="url(#bl06)"/>
<rect x="117.25" y="841.6" width="14.5" height="2.4" rx="1.2" fill="#000" opacity="1.0" filter="url(#bl06)"/>
<rect x="134.45" y="841.6" width="14.5" height="2.4" rx="1.2" fill="#000" opacity="0.8" filter="url(#bl06)"/>
<rect x="152.75" y="841.6" width="14.5" height="2.4" rx="1.2" fill="#000" opacity="0.75" filter="url(#bl06)"/>
<rect x="171.05" y="841.6" width="14.5" height="2.4" rx="1.2" fill="#000" opacity="1.0" filter="url(#bl06)"/>
<rect x="189.45" y="841.6" width="14.5" height="2.4" rx="1.2" fill="#000" opacity="1.0" filter="url(#bl06)"/>
</g>
<rect x="61.4" y="826.6" width="147.4" height="23" fill="none" stroke="#000" stroke-width="1.3"/>
<rect x="61.4" y="865.4" width="147.4" height="23" fill="#c6c6c6"/>
<clipPath id="cb1405"><rect x="61.4" y="865.4" width="147.4" height="23"/></clipPath><g clip-path="url(#cb1405)">
<rect x="62.25" y="876.2" width="14.5" height="3.2" rx="1.6" fill="#000" opacity="1.0" filter="url(#bl06)"/>
<rect x="81.05" y="876.2" width="14.5" height="3.2" rx="1.6" fill="#000" opacity="0.95" filter="url(#bl06)"/>
<rect x="98.85" y="876.2" width="14.5" height="3.2" rx="1.6" fill="#000" opacity="0.9" filter="url(#bl06)"/>
<rect x="117.25" y="876.2" width="14.5" height="3.2" rx="1.6" fill="#000" opacity="0.9" filter="url(#bl06)"/>
<rect x="134.45" y="876.2" width="14.5" height="3.2" rx="1.6" fill="#000" opacity="1.0" filter="url(#bl06)"/>
<rect x="152.75" y="876.2" width="14.5" height="3.2" rx="1.6" fill="#000" opacity="0.95" filter="url(#bl06)"/>
<rect x="171.05" y="876.2" width="14.5" height="3.2" rx="1.6" fill="#000" opacity="1.0" filter="url(#bl06)"/>
<rect x="189.45" y="876.2" width="14.5" height="3.2" rx="1.6" fill="#000" opacity="0.95" filter="url(#bl06)"/>
</g>
<rect x="61.4" y="865.4" width="147.4" height="23" fill="none" stroke="#000" stroke-width="1.3"/>
<text x="57.5" y="804.44" text-anchor="end">pAKT-t308</text>
<text x="57.5" y="843.04" text-anchor="end">pAKT-s473</text>
<text x="57.5" y="881.74" text-anchor="end">t-AKT</text>
<text x="78.9" y="823.86" font-size="11" text-anchor="middle">1.0</text>
<text x="78.9" y="862.56" font-size="11" text-anchor="middle">1.0</text>
<text x="115.7" y="823.86" font-size="11" text-anchor="middle">2.6±0.1</text>
<text x="115.7" y="862.56" font-size="11" text-anchor="middle">2.3±0.1</text>
<text x="153.7" y="823.86" font-size="11" text-anchor="middle">1.1±0.3</text>
<text x="153.7" y="862.56" font-size="11" text-anchor="middle">1.3±0.3</text>
<text x="192.8" y="823.86" font-size="11" text-anchor="middle">4.2±0.1</text>
<text x="192.8" y="862.56" font-size="11" text-anchor="middle">2.7±0.1</text>
<line x1="209.8" y1="789.6" x2="209.8" y2="793.1" stroke-width="1" stroke="#000"/>
<line x1="209.8" y1="791.6" x2="214.2" y2="791.6" stroke-width="1" stroke="#000"/>
<text x="215.3" y="797.14">72kDa</text>
<line x1="209.8" y1="831.1" x2="209.8" y2="834.6" stroke-width="1" stroke="#000"/>
<line x1="209.8" y1="833.1" x2="214.2" y2="833.1" stroke-width="1" stroke="#000"/>
<text x="215.3" y="837.84">72kDa</text>
<line x1="209.8" y1="867.7" x2="209.8" y2="871.2" stroke-width="1" stroke="#000"/>
<line x1="209.8" y1="869.7" x2="214.2" y2="869.7" stroke-width="1" stroke="#000"/>
<text x="215.3" y="875.04">72kDa</text>
<text x="259.5" y="747" font-size="19" font-weight="bold">p</text>
<text x="344.1" y="746.84" text-anchor="middle">WT</text>
<text x="445.6" y="746.84" text-anchor="middle">MKO</text>
<text x="276.7" y="794.34" text-anchor="middle">CD</text>
<text x="273.5" y="869.84" text-anchor="middle">HFD</text>
<svg x="291.1" y="751.3" width="99.6" height="73.3" viewBox="0 0 99.6 73.3">
<rect width="99.6" height="73.3" fill="#f4dcea"/>
<rect width="99.6" height="73.3" filter="url(#tx1)"/>
<rect width="99.6" height="73.3" filter="url(#tx1b)"/>
</svg>
<svg x="393.3" y="751.3" width="99.9" height="73.6" viewBox="0 0 99.9 73.6">
<rect width="99.9" height="73.6" fill="#f6e0ee"/>
<rect width="99.9" height="73.6" filter="url(#tx2)"/>
<rect width="99.9" height="73.6" filter="url(#tx1b)"/>
</svg>
<svg x="291.1" y="827.3" width="99.6" height="74.7" viewBox="0 0 99.6 74.7">
<rect width="99.6" height="74.7" fill="#fdf6f8"/>
<rect width="99.6" height="74.7" filter="url(#tx3)"/>
<circle cx="23.7" cy="40.7" r="0.9" fill="#d8183c"/>
<circle cx="60.2" cy="46.7" r="0.7" fill="#d8183c"/>
<circle cx="1.3" cy="62.6" r="0.8" fill="#d8183c"/>
<circle cx="23.3" cy="74.4" r="1.0" fill="#d8183c"/>
<circle cx="83.3" cy="35.6" r="1.1" fill="#d8183c"/>
<circle cx="15.0" cy="47.4" r="1.3" fill="#d8183c"/>
<circle cx="52.1" cy="55.4" r="1.1" fill="#d8183c"/>
<circle cx="6.4" cy="56.6" r="1.1" fill="#d8183c"/>
<circle cx="30.0" cy="2.3" r="1.3" fill="#d8183c"/>
<circle cx="47.1" cy="53.7" r="1.3" fill="#d8183c"/>
<circle cx="71.1" cy="68.8" r="0.9" fill="#d8183c"/>
<circle cx="79.8" cy="33.2" r="1.3" fill="#d8183c"/>
<circle cx="87.5" cy="7.3" r="0.7" fill="#d8183c"/>
<circle cx="21.6" cy="72.1" r="0.9" fill="#d8183c"/>
<circle cx="62.4" cy="22.5" r="1.0" fill="#d8183c"/>
<circle cx="38.4" cy="26.2" r="1.1" fill="#d8183c"/>
<circle cx="58.2" cy="67.5" r="1.1" fill="#d8183c"/>
<circle cx="92.5" cy="64.0" r="1.4" fill="#d8183c"/>
<circle cx="66.9" cy="12.2" r="1.3" fill="#d8183c"/>
<circle cx="96.1" cy="67.6" r="1.1" fill="#d8183c"/>
<circle cx="71.1" cy="15.8" r="1.3" fill="#d8183c"/>
<circle cx="57.1" cy="21.3" r="0.7" fill="#d8183c"/>
<circle cx="85.1" cy="73.9" r="0.7" fill="#d8183c"/>
<circle cx="79.7" cy="30.7" r="0.7" fill="#d8183c"/>
<circle cx="29.3" cy="57.4" r="1.3" fill="#d8183c"/>
<circle cx="4.4" cy="45.9" r="0.6" fill="#d8183c"/>
<circle cx="71.6" cy="24.7" r="1.3" fill="#d8183c"/>
<circle cx="97.7" cy="37.8" r="1.4" fill="#d8183c"/>
<circle cx="30.8" cy="5.7" r="1.1" fill="#d8183c"/>
<circle cx="3.1" cy="14.7" r="0.9" fill="#d8183c"/>
<circle cx="60.8" cy="11.7" r="0.6" fill="#d8183c"/>
<circle cx="86.4" cy="23.4" r="1.4" fill="#d8183c"/>
<circle cx="89.3" cy="28.2" r="1.0" fill="#d8183c"/>
<circle cx="51.8" cy="48.1" r="1.1" fill="#d8183c"/>
<circle cx="55.7" cy="46.3" r="1.4" fill="#d8183c"/>
<circle cx="50.5" cy="32.2" r="1.2" fill="#d8183c"/>
<circle cx="23.7" cy="22.5" r="1.4" fill="#d8183c"/>
<circle cx="51.9" cy="41.0" r="0.6" fill="#d8183c"/>
<circle cx="41.4" cy="43.3" r="0.6" fill="#d8183c"/>
<circle cx="61.3" cy="47.2" r="0.6" fill="#d8183c"/>
<circle cx="62.5" cy="34.8" r="1.1" fill="#d8183c"/>
<circle cx="35.1" cy="52.8" r="1.2" fill="#d8183c"/>
<circle cx="2.2" cy="4.5" r="1.1" fill="#d8183c"/>
<circle cx="95.9" cy="18.8" r="1.0" fill="#d8183c"/>
<circle cx="59.0" cy="23.9" r="0.9" fill="#d8183c"/>
<circle cx="31.1" cy="27.6" r="1.1" fill="#d8183c"/>
<circle cx="29.9" cy="28.2" r="1.2" fill="#d8183c"/>
<circle cx="2.7" cy="42.5" r="1.2" fill="#d8183c"/>
<circle cx="30.9" cy="16.6" r="1.2" fill="#d8183c"/>
<circle cx="23.8" cy="14.0" r="0.9" fill="#d8183c"/>
<circle cx="69.5" cy="7.6" r="0.9" fill="#d8183c"/>
<circle cx="33.2" cy="62.3" r="1.0" fill="#d8183c"/>
<circle cx="85.2" cy="12.6" r="0.9" fill="#d8183c"/>
<circle cx="64.8" cy="66.1" r="1.0" fill="#d8183c"/>
<circle cx="22.4" cy="9.0" r="1.0" fill="#d8183c"/>
<circle cx="19.0" cy="60.3" r="1.3" fill="#d8183c"/>
<circle cx="18.3" cy="20.8" r="1.2" fill="#d8183c"/>
<circle cx="63.9" cy="60.2" r="0.9" fill="#d8183c"/>
<circle cx="12.9" cy="21.8" r="1.2" fill="#d8183c"/>
<circle cx="27.0" cy="25.9" r="0.9" fill="#d8183c"/>
<circle cx="41.8" cy="30.6" r="1.3" fill="#d8183c"/>
<circle cx="15.5" cy="0.3" r="1.4" fill="#d8183c"/>
<circle cx="87.6" cy="73.7" r="0.9" fill="#d8183c"/>
<circle cx="94.6" cy="69.3" r="0.8" fill="#d8183c"/>
<circle cx="74.3" cy="62.5" r="1.1" fill="#d8183c"/>
<circle cx="51.7" cy="21.6" r="0.9" fill="#d8183c"/>
<circle cx="22.7" cy="5.1" r="1.1" fill="#d8183c"/>
<circle cx="28.6" cy="60.5" r="0.6" fill="#d8183c"/>
<circle cx="90.0" cy="51.8" r="1.3" fill="#d8183c"/>
<circle cx="89.3" cy="67.2" r="1.1" fill="#d8183c"/>
<circle cx="1.3" cy="55.7" r="0.7" fill="#d8183c"/>
<circle cx="29.9" cy="49.5" r="1.0" fill="#d8183c"/>
<circle cx="41.2" cy="70.1" r="1.1" fill="#d8183c"/>
<circle cx="34.0" cy="18.9" r="1.3" fill="#d8183c"/>
<circle cx="47.5" cy="58.4" r="0.9" fill="#d8183c"/>
<circle cx="19.7" cy="39.9" r="1.3" fill="#d8183c"/>
<circle cx="17.1" cy="59.1" r="1.3" fill="#d8183c"/>
<circle cx="80.3" cy="61.5" r="0.6" fill="#d8183c"/>
<circle cx="62.6" cy="64.4" r="0.6" fill="#d8183c"/>
<circle cx="27.0" cy="20.1" r="1.0" fill="#d8183c"/>
<circle cx="42.1" cy="35.3" r="1.2" fill="#d8183c"/>
<circle cx="0.2" cy="4.1" r="0.7" fill="#d8183c"/>
<circle cx="12.4" cy="5.1" r="1.4" fill="#d8183c"/>
<circle cx="85.1" cy="6.4" r="1.0" fill="#d8183c"/>
<circle cx="31.5" cy="23.5" r="0.9" fill="#d8183c"/>
<circle cx="64.4" cy="43.8" r="0.9" fill="#d8183c"/>
<circle cx="19.0" cy="24.6" r="0.7" fill="#d8183c"/>
<circle cx="55.3" cy="53.5" r="0.9" fill="#d8183c"/>
<circle cx="8.0" cy="13.3" r="0.9" fill="#d8183c"/>
<circle cx="60.2" cy="58.5" r="0.9" fill="#d8183c"/>
<circle cx="79.8" cy="46.5" r="0.9" fill="#d8183c"/>
<circle cx="37.1" cy="37.1" r="1.2" fill="#d8183c"/>
<circle cx="41.9" cy="51.9" r="1.0" fill="#d8183c"/>
<circle cx="24.4" cy="40.0" r="1.2" fill="#d8183c"/>
<circle cx="7.1" cy="31.7" r="0.9" fill="#d8183c"/>
<circle cx="87.6" cy="70.0" r="0.9" fill="#d8183c"/>
<circle cx="89.4" cy="59.1" r="0.8" fill="#d8183c"/>
<circle cx="46.2" cy="9.2" r="1.3" fill="#d8183c"/>
<circle cx="66.0" cy="66.3" r="1.2" fill="#d8183c"/>
<circle cx="66.5" cy="54.8" r="1.1" fill="#d8183c"/>
<circle cx="10.3" cy="43.9" r="0.6" fill="#d8183c"/>
<circle cx="14.3" cy="57.8" r="0.6" fill="#d8183c"/>
<circle cx="9.1" cy="7.4" r="1.3" fill="#d8183c"/>
<circle cx="17.8" cy="1.8" r="1.3" fill="#d8183c"/>
<circle cx="12.1" cy="63.0" r="1.1" fill="#d8183c"/>
<circle cx="83.3" cy="71.1" r="1.1" fill="#d8183c"/>
<circle cx="79.6" cy="2.7" r="1.2" fill="#d8183c"/>
<circle cx="50.9" cy="53.4" r="0.7" fill="#d8183c"/>
<circle cx="74.6" cy="69.8" r="0.6" fill="#d8183c"/>
<circle cx="32.3" cy="42.1" r="1.3" fill="#d8183c"/>
<circle cx="24.1" cy="13.4" r="0.8" fill="#d8183c"/>
<circle cx="61.4" cy="56.3" r="0.9" fill="#d8183c"/>
<circle cx="36.6" cy="29.6" r="0.9" fill="#d8183c"/>
<circle cx="41.7" cy="6.2" r="1.0" fill="#d8183c"/>
<circle cx="96.9" cy="30.8" r="1.2" fill="#d8183c"/>
<circle cx="16.0" cy="51.6" r="1.2" fill="#d8183c"/>
<circle cx="67.1" cy="38.6" r="1.0" fill="#d8183c"/>
<circle cx="64.0" cy="67.0" r="0.7" fill="#d8183c"/>
<circle cx="9.5" cy="55.9" r="1.3" fill="#d8183c"/>
<circle cx="51.5" cy="33.1" r="1.2" fill="#d8183c"/>
<circle cx="18.5" cy="20.0" r="0.8" fill="#d8183c"/>
<circle cx="58.3" cy="23.5" r="0.8" fill="#d8183c"/>
<circle cx="68.8" cy="71.2" r="0.8" fill="#d8183c"/>
<circle cx="70.3" cy="30.9" r="1.3" fill="#d8183c"/>
<circle cx="58.2" cy="20.0" r="0.8" fill="#d8183c"/>
<circle cx="2.3" cy="35.8" r="0.9" fill="#d8183c"/>
<circle cx="17.2" cy="26.9" r="0.9" fill="#d8183c"/>
<circle cx="77.1" cy="10.7" r="1.4" fill="#d8183c"/>
<circle cx="47.8" cy="44.7" r="1.0" fill="#d8183c"/>
<circle cx="83.1" cy="61.4" r="1.0" fill="#d8183c"/>
<circle cx="47.9" cy="53.8" r="1.3" fill="#d8183c"/>
<circle cx="39.9" cy="54.8" r="1.4" fill="#d8183c"/>
<circle cx="46.6" cy="17.2" r="0.8" fill="#d8183c"/>
<circle cx="71.5" cy="50.4" r="1.4" fill="#d8183c"/>
<circle cx="85.0" cy="18.1" r="0.8" fill="#d8183c"/>
<circle cx="25.8" cy="14.0" r="1.2" fill="#d8183c"/>
<circle cx="85.5" cy="67.2" r="0.8" fill="#d8183c"/>
<circle cx="86.2" cy="23.4" r="0.9" fill="#d8183c"/>
<circle cx="72.6" cy="6.4" r="0.7" fill="#d8183c"/>
<circle cx="83.1" cy="21.8" r="0.9" fill="#d8183c"/>
<circle cx="57.8" cy="50.5" r="0.6" fill="#d8183c"/>
<circle cx="33.3" cy="32.6" r="1.0" fill="#d8183c"/>
<circle cx="20.9" cy="43.7" r="1.4" fill="#d8183c"/>
<circle cx="38.9" cy="40.7" r="0.7" fill="#d8183c"/>
<circle cx="27.4" cy="49.7" r="0.7" fill="#d8183c"/>
<circle cx="88.4" cy="67.9" r="0.7" fill="#d8183c"/>
<circle cx="93.8" cy="28.0" r="1.2" fill="#d8183c"/>
<circle cx="75.4" cy="22.1" r="1.1" fill="#d8183c"/>
<circle cx="65.1" cy="60.2" r="0.8" fill="#d8183c"/>
<circle cx="75.1" cy="71.8" r="1.1" fill="#d8183c"/>
<circle cx="53.4" cy="8.5" r="1.0" fill="#d8183c"/>
<circle cx="35.1" cy="53.6" r="1.1" fill="#d8183c"/>
<circle cx="56.4" cy="13.6" r="1.1" fill="#d8183c"/>
<circle cx="62.8" cy="13.4" r="1.3" fill="#d8183c"/>
<circle cx="65.3" cy="9.2" r="1.3" fill="#d8183c"/>
<circle cx="14.1" cy="24.8" r="1.2" fill="#d8183c"/>
<circle cx="59.5" cy="41.5" r="1.1" fill="#d8183c"/>
<circle cx="45.6" cy="23.3" r="0.7" fill="#d8183c"/>
<circle cx="6.8" cy="53.5" r="1.2" fill="#d8183c"/>
<circle cx="54.1" cy="55.3" r="0.9" fill="#d8183c"/>
<circle cx="26.5" cy="28.6" r="1.3" fill="#d8183c"/>
<circle cx="4.2" cy="37.7" r="0.8" fill="#d8183c"/>
<circle cx="76.6" cy="26.5" r="0.9" fill="#d8183c"/>
<circle cx="40.2" cy="40.4" r="1.2" fill="#d8183c"/>
<circle cx="35.1" cy="63.3" r="0.7" fill="#d8183c"/>
<circle cx="26.9" cy="7.4" r="0.7" fill="#d8183c"/>
<circle cx="77.6" cy="54.3" r="0.7" fill="#d8183c"/>
<circle cx="18.8" cy="31.1" r="1.2" fill="#d8183c"/>
<circle cx="81.2" cy="55.9" r="1.1" fill="#d8183c"/>
<circle cx="14.6" cy="29.8" r="0.8" fill="#d8183c"/>
<circle cx="52.5" cy="42.5" r="0.8" fill="#d8183c"/>
<circle cx="24.9" cy="58.4" r="0.6" fill="#d8183c"/>
<circle cx="80.0" cy="66.6" r="1.4" fill="#d8183c"/>
<circle cx="38.2" cy="41.3" r="1.1" fill="#d8183c"/>
<circle cx="63.1" cy="73.0" r="1.1" fill="#d8183c"/>
<circle cx="29.8" cy="64.2" r="1.0" fill="#d8183c"/>
<circle cx="59.9" cy="54.3" r="0.6" fill="#d8183c"/>
<circle cx="76.7" cy="49.4" r="1.0" fill="#d8183c"/>
<circle cx="52.2" cy="34.4" r="0.8" fill="#d8183c"/>
<circle cx="52.7" cy="2.8" r="1.0" fill="#d8183c"/>
<circle cx="64.3" cy="33.2" r="1.1" fill="#d8183c"/>
<circle cx="95.5" cy="66.6" r="0.7" fill="#d8183c"/>
<circle cx="78.9" cy="46.6" r="0.6" fill="#d8183c"/>
<circle cx="35.8" cy="17.4" r="0.7" fill="#d8183c"/>
<circle cx="53.7" cy="69.5" r="0.9" fill="#d8183c"/>
<circle cx="86.7" cy="51.9" r="0.7" fill="#d8183c"/>
<circle cx="85.5" cy="44.9" r="1.3" fill="#d8183c"/>
<circle cx="71.3" cy="55.3" r="0.9" fill="#d8183c"/>
<circle cx="80.3" cy="69.6" r="1.3" fill="#d8183c"/>
<circle cx="43.5" cy="56.5" r="1.0" fill="#d8183c"/>
<circle cx="10.9" cy="3.2" r="0.7" fill="#d8183c"/>
<circle cx="20.0" cy="12.0" r="1.0" fill="#d8183c"/>
<circle cx="69.6" cy="40.1" r="0.9" fill="#d8183c"/>
<circle cx="64.7" cy="22.8" r="1.0" fill="#d8183c"/>
<circle cx="75.4" cy="30.0" r="0.7" fill="#d8183c"/>
<circle cx="89.6" cy="53.8" r="0.9" fill="#d8183c"/>
<circle cx="36.9" cy="39.5" r="1.1" fill="#d8183c"/>
<circle cx="22.3" cy="0.2" r="0.8" fill="#d8183c"/>
<circle cx="78.0" cy="10.7" r="1.0" fill="#d8183c"/>
<circle cx="19.5" cy="15.6" r="0.7" fill="#d8183c"/>
<circle cx="40.2" cy="12.6" r="0.6" fill="#d8183c"/>
<circle cx="11.0" cy="12.6" r="1.0" fill="#d8183c"/>
<circle cx="5.9" cy="1.7" r="1.0" fill="#d8183c"/>
<circle cx="40.6" cy="52.5" r="0.6" fill="#d8183c"/>
<circle cx="40.2" cy="29.6" r="0.6" fill="#d8183c"/>
<circle cx="96.2" cy="16.4" r="0.7" fill="#d8183c"/>
<circle cx="47.3" cy="12.3" r="1.1" fill="#d8183c"/>
<circle cx="34.5" cy="9.3" r="0.6" fill="#d8183c"/>
<circle cx="72.5" cy="20.5" r="1.2" fill="#d8183c"/>
<circle cx="46.4" cy="69.7" r="0.8" fill="#d8183c"/>
<circle cx="24.9" cy="19.9" r="1.3" fill="#d8183c"/>
<circle cx="62.7" cy="25.8" r="0.7" fill="#d8183c"/>
<circle cx="68.0" cy="72.4" r="1.1" fill="#d8183c"/>
<circle cx="0.4" cy="2.3" r="0.7" fill="#d8183c"/>
<circle cx="17.0" cy="2.7" r="0.6" fill="#d8183c"/>
<circle cx="65.2" cy="67.3" r="0.8" fill="#d8183c"/>
<circle cx="97.0" cy="35.6" r="1.2" fill="#d8183c"/>
<circle cx="91.4" cy="70.2" r="0.6" fill="#d8183c"/>
<circle cx="30.4" cy="45.3" r="1.4" fill="#d8183c"/>
<circle cx="8.7" cy="21.9" r="1.3" fill="#d8183c"/>
<circle cx="11.4" cy="29.1" r="0.9" fill="#d8183c"/>
<circle cx="67.7" cy="69.4" r="0.7" fill="#d8183c"/>
<circle cx="73.7" cy="54.8" r="1.3" fill="#d8183c"/>
<circle cx="55.1" cy="69.0" r="0.9" fill="#d8183c"/>
<circle cx="41.3" cy="17.1" r="1.2" fill="#d8183c"/>
<circle cx="47.9" cy="20.1" r="0.7" fill="#d8183c"/>
<circle cx="71.8" cy="45.2" r="1.2" fill="#d8183c"/>
<circle cx="38.5" cy="36.4" r="0.7" fill="#d8183c"/>
<circle cx="70.8" cy="1.7" r="1.0" fill="#d8183c"/>
<circle cx="75.5" cy="50.6" r="0.7" fill="#d8183c"/>
<circle cx="23.6" cy="63.0" r="1.1" fill="#d8183c"/>
<circle cx="87.5" cy="65.2" r="1.0" fill="#d8183c"/>
<circle cx="89.3" cy="54.7" r="0.9" fill="#d8183c"/>
<circle cx="36.9" cy="5.4" r="0.9" fill="#d8183c"/>
<circle cx="95.2" cy="7.8" r="1.1" fill="#d8183c"/>
<circle cx="11.0" cy="6.0" r="1.1" fill="#d8183c"/>
<circle cx="24.0" cy="3.6" r="0.7" fill="#d8183c"/>
<circle cx="64.2" cy="43.7" r="0.6" fill="#d8183c"/>
<circle cx="22.9" cy="72.3" r="0.8" fill="#d8183c"/>
<circle cx="56.0" cy="31.3" r="1.2" fill="#d8183c"/>
<circle cx="60.2" cy="58.9" r="1.0" fill="#d8183c"/>
<circle cx="18.7" cy="13.3" r="0.7" fill="#d8183c"/>
<circle cx="82.2" cy="8.4" r="0.6" fill="#d8183c"/>
<circle cx="96.3" cy="14.9" r="1.3" fill="#d8183c"/>
<circle cx="8.5" cy="34.8" r="0.8" fill="#d8183c"/>
<circle cx="82.6" cy="46.0" r="1.1" fill="#d8183c"/>
<circle cx="75.8" cy="65.1" r="0.9" fill="#d8183c"/>
<circle cx="60.1" cy="33.3" r="0.7" fill="#d8183c"/>
<circle cx="83.2" cy="44.4" r="1.3" fill="#d8183c"/>
<circle cx="20.5" cy="40.3" r="1.0" fill="#d8183c"/>
<circle cx="72.5" cy="5.8" r="0.9" fill="#d8183c"/>
<circle cx="48.3" cy="5.3" r="1.0" fill="#d8183c"/>
<circle cx="73.2" cy="31.6" r="1.1" fill="#d8183c"/>
<circle cx="60.3" cy="16.0" r="0.9" fill="#d8183c"/>
<circle cx="99.2" cy="25.0" r="0.9" fill="#d8183c"/>
<circle cx="8.4" cy="16.3" r="0.7" fill="#d8183c"/>
<circle cx="92.7" cy="54.3" r="1.3" fill="#d8183c"/>
<circle cx="98.3" cy="45.7" r="1.3" fill="#d8183c"/>
<circle cx="53.4" cy="31.3" r="1.4" fill="#d8183c"/>
<circle cx="89.9" cy="70.9" r="1.0" fill="#d8183c"/>
<circle cx="77.0" cy="30.4" r="2.6" fill="#d8183c"/>
<circle cx="91.7" cy="21.8" r="2.5" fill="#d8183c"/>
<circle cx="18.4" cy="7.2" r="2.3" fill="#d8183c"/>
<circle cx="29.3" cy="38.8" r="2.2" fill="#d8183c"/>
<circle cx="4.0" cy="55.7" r="1.7" fill="#d8183c"/>
<circle cx="43.1" cy="25.8" r="2.3" fill="#d8183c"/>
<circle cx="74.4" cy="21.5" r="1.5" fill="#d8183c"/>
<circle cx="29.8" cy="30.7" r="1.5" fill="#d8183c"/>
<circle cx="15.3" cy="57.0" r="2.2" fill="#d8183c"/>
<circle cx="97.2" cy="73.2" r="2.5" fill="#d8183c"/>
<circle cx="37.1" cy="12.1" r="1.8" fill="#d8183c"/>
<circle cx="46.1" cy="39.3" r="2.1" fill="#d8183c"/>
<circle cx="35.8" cy="63.7" r="1.7" fill="#d8183c"/>
<circle cx="46.1" cy="66.2" r="2.4" fill="#d8183c"/>
<circle cx="29.6" cy="18.1" r="2.4" fill="#d8183c"/>
<circle cx="1.0" cy="9.8" r="2.0" fill="#d8183c"/>
<circle cx="53.4" cy="12.4" r="1.5" fill="#d8183c"/>
<circle cx="20.3" cy="57.5" r="2.0" fill="#d8183c"/>
<circle cx="97.5" cy="58.7" r="2.6" fill="#d8183c"/>
<circle cx="3.5" cy="13.8" r="1.4" fill="#d8183c"/>
<circle cx="43.1" cy="25.3" r="1.5" fill="#d8183c"/>
<circle cx="54.4" cy="7.0" r="1.8" fill="#d8183c"/>
<circle cx="24.6" cy="59.9" r="1.9" fill="#d8183c"/>
<circle cx="25.9" cy="3.3" r="1.9" fill="#d8183c"/>
<circle cx="62.5" cy="50.4" r="2.5" fill="#d8183c"/>
<circle cx="80.5" cy="18.5" r="1.6" fill="#d8183c"/>
<circle cx="75.5" cy="59.0" r="2.0" fill="#d8183c"/>
<circle cx="82.8" cy="41.2" r="1.7" fill="#d8183c"/>
<circle cx="16.8" cy="1.3" r="2.2" fill="#d8183c"/>
<circle cx="89.3" cy="67.7" r="2.0" fill="#d8183c"/>
<circle cx="66.3" cy="69.4" r="2.4" fill="#d8183c"/>
<circle cx="60.0" cy="31.0" r="2.0" fill="#d8183c"/>
<circle cx="17.0" cy="13.7" r="2.2" fill="#d8183c"/>
<circle cx="98.8" cy="40.9" r="1.9" fill="#d8183c"/>
<circle cx="35.0" cy="34.0" r="2.4" fill="#d8183c"/>
<circle cx="45.1" cy="71.7" r="1.6" fill="#d8183c"/>
<circle cx="31.4" cy="39.0" r="1.9" fill="#d8183c"/>
<circle cx="84.8" cy="61.8" r="2.5" fill="#d8183c"/>
<circle cx="61.0" cy="2.3" r="2.1" fill="#d8183c"/>
<circle cx="54.8" cy="36.4" r="1.7" fill="#d8183c"/>
<circle cx="70.7" cy="68.1" r="1.5" fill="#d8183c"/>
<circle cx="66.6" cy="27.7" r="2.0" fill="#d8183c"/>
<circle cx="89.2" cy="71.7" r="2.2" fill="#d8183c"/>
<circle cx="19.4" cy="68.8" r="1.6" fill="#d8183c"/>
<circle cx="38.2" cy="61.9" r="1.8" fill="#d8183c"/>
<circle cx="27.0" cy="71.0" r="2.5" fill="#d8183c"/>
<circle cx="31.6" cy="29.3" r="1.7" fill="#d8183c"/>
<circle cx="13.1" cy="18.7" r="2.6" fill="#d8183c"/>
<circle cx="7.9" cy="17.2" r="1.6" fill="#d8183c"/>
<circle cx="7.9" cy="39.3" r="2.3" fill="#d8183c"/>
<circle cx="83.5" cy="47.1" r="2.4" fill="#d8183c"/>
<circle cx="0.5" cy="21.1" r="2.6" fill="#d8183c"/>
<circle cx="6.9" cy="20.0" r="2.0" fill="#d8183c"/>
<circle cx="26.7" cy="40.8" r="1.5" fill="#d8183c"/>
<circle cx="23.5" cy="71.5" r="1.6" fill="#d8183c"/>
<circle cx="90.2" cy="13.3" r="2.6" fill="#d8183c"/>
<circle cx="67.2" cy="48.3" r="1.6" fill="#d8183c"/>
<circle cx="5.4" cy="56.7" r="1.6" fill="#d8183c"/>
<circle cx="18.9" cy="61.5" r="2.4" fill="#d8183c"/>
<circle cx="4.9" cy="71.8" r="2.0" fill="#d8183c"/>
<circle cx="38.1" cy="8.0" r="1.9" fill="#d8183c"/>
<circle cx="98.4" cy="21.0" r="1.6" fill="#d8183c"/>
<circle cx="14.5" cy="9.5" r="1.8" fill="#d8183c"/>
<circle cx="91.1" cy="5.7" r="1.6" fill="#d8183c"/>
<circle cx="93.6" cy="74.5" r="2.6" fill="#d8183c"/>
<circle cx="24.5" cy="26.5" r="2.5" fill="#d8183c"/>
<circle cx="48.3" cy="52.5" r="1.8" fill="#d8183c"/>
<circle cx="2.1" cy="25.8" r="2.3" fill="#d8183c"/>
<circle cx="77.9" cy="42.5" r="2.0" fill="#d8183c"/>
<circle cx="53.6" cy="33.0" r="2.0" fill="#d8183c"/>
<circle cx="83.0" cy="15.0" r="2.1" fill="#d8183c"/>
<circle cx="92.9" cy="63.4" r="1.6" fill="#d8183c"/>
<circle cx="96.0" cy="62.8" r="1.6" fill="#d8183c"/>
<circle cx="26.5" cy="15.1" r="1.5" fill="#d8183c"/>
<circle cx="97.4" cy="30.6" r="2.4" fill="#d8183c"/>
<circle cx="11.4" cy="1.0" r="2.4" fill="#d8183c"/>
<circle cx="79.1" cy="74.1" r="2.2" fill="#d8183c"/>
<circle cx="52.3" cy="57.2" r="1.5" fill="#d8183c"/>
<circle cx="53.8" cy="33.0" r="1.6" fill="#d8183c"/>
<circle cx="59.8" cy="24.1" r="2.0" fill="#d8183c"/>
<circle cx="37.2" cy="23.8" r="1.8" fill="#d8183c"/>
<circle cx="59.9" cy="73.2" r="2.5" fill="#d8183c"/>
<circle cx="85.9" cy="62.4" r="1.7" fill="#d8183c"/>
<circle cx="97.3" cy="20.2" r="1.5" fill="#d8183c"/>
<circle cx="49.9" cy="54.7" r="1.8" fill="#d8183c"/>
<circle cx="64.3" cy="21.1" r="2.6" fill="#d8183c"/>
<circle cx="45.1" cy="35.7" r="2.0" fill="#d8183c"/>
<circle cx="87.1" cy="73.7" r="2.0" fill="#d8183c"/>
<circle cx="44.0" cy="46.1" r="1.5" fill="#d8183c"/>
<circle cx="42.4" cy="63.3" r="2.3" fill="#d8183c"/>
<circle cx="5.9" cy="63.8" r="1.9" fill="#d8183c"/>
<circle cx="97.7" cy="27.4" r="1.7" fill="#d8183c"/>
<circle cx="54.7" cy="66.0" r="1.9" fill="#d8183c"/>
<circle cx="86.4" cy="53.1" r="1.8" fill="#d8183c"/>
<circle cx="29.9" cy="37.7" r="1.9" fill="#d8183c"/>
<circle cx="37.1" cy="48.7" r="2.5" fill="#d8183c"/>
<circle cx="58.2" cy="10.9" r="1.7" fill="#d8183c"/>
<circle cx="36.9" cy="45.9" r="1.6" fill="#d8183c"/>
<circle cx="8.1" cy="24.0" r="1.7" fill="#d8183c"/>
<circle cx="2.9" cy="40.2" r="2.5" fill="#d8183c"/>
<circle cx="53.2" cy="55.1" r="2.4" fill="#d8183c"/>
<circle cx="83.4" cy="68.2" r="1.9" fill="#d8183c"/>
<circle cx="68.0" cy="9.0" r="2.5" fill="#d8183c"/>
<circle cx="37.7" cy="35.5" r="2.5" fill="#d8183c"/>
<circle cx="28.6" cy="14.2" r="2.4" fill="#d8183c"/>
<circle cx="59.6" cy="6.3" r="1.4" fill="#d8183c"/>
<circle cx="35.0" cy="0.6" r="2.4" fill="#d8183c"/>
<circle cx="18.3" cy="20.5" r="1.9" fill="#d8183c"/>
<circle cx="51.0" cy="32.3" r="2.2" fill="#d8183c"/>
<circle cx="65.7" cy="32.6" r="1.5" fill="#d8183c"/>
<circle cx="97.5" cy="51.6" r="1.5" fill="#d8183c"/>
<circle cx="44.0" cy="56.3" r="2.6" fill="#d8183c"/>
<circle cx="6.6" cy="0.7" r="2.0" fill="#d8183c"/>
<circle cx="42.0" cy="66.8" r="2.4" fill="#d8183c"/>
<circle cx="33.0" cy="31.3" r="2.1" fill="#d8183c"/>
<circle cx="88.1" cy="15.1" r="1.9" fill="#d8183c"/>
<circle cx="8.8" cy="47.9" r="1.4" fill="#d8183c"/>
<circle cx="93.1" cy="39.1" r="2.1" fill="#d8183c"/>
<circle cx="8.5" cy="17.3" r="2.0" fill="#d8183c"/>
<circle cx="85.4" cy="40.3" r="1.7" fill="#d8183c"/>
<circle cx="97.8" cy="49.4" r="2.0" fill="#d8183c"/>
<circle cx="20.2" cy="22.3" r="2.5" fill="#d8183c"/>
<circle cx="13.2" cy="39.7" r="2.1" fill="#d8183c"/>
<circle cx="35.3" cy="57.4" r="2.5" fill="#d8183c"/>
<circle cx="85.4" cy="55.1" r="1.6" fill="#d8183c"/>
<circle cx="6.0" cy="32.3" r="1.8" fill="#d8183c"/>
<circle cx="19.3" cy="65.1" r="1.7" fill="#d8183c"/>
<circle cx="81.9" cy="70.0" r="1.5" fill="#d8183c"/>
<circle cx="91.0" cy="29.7" r="1.7" fill="#d8183c"/>
<circle cx="18.6" cy="2.8" r="2.0" fill="#d8183c"/>
<circle cx="38.3" cy="63.6" r="2.4" fill="#d8183c"/>
<circle cx="5.7" cy="30.0" r="1.9" fill="#d8183c"/>
<circle cx="17.7" cy="18.7" r="1.7" fill="#d8183c"/>
<circle cx="69.1" cy="25.4" r="1.5" fill="#d8183c"/>
<circle cx="22.0" cy="33.0" r="2.1" fill="#d8183c"/>
<circle cx="24.5" cy="52.3" r="1.7" fill="#d8183c"/>
<circle cx="66.8" cy="45.5" r="1.6" fill="#d8183c"/>
<circle cx="74.8" cy="29.4" r="2.0" fill="#d8183c"/>
<circle cx="59.5" cy="46.9" r="1.9" fill="#d8183c"/>
<circle cx="5.6" cy="58.8" r="2.4" fill="#d8183c"/>
<circle cx="48.8" cy="43.3" r="1.7" fill="#d8183c"/>
<circle cx="89.5" cy="51.2" r="1.7" fill="#d8183c"/>
<circle cx="81.4" cy="73.7" r="1.8" fill="#d8183c"/>
<circle cx="99.2" cy="36.1" r="1.6" fill="#d8183c"/>
<circle cx="71.4" cy="25.3" r="2.3" fill="#d8183c"/>
<circle cx="58.1" cy="8.0" r="2.0" fill="#d8183c"/>
<circle cx="84.7" cy="35.7" r="2.0" fill="#d8183c"/>
<circle cx="86.0" cy="33.4" r="2.0" fill="#d8183c"/>
<circle cx="58.0" cy="61.5" r="1.6" fill="#d8183c"/>
<circle cx="9.3" cy="56.9" r="2.1" fill="#d8183c"/>
<ellipse cx="43.7" cy="19.8" rx="5.7" ry="4.5" fill="#d8183c"/>
<ellipse cx="48.9" cy="25.8" rx="4.8" ry="3.3" fill="#d8183c"/>
<ellipse cx="29.5" cy="25.8" rx="3.9" ry="3.6" fill="#d8183c"/>
<ellipse cx="36.2" cy="36.2" rx="6.7" ry="4.5" fill="#d8183c"/>
<ellipse cx="25.1" cy="15.4" rx="3.0" ry="3.0" fill="#d8183c"/>
<ellipse cx="42.2" cy="49.6" rx="4.5" ry="4.8" fill="#d8183c"/>
<ellipse cx="45.2" cy="60.0" rx="7.1" ry="5.7" fill="#d8183c"/>
<ellipse cx="36.2" cy="54.1" rx="4.2" ry="3.3" fill="#d8183c"/>
<ellipse cx="67.5" cy="37.0" rx="3.7" ry="3.9" fill="#d8183c"/>
<ellipse cx="74.9" cy="42.9" rx="5.2" ry="4.8" fill="#d8183c"/>
<ellipse cx="81.6" cy="45.2" rx="3.9" ry="3.3" fill="#d8183c"/>
<ellipse cx="88.3" cy="50.4" rx="3.9" ry="4.2" fill="#d8183c"/>
<ellipse cx="94.3" cy="61.5" rx="5.4" ry="4.5" fill="#d8183c"/>
<ellipse cx="61.5" cy="61.5" rx="4.5" ry="4.2" fill="#d8183c"/>
<ellipse cx="55.6" cy="48.1" rx="3.9" ry="3.6" fill="#d8183c"/>
<ellipse cx="52.6" cy="41.4" rx="3.0" ry="3.0" fill="#d8183c"/>
<ellipse cx="29.5" cy="42.9" rx="3.3" ry="3.3" fill="#d8183c"/>
<ellipse cx="18.4" cy="13.9" rx="2.4" ry="2.4" fill="#d8183c"/>
<ellipse cx="22.8" cy="5.7" rx="2.4" ry="2.4" fill="#d8183c"/>
<ellipse cx="38.5" cy="7.2" rx="2.7" ry="3.0" fill="#d8183c"/>
<ellipse cx="95.8" cy="5.7" rx="3.0" ry="2.7" fill="#d8183c"/>
<ellipse cx="69.0" cy="69.0" rx="3.7" ry="3.3" fill="#d8183c"/>
<ellipse cx="77.9" cy="67.5" rx="3.3" ry="3.0" fill="#d8183c"/>
<ellipse cx="57.1" cy="69.0" rx="3.0" ry="3.0" fill="#d8183c"/>
<ellipse cx="33.2" cy="16.9" rx="2.7" ry="2.7" fill="#d8183c"/>
<ellipse cx="40.7" cy="13.1" rx="2.7" ry="2.4" fill="#d8183c"/>
<ellipse cx="25.1" cy="36.2" rx="2.7" ry="2.7" fill="#d8183c"/>
<ellipse cx="31.0" cy="31.8" rx="3.0" ry="2.7" fill="#d8183c"/>
<ellipse cx="48.9" cy="33.2" rx="2.7" ry="2.4" fill="#d8183c"/>
<ellipse cx="61.5" cy="33.2" rx="3.0" ry="3.0" fill="#d8183c"/>
<ellipse cx="66.0" cy="48.1" rx="2.7" ry="2.7" fill="#d8183c"/>
<ellipse cx="79.4" cy="55.6" rx="3.0" ry="2.7" fill="#d8183c"/>
<ellipse cx="85.4" cy="61.5" rx="2.7" ry="2.4" fill="#d8183c"/>
<ellipse cx="50.4" cy="66.7" rx="3.6" ry="3.3" fill="#d8183c"/>
<ellipse cx="43.7" cy="70.5" rx="3.0" ry="2.7" fill="#d8183c"/>
<ellipse cx="28.0" cy="49.6" rx="2.4" ry="2.4" fill="#d8183c"/>
<ellipse cx="18.4" cy="28.8" rx="2.1" ry="2.1" fill="#d8183c"/>
<ellipse cx="13.9" cy="18.4" rx="1.8" ry="1.8" fill="#d8183c"/>
<ellipse cx="34.0" cy="3.5" rx="2.1" ry="1.8" fill="#d8183c"/>
<ellipse cx="9.4" cy="7.9" rx="1.8" ry="1.8" fill="#d8183c"/>
<ellipse cx="94.3" cy="69.0" rx="2.4" ry="2.1" fill="#d8183c"/>
<ellipse cx="89.8" cy="40.7" rx="2.1" ry="2.1" fill="#d8183c"/>
<ellipse cx="97.3" cy="52.6" rx="2.1" ry="2.1" fill="#d8183c"/>
<ellipse cx="73.4" cy="60.0" rx="2.7" ry="2.7" fill="#d8183c"/>
<ellipse cx="54.1" cy="58.6" rx="2.7" ry="2.4" fill="#d8183c"/>
<ellipse cx="61.5" cy="16.9" rx="1.8" ry="1.8" fill="#d8183c"/>
<ellipse cx="76.4" cy="28.8" rx="1.8" ry="1.8" fill="#d8183c"/>
</svg>
<svg x="393.3" y="827.3" width="99.9" height="74.7" viewBox="0 0 99.9 74.7">
<rect width="99.9" height="74.7" fill="#f0c6d0"/>
<rect width="99.9" height="74.7" filter="url(#tx4)"/>
<rect width="99.9" height="74.7" filter="url(#tx4b)"/>
<rect width="99.9" height="74.7" filter="url(#tx4c)"/>
</svg>
<line x1="478" y1="892" x2="485.5" y2="892" stroke-width="1.5" stroke="#000"/>
<text x="520" y="747" font-size="19" font-weight="bold">q</text>
<line x1="566.5" y1="768.9" x2="566.5" y2="888" stroke-width="1.4" stroke="#000"/>
<line x1="560.5" y1="887.4" x2="566.5" y2="887.4" stroke-width="1.4" stroke="#000"/>
<text x="558.7" y="891.36" font-size="11" text-anchor="end">0</text>
<line x1="560.5" y1="863.82" x2="566.5" y2="863.82" stroke-width="1.4" stroke="#000"/>
<text x="558.7" y="867.78" font-size="11" text-anchor="end">50</text>
<line x1="560.5" y1="840.24" x2="566.5" y2="840.24" stroke-width="1.4" stroke="#000"/>
<text x="558.7" y="844.2" font-size="11" text-anchor="end">100</text>
<line x1="560.5" y1="816.66" x2="566.5" y2="816.66" stroke-width="1.4" stroke="#000"/>
<text x="558.7" y="820.62" font-size="11" text-anchor="end">150</text>
<line x1="560.5" y1="793.08" x2="566.5" y2="793.08" stroke-width="1.4" stroke="#000"/>
<text x="558.7" y="797.04" font-size="11" text-anchor="end">200</text>
<line x1="560.5" y1="769.5" x2="566.5" y2="769.5" stroke-width="1.4" stroke="#000"/>
<text x="558.7" y="773.46" font-size="11" text-anchor="end">250</text>
<line x1="565.9" y1="887.4" x2="664.5" y2="887.4" stroke-width="1.4" stroke="#000"/>
<rect x="574.7" y="872.31" width="15.6" height="15.09" fill="#fff" stroke="#000" stroke-width="1.4"/>
<line x1="582.5" y1="872.31" x2="582.5" y2="871.37" stroke-width="1.3" stroke="#000"/>
<line x1="578.9" y1="871.37" x2="586.1" y2="871.37" stroke-width="1.3" stroke="#000"/>
<rect x="590.3" y="877.02" width="15.8" height="10.38" fill="#ff6600" stroke="#000" stroke-width="1.4"/>
<line x1="598.2" y1="877.02" x2="598.2" y2="876.32" stroke-width="1.3" stroke="#000"/>
<line x1="594.6" y1="876.32" x2="601.8" y2="876.32" stroke-width="1.3" stroke="#000"/>
<rect x="623.8" y="813.36" width="15.2" height="74.04" fill="#fff" stroke="#000" stroke-width="1.4"/>
<line x1="631.4" y1="813.36" x2="631.4" y2="803.46" stroke-width="1.3" stroke="#000"/>
<line x1="627.8" y1="803.46" x2="635" y2="803.46" stroke-width="1.3" stroke="#000"/>
<rect x="639" y="854.39" width="15.5" height="33.01" fill="#ff6600" stroke="#000" stroke-width="1.4"/>
<line x1="646.8" y1="854.39" x2="646.8" y2="847.79" stroke-width="1.3" stroke="#000"/>
<line x1="643.2" y1="847.79" x2="650.4" y2="847.79" stroke-width="1.3" stroke="#000"/>
<circle cx="626.92" cy="790.75" r="1.35" fill="#000"/>
<circle cx="634.89" cy="789.42" r="1.35" fill="#000"/>
<circle cx="631.1" cy="808.4" r="1.35" fill="#000"/>
<circle cx="634.89" cy="808.4" r="1.35" fill="#000"/>
<circle cx="631.48" cy="822.25" r="1.35" fill="#000"/>
<circle cx="631.1" cy="857.74" r="1.35" fill="#000"/>
<circle cx="643.44" cy="840.09" r="1.35" fill="#000"/>
<circle cx="651.6" cy="836.86" r="1.35" fill="#000"/>
<circle cx="647.23" cy="859.64" r="1.35" fill="#000"/>
<circle cx="643.44" cy="867.23" r="1.35" fill="#000"/>
<circle cx="651.6" cy="870.08" r="1.35" fill="#000"/>
<circle cx="577.01" cy="871.03" r="1" fill="#000"/>
<circle cx="579.86" cy="871.6" r="1" fill="#000"/>
<circle cx="582.7" cy="871.98" r="1" fill="#000"/>
<circle cx="585.55" cy="872.36" r="1" fill="#000"/>
<circle cx="588.4" cy="872.92" r="1" fill="#000"/>
<circle cx="593.14" cy="875.77" r="1" fill="#000"/>
<circle cx="595.99" cy="876.15" r="1" fill="#000"/>
<circle cx="598.83" cy="876.53" r="1" fill="#000"/>
<circle cx="601.68" cy="876.72" r="1" fill="#000"/>
<circle cx="604.53" cy="877.1" r="1" fill="#000"/>
<path d="M643.75,824.55L643.75,829.05M641.80,825.67L645.70,827.92M641.80,827.92L645.70,825.67M650.65,824.55L650.65,829.05M648.70,825.67L652.60,827.92M648.70,827.92L652.60,825.67" stroke="#333" stroke-width="0.9" stroke-linecap="round" fill="none"/>
<text x="589.2" y="898.64" text-anchor="middle">CD</text>
<text x="640.3" y="898.64" text-anchor="middle">HFD</text>
<text x="0" y="0" font-size="11.5" text-anchor="middle" fill="#000" transform="translate(530.54 831.8) rotate(-90)">Liver TG (mg/g)</text>
<rect x="617.3" y="733" width="7.6" height="8.5" fill="#fff" stroke="#000" stroke-width="1.2"/>
<rect x="617.3" y="744.1" width="7.6" height="8.5" fill="#ff6600" stroke="#000" stroke-width="1.2"/>
<text x="627.1" y="741.64">WT</text>
<text x="627.1" y="752.44">MKO</text>
</svg>
</body></html>
